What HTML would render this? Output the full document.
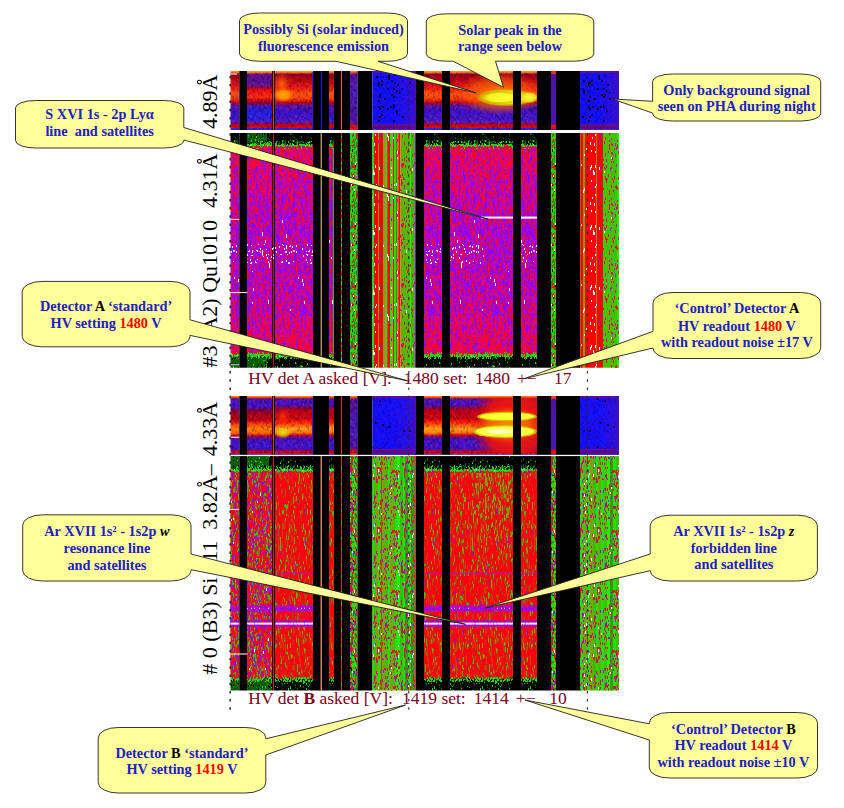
<!DOCTYPE html>
<html><head><meta charset="utf-8"><title>HV detectors</title>
<style>html,body{margin:0;padding:0;background:#fff;}body{width:844px;height:808px;overflow:hidden;font-family:"Liberation Serif",serif;}svg{display:block}</style>
</head><body><svg width="844" height="808" viewBox="0 0 844 808" font-family="Liberation Serif, serif"><defs><pattern id="p1" x="0" y="0" width="30" height="50" patternUnits="userSpaceOnUse"><path stroke="#000000" stroke-width="1.5" fill="none" d="M0.75 6v2M2.25 30v2m0 12v2M3.75 4v4m0 12v2m0 16v2m0 6v2M5.25 24v2M6.75 10v2m0 28v2M8.25 34v2M9.75 42v2M12.75 30v2m0 6v2M14.25 30v2m0 8v4M17.25 26v2M18.75 0v2m0 4v2m0 12v2m0 10v4M20.25 8v2m0 6v2m0 28v2M21.75 14v2m0 14v2m0 2v2M23.25 6v2M27.75 8v2m0 28v2M29.25 24v6"/></pattern><pattern id="p2" x="0" y="0" width="45" height="48" patternUnits="userSpaceOnUse"><rect width="45" height="48" fill="#1010ff"/><path stroke="#2010f0" stroke-width="1.5" fill="none" d="M0.75 0v2m0 2v2m0 18v2m0 8v2M2.25 0v2m0 18v4m0 8v2M3.75 0v2m0 4v2m0 8v2m0 2v4m0 14v2M5.25 0v4m0 18v4m0 2v2m0 10v2M6.75 2v2m0 6v16m0 6v4m0 2v2m0 6v2M8.25 0v4m0 6v4m0 8v4m0 14v2M9.75 0v2m0 12v2m0 12v2m0 2v2M11.25 0v2m0 12v2m0 14v2m0 4v4M12.75 4v2m0 2v2m0 34v2M14.25 2v2m0 4v2m0 2v2m0 4v2m0 4v2m0 6v2m0 12v2M15.75 0v8m0 8v2m0 2v2m0 2v6m0 8v2m0 4v2M17.25 4v2m0 6v2m0 14v2m0 14v2M18.75 2v2m0 4v2m0 2v2m0 2v4m0 4v2m0 2v2m0 2v2M20.25 2v4m0 8v2m0 2v2m0 6v2m0 4v2m0 8v2M21.75 12v2m0 10v2m0 4v2m0 10v2M23.25 2v2m0 16v2m0 10v2m0 4v2M24.75 0v2m0 2v2m0 18v4m0 2v2m0 2v2m0 2v4M26.25 10v2m0 6v2m0 2v2m0 8v2m0 6v2M27.75 0v2m0 6v2m0 6v2m0 8v2m0 18v2M29.25 14v2m0 14v2m0 4v4m0 6v2M30.75 6v2m0 10v2m0 8v4m0 10v4M32.25 4v2m0 12v2m0 6v2m0 18v2M33.75 0v2m0 4v2m0 10v4m0 20v2m0 2v2M35.25 6v2m0 10v2m0 6v4m0 10v6M36.75 4v4m0 2v4m0 16v2m0 4v2m0 2v2m0 4v2M38.25 22v4m0 2v2m0 14v4M39.75 2v2m0 4v4m0 14v2m0 8v2M41.25 4v4m0 24v4m0 2v2m0 2v2m0 2v2M42.75 18v2m0 6v2m0 8v4M44.25 0v2m0 2v2m0 4v2m0 2v2m0 12v2m0 2v2m0 4v2m0 2v2"/><path stroke="#0a0ae0" stroke-width="1.5" fill="none" d="M0.75 6v2m0 10v2M2.25 8v2m0 20v2m0 10v2m0 2v2M3.75 2v2m0 4v2m0 2v2m0 28v4M5.25 4v2m0 36v6M6.75 30v2m0 4v2M8.25 6v2m0 36v4M9.75 10v2m0 12v2m0 12v4m0 4v2M11.25 2v2m0 4v2m0 6v2m0 2v2m0 2v2m0 8v2m0 8v2M12.75 0v2m0 4v2m0 4v4m0 6v2m0 12v2M14.25 10v2m0 8v2m0 18v2m0 2v2M15.75 18v2m0 10v2m0 2v2m0 4v2M17.25 16v2m0 22v2M18.75 10v2m0 24v4M20.25 0v2m0 4v2m0 4v2m0 14v2m0 10v2M21.75 4v2m0 8v4m0 10v2m0 6v4m0 4v2M23.25 28v2m0 10v2M24.75 16v2m0 2v4m0 18v2M26.25 8v2m0 4v2m0 4v2m0 2v2m0 2v2m0 4v2M27.75 4v2m0 22v2m0 4v2m0 4v2M29.25 34v2m0 4v2m0 2v2M30.75 2v2m0 6v2m0 10v2M32.25 10v4m0 10v2m0 6v2m0 8v2M33.75 4v2m0 2v6m0 2v2m0 8v2m0 8v4m0 4v2M35.25 0v2m0 6v2m0 14v2M36.75 0v2m0 12v2m0 2v2m0 24v2M38.25 18v2M39.75 0v2m0 10v2m0 26v4M41.25 8v2m0 30v2M42.75 2v2m0 28v2m0 6v4M44.25 2v2m0 12v2m0 4v2m0 2v2m0 18v2"/><path stroke="#3000c8" stroke-width="1.5" fill="none" d="M0.75 22v2M2.25 4v2m0 28v2m0 2v2M5.25 32v2m0 4v2M6.75 4v2M8.25 4v2M9.75 12v2M11.25 40v2M12.75 10v2m0 22v2m0 10v2M15.75 22v2m0 22v2M18.75 0v2m0 18v4M20.25 10v2m0 24v2M21.75 22v2m0 10v2M23.25 18v2M24.75 10v2M26.25 36v2M27.75 12v2m0 4v2m0 12v2M29.25 24v2M30.75 38v2M32.25 6v2m0 14v2m0 4v2M33.75 24v2M35.25 46v2M36.75 38v2M38.25 8v2M39.75 18v2m0 14v2M42.75 10v2"/><path stroke="#000000" stroke-width="1.5" fill="none" d="M5.25 34v2M9.75 2v2M20.25 46v2M24.75 2v2M35.25 34v2M36.75 16v2M42.75 20v2"/></pattern><pattern id="p3" x="0" y="0" width="45" height="48" patternUnits="userSpaceOnUse"><rect width="45" height="48" fill="#1010ff"/><path stroke="#2010f0" stroke-width="1.5" fill="none" d="M0.75 6v2m0 36v2M2.25 14v2m0 6v2m0 2v4m0 12v2M3.75 4v2m0 2v2m0 2v2m0 4v2m0 4v2m0 4v2m0 2v2m0 4v2M5.25 0v2m0 6v4m0 2v2m0 6v2m0 2v4m0 2v2m0 4v2M6.75 0v2m0 2v2m0 6v4m0 8v8m0 4v2m0 4v2M8.25 14v2m0 16v6m0 4v2M9.75 16v2m0 16v2m0 2v2m0 2v2m0 2v2M11.25 8v2m0 2v2m0 6v2m0 8v10m0 2v2M12.75 0v2m0 6v2m0 6v2m0 4v2m0 8v2m0 2v2m0 4v6M14.25 2v2m0 22v4m0 4v2M15.75 10v2m0 2v2m0 8v2m0 20v2M17.25 0v2m0 10v2m0 16v2m0 4v2m0 6v4M18.75 4v4m0 6v2m0 8v2M20.25 8v2m0 16v2m0 8v2m0 2v2M21.75 2v2m0 14v2m0 18v2m0 4v2M23.25 2v4m0 2v2m0 10v4m0 8v2M24.75 0v6m0 4v2m0 10v2m0 10v2m0 6v6M26.25 8v2m0 4v2m0 12v2m0 4v4m0 2v2m0 4v2M27.75 16v2m0 20v4m0 4v2M29.25 4v2m0 2v4m0 8v2m0 2v2m0 18v2M30.75 22v4m0 2v2m0 4v2M32.25 10v2m0 8v2m0 4v6m0 2v2m0 2v2m0 2v2m0 2v2M33.75 2v2m0 6v2m0 4v4m0 12v2m0 8v2M35.25 16v2m0 20v2m0 4v2M36.75 8v2m0 14v6m0 2v2m0 10v2M38.25 6v4m0 16v2m0 6v2m0 8v2M39.75 6v2m0 2v2m0 20v8m0 2v2M41.25 0v4m0 2v4m0 20v4m0 2v4M42.75 8v2m0 2v2m0 4v6m0 16v2m0 4v2M44.25 2v4m0 8v2m0 8v2m0 2v2m0 2v4m0 2v2"/><path stroke="#0a0ae0" stroke-width="1.5" fill="none" d="M0.75 10v2m0 8v2m0 10v4M2.25 4v2m0 38v2M3.75 2v2m0 2v2m0 6v2m0 26v2m0 2v2M6.75 6v2m0 2v2m0 22v2M8.25 0v2m0 26v2m0 8v2M9.75 0v2m0 10v2m0 8v2m0 2v2m0 16v2M11.25 4v2m0 12v2m0 8v2m0 16v2M12.75 20v2m0 4v2m0 6v2M14.25 0v2m0 14v2m0 2v2m0 14v4M15.75 8v2m0 26v2M17.25 16v2m0 16v2M18.75 20v4m0 6v2m0 6v2m0 2v2M20.25 12v2m0 4v2m0 14v2m0 8v4M21.75 14v2m0 30v2M23.25 10v2m0 14v4m0 16v2M24.75 12v6m0 10v2m0 10v2M26.25 0v4m0 6v2m0 32v2M27.75 4v2m0 36v2M29.25 0v2m0 4v2m0 6v6m0 6v2m0 2v2m0 2v2m0 2v2M30.75 16v2m0 20v4M33.75 12v2M35.25 4v6m0 32v2m0 2v2M36.75 2v2m0 2v2m0 28v2m0 4v2m0 2v2M38.25 4v2m0 4v2m0 10v2m0 16v2M39.75 12v2M41.25 12v2m0 6v4m0 16v2m0 2v2M42.75 2v2m0 20v2m0 12v2m0 2v2M44.25 44v2"/><path stroke="#3000c8" stroke-width="1.5" fill="none" d="M0.75 14v4m0 6v2m0 14v2M2.25 20v2m0 18v2M3.75 38v2m0 4v2M5.25 2v4m0 36v2M6.75 22v2m0 16v2M8.25 4v2m0 6v2m0 4v4m0 18v2m0 4v2M9.75 20v2m0 2v2m0 10v2M11.25 14v2M12.75 2v6M14.25 22v2m0 8v2m0 8v2m0 2v2M15.75 16v2m0 14v2M17.25 14v2m0 22v2M18.75 28v2M21.75 0v2m0 14v2m0 2v2m0 12v2m0 4v2M23.25 14v2M24.75 6v2M26.25 12v2m0 2v2m0 4v2m0 8v2M27.75 10v2m0 18v2M29.25 40v2M30.75 18v2M32.25 0v2m0 22v2M33.75 4v2m0 2v2m0 16v2m0 2v2m0 2v2M35.25 2v2m0 6v2m0 6v2m0 10v2m0 8v2M36.75 4v2m0 6v2m0 8v2m0 14v2M38.25 14v2M39.75 4v2m0 8v2m0 2v2m0 8v2M42.75 0v2m0 30v2M44.25 42v2"/><path stroke="#000000" stroke-width="1.5" fill="none" d="M5.25 46v2M12.75 14v2M15.75 38v2M20.25 16v2M23.25 40v2M29.25 42v2M44.25 46v2"/></pattern><pattern id="p4" x="0" y="0" width="45" height="50" patternUnits="userSpaceOnUse"><path stroke="rgba(0,0,0,0.22)" stroke-width="1.5" fill="none" d="M0.75 8v2m0 3v5m0 12v6m0 4v3M2.25 3v3m0 9v2m0 6v9m0 2v3m0 5v2M3.75 6v3m0 7v3m0 8v5m0 6v3m0 4v3M5.25 18v3m0 3v3m0 10v2m0 8v3M6.75 8v3m0 5v2m0 4v3m0 20v3M8.25 3v3m0 5v2m0 4v3m0 17v4m0 5v4M9.75 11v6M11.25 22v2m0 2v2m0 20v2M12.75 17v2M14.25 26v3M15.75 13v3m0 23v3M17.25 16v3m0 3v2m0 3v3m0 2v2m0 3v3M18.75 5v3m0 3v2m0 6v3m0 13v2m0 8v2M20.25 8v3m0 4v3m0 2v3m0 12v5M21.75 0v5m0 20v2M23.25 16v2m0 6v3m0 11v2m0 3v3m0 3v1M24.75 10v2m0 36v2M26.25 18v3m0 21v2m0 5v1M27.75 4v5m0 8v3m0 9v3m0 2v3m0 2v3M29.25 7v3m0 3v3m0 12v3m0 9v3m0 3v2M30.75 5v2m0 4v3m0 7v3m0 6v2M32.25 2v2m0 12v2m0 5v2m0 13v3M33.75 9v2m0 21v2m0 8v2m0 4v2M35.25 2v3m0 2v5m0 5v2M36.75 0v3m0 7v3m0 12v3m0 7v3m0 4v4m0 3v1M38.25 8v3m0 8v2m0 6v3M39.75 0v3m0 3v3m0 30v3M41.25 2v2m0 3v2m0 4v2m0 7v4m0 21v2M42.75 11v5m0 6v2m0 2v5m0 5v3M44.25 26v2m0 17v5"/><path stroke="rgba(120,0,255,0.22)" stroke-width="1.5" fill="none" d="M0.75 26v2m0 8v2M2.25 40v2M3.75 11v2M6.75 0v2m0 2v2m0 5v2M8.25 0v3m0 19v3M9.75 4v2m0 28v3M11.25 3v3m0 14v2m0 8v3m0 10v5M12.75 10v5m0 24v3m0 3v5M14.25 36v5M15.75 8v3m0 12v3m0 22v2M17.25 13v3m0 14v2M18.75 43v2M20.25 5v3m0 36v3M21.75 10v3M23.25 3v3m0 27v3M24.75 32v2M26.25 8v2M27.75 47v2M29.25 2v5m0 11v3m0 5v2m0 15v3M30.75 48v2M32.25 9v2M33.75 11v2m0 3v2m0 16v5m0 5v2M36.75 38v2M38.25 14v3m0 6v2m0 11v2M39.75 20v3M41.25 28v3M42.75 8v3M44.25 12v2"/><path stroke="rgba(255,40,0,0.18)" stroke-width="1.5" fill="none" d="M0.75 38v2m0 5v2M2.25 12v3M5.25 39v2M6.75 6v2m0 17v5m0 3v3m0 3v2m0 2v2M8.25 30v2m0 3v2M9.75 37v2m0 6v2M11.25 16v2m0 20v3M12.75 2v3m0 19v3m0 10v2M14.25 3v2m0 36v3m0 3v3M15.75 42v2M17.25 0v2m0 5v6m0 21v3M18.75 8v3M20.25 26v3M21.75 5v3m0 26v2M23.25 6v3M24.75 15v2m0 23v3M26.25 47v2M27.75 0v2m0 20v2m0 2v3M30.75 3v2m0 40v3M32.25 6v3m0 5v2m0 17v3M35.25 12v5m0 4v2m0 10v2m0 3v3m0 8v1M36.75 3v5M38.25 21v2m0 2v2M39.75 3v3m0 23v2m0 5v3M41.25 11v2M44.25 3v3m0 28v3"/><path stroke="rgba(255,255,255,0.08)" stroke-width="1.5" fill="none" d="M2.25 48v2M3.75 4v2m0 7v3m0 6v5M5.25 3v2m0 2v2m0 7v2m0 3v3M6.75 2v2m0 26v3m0 8v2M8.25 20v2M9.75 31v3M11.25 0v3m0 3v3M14.25 7v2m0 35v3M15.75 37v2M18.75 40v3M20.25 0v3m0 15v2m0 9v3M21.75 20v2m0 7v2m0 12v3M23.25 21v3m0 16v3M24.75 0v3m0 2v3m0 26v3M26.25 6v2m0 7v3m0 3v3m0 20v3M27.75 32v2M29.25 0v2m0 31v5M30.75 17v2M32.25 20v3m0 20v3M33.75 3v3M36.75 20v5m0 8v2M38.25 0v3m0 30v3m0 5v2M39.75 42v5M41.25 4v3m0 27v3M42.75 19v3m0 23v3M44.25 14v3"/></pattern><clipPath id="clipA"><rect x="450" y="73.0" width="63" height="55.0"/><rect x="521" y="73.0" width="16" height="55.0"/></clipPath><clipPath id="clipB"><rect x="450" y="398.0" width="63" height="54.80000000000001"/><rect x="521" y="398.0" width="16" height="54.80000000000001"/></clipPath><linearGradient id="g1" x1="0" y1="0" x2="0" y2="1"><stop offset="0" stop-color="#ffa020"/><stop offset="0.035" stop-color="#ff6010"/><stop offset="0.05" stop-color="#5a1090"/><stop offset="0.24" stop-color="#5a1090"/><stop offset="0.28" stop-color="#a00030"/><stop offset="0.33" stop-color="#f01010"/><stop offset="0.45" stop-color="#ff2808"/><stop offset="0.5" stop-color="#c00020"/><stop offset="0.55" stop-color="#800040"/><stop offset="0.6" stop-color="#3018c8"/><stop offset="0.72" stop-color="#2020e8"/><stop offset="0.86" stop-color="#3818d0"/><stop offset="0.9" stop-color="#b00030"/><stop offset="0.96" stop-color="#c01020"/><stop offset="0.97" stop-color="#3020e0"/><stop offset="1" stop-color="#3020e0"/></linearGradient><linearGradient id="g2" x1="0" y1="0" x2="0" y2="1"><stop offset="0" stop-color="#ffa020"/><stop offset="0.035" stop-color="#ff6010"/><stop offset="0.05" stop-color="#800030"/><stop offset="0.12" stop-color="#b00010"/><stop offset="0.24" stop-color="#d01010"/><stop offset="0.32" stop-color="#ff2808"/><stop offset="0.38" stop-color="#ff5000"/><stop offset="0.47" stop-color="#ff4000"/><stop offset="0.53" stop-color="#c00010"/><stop offset="0.59" stop-color="#5010a0"/><stop offset="0.7" stop-color="#3a10d0"/><stop offset="0.86" stop-color="#4818c0"/><stop offset="0.9" stop-color="#b00030"/><stop offset="0.96" stop-color="#d01010"/><stop offset="0.97" stop-color="#3020e0"/><stop offset="1" stop-color="#3020e0"/></linearGradient><linearGradient id="g3" x1="0" y1="0" x2="0" y2="1"><stop offset="0" stop-color="#5010a0"/><stop offset="0.03728813559322034" stop-color="#5010a0"/><stop offset="0.04406779661016949" stop-color="#3010c0" stop-opacity="0"/><stop offset="0.8813559322033898" stop-color="#3010c0" stop-opacity="0"/><stop offset="0.9067796610169492" stop-color="#5a10a0" stop-opacity="0.9"/><stop offset="0.9745762711864406" stop-color="#700050" stop-opacity="1"/><stop offset="0.9796610169491525" stop-color="#3020e0" stop-opacity="1"/><stop offset="1" stop-color="#3020e0" stop-opacity="1"/></linearGradient><linearGradient id="g4" x1="0" y1="0" x2="0" y2="1"><stop offset="0" stop-color="#ffa020"/><stop offset="0.03" stop-color="#ff3010"/><stop offset="0.06" stop-color="#5010a0"/><stop offset="0.5" stop-color="#4818b8"/><stop offset="0.88" stop-color="#5010a0"/><stop offset="0.92" stop-color="#c01020"/><stop offset="1" stop-color="#e02010"/></linearGradient><linearGradient id="g5" x1="0" y1="0" x2="1" y2="0"><stop offset="0" stop-color="#6010a0" stop-opacity="0"/><stop offset="1" stop-color="#6010a0" stop-opacity="0.45"/></linearGradient><linearGradient id="g6" x1="0" y1="0" x2="1" y2="0"><stop offset="0" stop-color="#4010c0" stop-opacity="0"/><stop offset="1" stop-color="#5010a0" stop-opacity="0.9"/></linearGradient><linearGradient id="g7" x1="0" y1="0" x2="0" y2="1"><stop offset="0" stop-color="#ff3010"/><stop offset="0.04" stop-color="#ff3010"/><stop offset="0.06" stop-color="#5010a0"/><stop offset="0.9" stop-color="#4818b0"/><stop offset="0.92" stop-color="#e01010"/><stop offset="0.98" stop-color="#e01010"/><stop offset="0.99" stop-color="#4020c0"/><stop offset="1" stop-color="#4020c0"/></linearGradient><linearGradient id="g8" x1="0" y1="0" x2="1" y2="0"><stop offset="0" stop-color="#6010a0" stop-opacity="0"/><stop offset="1" stop-color="#6010a0" stop-opacity="0.45"/></linearGradient><linearGradient id="g9" x1="0" y1="0" x2="1" y2="0"><stop offset="0" stop-color="#4010c0" stop-opacity="0"/><stop offset="1" stop-color="#5010a0" stop-opacity="0.9"/></linearGradient><radialGradient id="g10"><stop offset="0" stop-color="#ff7000" stop-opacity="0.9"/><stop offset="1" stop-color="#ff4000" stop-opacity="0"/></radialGradient><radialGradient id="g11"><stop offset="0" stop-color="#ffa800" stop-opacity="1"/><stop offset="0.55" stop-color="#ff9000" stop-opacity="0.95"/><stop offset="1" stop-color="#ff5000" stop-opacity="0"/></radialGradient><radialGradient id="g12"><stop offset="0" stop-color="#ff9000" stop-opacity="0.9"/><stop offset="0.7" stop-color="#ff6000" stop-opacity="0.5"/><stop offset="1" stop-color="#ff3000" stop-opacity="0"/></radialGradient><radialGradient id="g13"><stop offset="0" stop-color="#ffff40" stop-opacity="1"/><stop offset="0.6" stop-color="#f8f020" stop-opacity="1"/><stop offset="0.85" stop-color="#d0c000" stop-opacity="0.8"/><stop offset="1" stop-color="#ff9000" stop-opacity="0"/></radialGradient><radialGradient id="g14"><stop offset="0" stop-color="#ffff40" stop-opacity="1"/><stop offset="0.7" stop-color="#e8e020" stop-opacity="0.9"/><stop offset="1" stop-color="#ff9000" stop-opacity="0"/></radialGradient><linearGradient id="g15" x1="0" y1="0" x2="0" y2="1"><stop offset="0" stop-color="#ffa020"/><stop offset="0.03" stop-color="#ff3010"/><stop offset="0.05" stop-color="#4a10b0"/><stop offset="0.18" stop-color="#3a10d0"/><stop offset="0.24" stop-color="#800040"/><stop offset="0.32" stop-color="#b00018"/><stop offset="0.42" stop-color="#c00010"/><stop offset="0.48" stop-color="#ff4000"/><stop offset="0.56" stop-color="#ff8000"/><stop offset="0.63" stop-color="#ff6000"/><stop offset="0.68" stop-color="#b00020"/><stop offset="0.73" stop-color="#4010c0"/><stop offset="0.9" stop-color="#3a10d0"/><stop offset="0.93" stop-color="#a00030"/><stop offset="0.98" stop-color="#c01020"/><stop offset="1" stop-color="#4020c0"/></linearGradient><linearGradient id="g16" x1="0" y1="0" x2="0" y2="1"><stop offset="0" stop-color="#ffa020"/><stop offset="0.03" stop-color="#ff3010"/><stop offset="0.05" stop-color="#4a10b0"/><stop offset="0.15" stop-color="#4010c0"/><stop offset="0.2" stop-color="#800040"/><stop offset="0.25" stop-color="#c00010"/><stop offset="0.38" stop-color="#d00010"/><stop offset="0.45" stop-color="#ff2000"/><stop offset="0.5" stop-color="#ff6000"/><stop offset="0.56" stop-color="#ffa020"/><stop offset="0.62" stop-color="#ff7000"/><stop offset="0.67" stop-color="#c00020"/><stop offset="0.72" stop-color="#4010c0"/><stop offset="0.9" stop-color="#4010c8"/><stop offset="0.93" stop-color="#a00030"/><stop offset="0.98" stop-color="#c01020"/><stop offset="1" stop-color="#4020c0"/></linearGradient><linearGradient id="g17" x1="0" y1="0" x2="0" y2="1"><stop offset="0" stop-color="#5010a0"/><stop offset="0.03741496598639455" stop-color="#5010a0"/><stop offset="0.044217687074829926" stop-color="#3010c0" stop-opacity="0"/><stop offset="0.8809523809523809" stop-color="#3010c0" stop-opacity="0"/><stop offset="0.9064625850340137" stop-color="#5a10a0" stop-opacity="0.9"/><stop offset="0.9744897959183674" stop-color="#700050" stop-opacity="1"/><stop offset="0.9795918367346939" stop-color="#3020e0" stop-opacity="1"/><stop offset="1" stop-color="#3020e0" stop-opacity="1"/></linearGradient><linearGradient id="g18" x1="0" y1="0" x2="0" y2="1"><stop offset="0" stop-color="#ffa020"/><stop offset="0.03" stop-color="#ff3010"/><stop offset="0.06" stop-color="#5010a0"/><stop offset="0.5" stop-color="#4818b8"/><stop offset="0.88" stop-color="#5010a0"/><stop offset="0.92" stop-color="#c01020"/><stop offset="1" stop-color="#e02010"/></linearGradient><linearGradient id="g19" x1="0" y1="0" x2="1" y2="0"><stop offset="0" stop-color="#6010a0" stop-opacity="0"/><stop offset="1" stop-color="#6010a0" stop-opacity="0.45"/></linearGradient><linearGradient id="g20" x1="0" y1="0" x2="1" y2="0"><stop offset="0" stop-color="#4010c0" stop-opacity="0"/><stop offset="1" stop-color="#5010a0" stop-opacity="0.9"/></linearGradient><linearGradient id="g21" x1="0" y1="0" x2="0" y2="1"><stop offset="0" stop-color="#ff3010"/><stop offset="0.04" stop-color="#ff3010"/><stop offset="0.06" stop-color="#5010a0"/><stop offset="0.9" stop-color="#4818b0"/><stop offset="0.92" stop-color="#e01010"/><stop offset="0.98" stop-color="#e01010"/><stop offset="0.99" stop-color="#4020c0"/><stop offset="1" stop-color="#4020c0"/></linearGradient><linearGradient id="g22" x1="0" y1="0" x2="1" y2="0"><stop offset="0" stop-color="#6010a0" stop-opacity="0"/><stop offset="1" stop-color="#6010a0" stop-opacity="0.45"/></linearGradient><linearGradient id="g23" x1="0" y1="0" x2="1" y2="0"><stop offset="0" stop-color="#4010c0" stop-opacity="0"/><stop offset="1" stop-color="#5010a0" stop-opacity="0.9"/></linearGradient><radialGradient id="g24"><stop offset="0" stop-color="#f0e000" stop-opacity="1"/><stop offset="0.6" stop-color="#e0d000" stop-opacity="0.7"/><stop offset="1" stop-color="#ff9000" stop-opacity="0"/></radialGradient><radialGradient id="g25"><stop offset="0" stop-color="#ff3000" stop-opacity="0.9"/><stop offset="1" stop-color="#ff3000" stop-opacity="0"/></radialGradient><radialGradient id="g26"><stop offset="0" stop-color="#ffa000" stop-opacity="0.9"/><stop offset="1" stop-color="#ff8000" stop-opacity="0"/></radialGradient><radialGradient id="g27"><stop offset="0" stop-color="#ff2000" stop-opacity="1"/><stop offset="0.65" stop-color="#e81010" stop-opacity="0.9"/><stop offset="1" stop-color="#c00020" stop-opacity="0"/></radialGradient><radialGradient id="g28"><stop offset="0" stop-color="#ff9000" stop-opacity="1"/><stop offset="0.6" stop-color="#ff7000" stop-opacity="0.8"/><stop offset="1" stop-color="#ff4000" stop-opacity="0"/></radialGradient><radialGradient id="g29"><stop offset="0" stop-color="#ffffe0" stop-opacity="1"/><stop offset="0.6" stop-color="#ffffa0" stop-opacity="1"/><stop offset="1" stop-color="#ffff40" stop-opacity="0"/></radialGradient><pattern id="p5" x="0" y="149" width="64" height="205" patternUnits="userSpaceOnUse"><path stroke="#a000e8" stroke-width="1" fill="none" d="M0.5 0v1m0 21v1m0 49v2m0 5v2m0 16v6m0 24v4m0 1v4m0 20v1m0 46v2M1.5 8v2m0 9v5m0 12v3m0 14v1m0 2v1m0 7v3m0 30v4m0 4v8m0 22v2m0 13v2m0 11v5m0 8v3M2.5 23v3m0 12v4m0 3v1m0 5v2m0 12v3m0 18v1m0 4v10m0 10v2m0 18v3m0 36v4m0 25v2M3.5 9v2m0 39v2m0 68v3m0 20v1m0 16v3m0 15v1M4.5 11v8m0 14v1m0 10v3m0 4v4m0 7v5m0 4v3m0 5v2m0 15v3m0 32v3m0 22v4m0 23v2m0 9v1m0 2v1M5.5 25v4m0 4v2m0 49v5m0 1v5m0 9v3m0 19v4m0 21v2m0 1v1M6.5 0v2m0 12v4m0 17v4m0 28v3m0 65v2m0 18v7m0 41v2M7.5 19v1m0 53v5m0 12v2m0 18v5m0 25v5m0 2v3M8.5 17v5m0 9v4m0 11v7m0 31v3m0 6v2m0 42v6m0 18v5m0 11v2m0 3v5M9.5 18v8m0 10v2m0 116v2m0 23v1m0 6v4M10.5 66v2m0 7v4m0 7v2m0 6v4m0 1v1m0 17v2m0 6v4m0 6v1m0 40v2m0 23v4M11.5 34v3m0 6v2m0 9v3m0 22v2m0 12v2m0 32v4m0 3v2m0 60v1M12.5 0v5m0 11v3m0 2v4m0 30v5m0 5v5m0 28v4m0 36v3m0 8v2m0 4v4m0 2v4m0 12v1M13.5 24v1m0 2v4m0 61v4m0 7v11m0 9v2m0 2v3m0 21v3m0 17v2M14.5 25v4m0 48v8m0 5v2m0 20v3m0 21v2m0 2v2m0 34v5M15.5 19v5m0 118v3m0 2v3m0 11v2M16.5 9v5m0 39v4m0 25v3m0 23v4m0 22v4m0 38v5m0 3v1m0 9v2M17.5 33v2m0 31v1m0 27v5m0 22v6m0 7v4M18.5 0v4m0 41v2m0 1v5m0 24v1m0 55v3m0 34v1m0 2v4M19.5 53v2m0 24v3m0 11v2m0 16v3m0 5v2m0 15v1m0 15v4m0 13v3M20.5 25v2m0 18v5m0 13v1m0 8v4m0 25v2m0 9v2m0 38v1m0 11v2M21.5 23v2m0 5v3m0 3v4m0 5v3m0 2v2m0 10v3m0 33v3m0 6v3m0 5v5m0 23v5M22.5 52v5m0 2v2m0 24v2m0 4v5m0 12v2m0 19v7m0 24v5m0 16v5M23.5 0v3m0 50v2m0 4v8m0 67v2M24.5 12v3m0 22v4m0 82v8M25.5 41v5m0 3v1m0 21v3m0 21v2m0 6v5m0 23v4m0 14v2M26.5 11v4m0 81v2m0 18v2m0 23v1m0 2v5m0 11v3m0 18v3M27.5 35v2m0 8v4m0 9v11m0 2v5m0 18v2m0 24v2m0 6v4m0 70v2M28.5 47v3m0 17v19m0 18v1m0 33v1m0 3v2m0 10v7m0 5v4m0 11v3M29.5 18v2m0 24v10m0 15v4m0 25v4m0 14v5m0 27v5m0 4v1M30.5 3v2m0 18v4m0 9v3m0 78v10m0 26v4M31.5 3v4m0 20v2m0 31v6m0 30v3m0 3v1m0 3v2m0 48v7m0 22v1M32.5 58v2m0 90v3m0 13v2m0 11v1M33.5 51v4m0 19v4m0 32v3m0 87v3M34.5 2v2m0 15v3m0 46v8m0 18v2m0 16v12m0 16v1m0 6v4m0 16v3m0 8v2m0 23v1M35.5 4v2m0 80v1m0 30v1m0 2v2m0 15v3m0 24v2M36.5 27v4m0 34v5m0 9v2m0 31v1m0 42v5M37.5 29v3m0 25v1m0 40v4m0 10v3m0 6v5M38.5 33v5m0 49v2m0 24v2m0 14v4m0 14v4M39.5 5v2m0 27v4m0 13v1m0 14v3m0 25v6m0 19v1m0 17v1m0 12v4m0 12v4m0 4v5m0 19v2M40.5 35v4m0 8v1m0 20v1m0 9v5m0 11v2m0 3v3m0 28v4m0 62v2M41.5 8v5m0 26v2m0 4v1m0 4v1m0 3v3m0 41v1m0 34v3m0 10v2m0 12v2m0 9v2m0 15v4M42.5 18v2m0 21v2m0 37v2m0 24v3m0 17v2m0 12v7m0 19v4m0 15v4m0 2v2m0 9v2M43.5 22v2m0 45v3m0 22v3m0 20v3m0 3v3m0 14v1m0 30v1M44.5 42v1m0 36v1m0 10v2m0 16v1m0 12v2m0 20v1m0 23v2m0 13v2m0 17v4M45.5 5v5m0 22v5m0 20v3m0 2v1m0 12v2m0 43v2m0 5v5m0 29v2m0 1v4M46.5 45v2m0 5v3m0 5v7m0 21v2m0 24v1m0 8v4m0 6v5m0 16v5m0 4v5m0 2v1M47.5 0v3m0 7v4m0 34v1m0 57v2m0 39v3M48.5 97v1m0 5v4m0 43v2m0 6v5m0 6v2M49.5 33v10m0 21v3m0 10v2m0 5v4m0 1v2m0 10v6m0 8v3m0 13v3m0 7v2m0 11v2m0 9v4m0 1v4m0 26v4M50.5 11v1m0 20v8m0 14v1m0 3v6m0 2v2m0 19v11m0 48v4m0 8v8M51.5 44v3m0 7v4m0 27v2m0 22v1m0 19v4m0 8v3m0 16v4M52.5 18v3m0 30v6m0 8v1m0 7v5m0 22v2m0 2v5m0 9v1m0 38v2m0 7v2M53.5 22v2m0 7v4m0 7v4m0 9v2m0 32v3m0 13v4m0 36v2m0 32v1m0 13v1M54.5 9v2m0 55v5m0 8v3m0 8v5m0 7v2m0 59v5M55.5 65v5m0 12v2m0 1v1m0 21v2m0 28v5m0 24v2m0 8v2M56.5 54v2m0 19v2m0 7v6m0 18v2m0 54v3m0 10v4M57.5 0v3m0 40v8m0 33v10m0 7v4m0 14v4m0 13v2m0 4v2m0 16v2M58.5 33v2m0 17v1m0 12v7m0 10v5m0 2v3m0 5v3m0 26v5m0 11v3m0 3v3m0 2v2m0 12v2M59.5 20v2m0 7v4m0 9v4m0 12v4m0 42v2m0 19v8m0 5v1m0 33v3m0 16v3M60.5 26v2m0 11v2m0 3v5m0 2v2m0 28v4m0 5v4m0 20v3m0 6v2m0 15v3m0 18v1m0 14v2m0 5v4M61.5 21v1m0 22v2m0 5v2m0 26v2m0 13v2m0 7v2m0 6v4m0 42v1m0 7v3m0 11v1M62.5 21v4m0 77v4m0 6v3m0 5v1M63.5 7v3m0 15v1m0 1v3m0 4v2m0 32v1m0 13v5m0 16v3m0 7v1m0 23v4m0 34v4m0 11v3"/><path stroke="#dc0076" stroke-width="1" fill="none" d="M0.5 1v2m0 9v6m0 25v3m0 16v3m0 53v1m0 5v3m0 4v1m0 4v5m0 13v2m0 1v2m0 11v8m0 17v2M1.5 17v1m0 13v2m0 6v5m0 31v4m0 22v2m0 10v6m0 18v5m0 18v2m0 6v8m0 3v3m0 22v1M2.5 21v2m0 10v2m0 22v2m0 21v1m0 6v4m0 10v3m0 82v2m0 4v2M3.5 0v3m0 8v3m0 8v6m0 2v4m0 5v3m0 81v10m0 19v1m0 20v3M4.5 41v3m0 11v2m0 36v3m0 33v2m0 7v3m0 7v8m0 4v2m0 1v4m0 6v4m0 11v4m0 6v4M5.5 6v4m0 2v3m0 8v2m0 24v2m0 8v3m0 5v3m0 10v1m0 14v2m0 42v4m0 17v5m0 2v1m0 19v3m0 4v2m0 6v3M6.5 11v3m0 4v4m0 4v9m0 13v4m0 20v2m0 13v6m0 6v4m0 11v3m0 14v4m0 16v2M7.5 0v2m0 7v3m0 8v11m0 13v3m0 46v5m0 53v1m0 13v7m0 22v7M8.5 0v4m0 31v4m0 2v5m0 56v3m0 27v2m0 9v5m0 8v2m0 14v4m0 4v2M9.5 0v3m0 9v2m0 15v7m0 6v2m0 15v5m0 22v3m0 18v7m0 38v2m0 2v7m0 7v2m0 20v2m0 5v2M10.5 9v2m0 4v5m0 12v2m0 5v4m0 39v4m0 5v3m0 4v1m0 1v4m0 3v5m0 10v3m0 7v3m0 1v4m0 8v2m0 6v2m0 16v2m0 2v4m0 4v4M11.5 14v2m0 7v4m0 3v4m0 11v4m0 37v3m0 53v3M12.5 5v3m0 1v5m0 11v2m0 13v2m0 6v4m0 12v1m0 5v8m0 11v2m0 28v4m0 13v2m0 21v2m0 17v3m0 1v2M13.5 0v1m0 10v5m0 10v1m0 6v2m0 3v3m0 4v11m0 31v2m0 7v3m0 45v5m0 24v1m0 8v3m0 9v10M14.5 3v1m0 37v5m0 57v4m0 11v6m0 35v5m0 19v3m0 7v4m0 5v3M15.5 27v2m0 5v3m0 10v5m0 59v1m0 26v4m0 30v4m0 10v8m0 6v3M16.5 0v2m0 23v1m0 11v7m0 7v2m0 44v3m0 3v5m0 32v2m0 6v5m0 18v5m0 5v3m0 1v3m0 4v2M17.5 5v2m0 8v2m0 3v4m0 14v6m0 10v4m0 4v1m0 79v4m0 35v1M18.5 5v4m0 4v3m0 14v3m0 3v4m0 26v4m0 6v1m0 1v3m0 34v2m0 44v2m0 17v3M19.5 11v1m0 4v8m0 23v2m0 72v1m0 7v3m0 24v5m0 39v5M20.5 2v1m0 3v2m0 2v3m0 1v2m0 15v1m0 20v5m0 9v4m0 27v4m0 19v3m0 3v5m0 17v2m0 21v5m0 5v4m0 14v2M21.5 0v5m0 5v11m0 4v3m0 5v3m0 12v2m0 2v4m0 13v5m0 46v1m0 9v3m0 39v3m0 5v2M22.5 24v5m0 6v3m0 2v3m0 21v2m0 2v4m0 24v2m0 12v4m0 36v4m0 32v3m0 7v2M23.5 6v10m0 39v4m0 10v1m0 53v4m0 18v4m0 6v5m0 10v6m0 20v4M24.5 19v1m0 10v2m0 9v2m0 9v5m0 113v3m0 8v15m0 5v2M25.5 37v4m0 5v3m0 25v2m0 6v5m0 41v3m0 16v2m0 4v2m0 21v7m0 3v3m0 2v2m0 2v4M26.5 26v1m0 38v1m0 8v3m0 61v3m0 8v2m0 6v2m0 16v3m0 26v1M27.5 24v2m0 15v4m0 31v2m0 68v3m0 4v1m0 11v1m0 12v1m0 25v1M28.5 16v2m0 26v3m0 17v3m0 19v7m0 29v2m0 6v2m0 13v7m0 9v4m0 5v2m0 18v3M29.5 20v4m0 1v1m0 2v9m0 4v3m0 41v3m0 20v6m0 16v3m0 57v3m0 11v1M30.5 39v7m0 6v1m0 3v3m0 13v5m0 23v2m0 45v2m0 13v8m0 6v10M31.5 16v2m0 7v2m0 24v3m0 45v3m0 27v1m0 17v4m0 3v2m0 15v2m0 5v3m0 11v2m0 4v5M32.5 6v8m0 12v5m0 9v4m0 53v7m0 15v3m0 5v4m0 25v4m0 37v5M33.5 7v7m0 24v1m0 39v2m0 8v4m0 23v3m0 1v4m0 28v4m0 1v2m0 16v1m0 3v2M34.5 0v2m0 2v2m0 4v1m0 31v4m0 7v12m0 25v4m0 30v2m0 6v5m0 33v5m0 14v10M35.5 0v4m0 2v4m0 24v1m0 2v3m0 31v2m0 21v2m0 28v5m0 15v3m0 1v2m0 2v4m0 16v4M36.5 8v2m0 24v2m0 7v3m0 24v2m0 9v8m0 13v1m0 6v3m0 13v5m0 41v8m0 11v5M37.5 3v3m0 8v1m0 3v2m0 12v2m0 6v3m0 6v4m0 22v4m0 8v3m0 51v4m0 14v5m0 21v1m0 9v6M38.5 14v5m0 64v2m0 30v3m0 3v2m0 13v6m0 9v5m0 42v1m0 3v2M39.5 0v5m0 47v4m0 13v2m0 15v2m0 25v1m0 24v2m0 30v2m0 22v4M40.5 2v5m0 14v5m0 33v1m0 1v1m0 51v2m0 4v2m0 27v5m0 16v3m0 26v1m0 2v4M41.5 4v1m0 20v8m0 8v4m0 18v6m0 14v2m0 19v2m0 20v5m0 31v9m0 2v2m0 17v2M42.5 0v5m0 41v1m0 14v3m0 14v2m0 2v4m0 7v2m0 23v3m0 12v1m0 30v2m0 4v1m0 2v4M43.5 20v2m0 18v3m0 1v1m0 6v1m0 3v2m0 10v2m0 6v3m0 20v2m0 13v2m0 11v5m0 17v2m0 1v2m0 5v1m0 4v2m0 7v4m0 8v3M44.5 2v3m0 8v1m0 14v2m0 2v2m0 21v1m0 10v2m0 29v2m0 6v3m0 22v5m0 5v3m0 35v1m0 10v6M45.5 0v3m0 11v2m0 2v2m0 17v2m0 49v5m0 47v2m0 16v3m0 35v4M46.5 7v2m0 7v5m0 5v5m0 7v6m0 26v3m0 9v1m0 36v4m0 19v5m0 24v7m0 8v4m0 6v4M47.5 5v2m0 7v5m0 13v4m0 20v3m0 31v3m0 27v2m0 7v5m0 11v2m0 5v2m0 14v2m0 4v5m0 2v5M48.5 5v5m0 4v4m0 32v3m0 15v5m0 19v5m0 10v6m0 9v4m0 15v3m0 44v4M49.5 16v1m0 57v2m0 3v5m0 4v1m0 54v4m0 33v3m0 21v1M50.5 0v3m0 9v8m0 5v2m0 4v1m0 32v2m0 37v2m0 10v2m0 19v4m0 49v4m0 10v2M51.5 0v3m0 20v2m0 11v4m0 18v6m0 6v3m0 14v5m0 1v6m0 20v4m0 4v2m0 18v5m0 12v1m0 2v2m0 2v2m0 4v4m0 10v5M52.5 0v2m0 4v2m0 8v2m0 3v4m0 167v2M53.5 3v1m0 47v4m0 2v2m0 6v1m0 34v4m0 51v2m0 9v3m0 6v4m0 20v1M54.5 16v4m0 33v7m0 25v2m0 20v3m0 17v3m0 38v2m0 9v5m0 17v1M55.5 2v4m0 28v5m0 9v1m0 3v6m0 19v5m0 4v1m0 17v3m0 6v1m0 4v4m0 5v4m0 11v4m0 7v3m0 13v5m0 23v2m0 1v5M56.5 16v4m0 2v2m0 5v3m0 3v2m0 4v5m0 3v5m0 2v2m0 9v2m0 4v2m0 54v3m0 49v2m0 6v3m0 5v3M57.5 15v4m0 10v2m0 104v1m0 17v1m0 8v6M58.5 8v3m0 15v4m0 8v2m0 37v5m0 23v3m0 11v4m0 8v2m0 18v2m0 10v4m0 2v16M59.5 4v3m0 19v3m0 24v1m0 18v2m0 20v5m0 7v2m0 6v4m0 62v2M60.5 24v2m0 2v2m0 56v4m0 4v4m0 33v2m0 6v1m0 57v3M61.5 6v4m0 5v1m0 3v2m0 43v2m0 15v5m0 42v3m0 37v4m0 10v4m0 11v5M62.5 34v4m0 5v1m0 22v9m0 3v2m0 35v2m0 10v1m0 18v6m0 10v4m0 8v6m0 21v4M63.5 0v5m0 25v4m0 12v2m0 11v3m0 17v2m0 15v6m0 4v2m0 12v3m0 3v7m0 17v1m0 6v7m0 2v2m0 11v3"/><path stroke="#f40034" stroke-width="1" fill="none" d="M0.5 3v5m0 1v3m0 11v7m0 4v1m0 6v2m0 7v2m0 6v4m0 12v3m0 9v5m0 3v3m0 11v4m0 32v1m0 19v6m0 11v1m0 4v2m0 9v6M1.5 0v8m0 2v7m0 7v6m0 14v9m0 1v2m0 3v5m0 17v1m0 39v5m0 5v4m0 11v2m0 6v1m0 31v2m0 7v6M2.5 0v2m0 6v12m0 11v1m0 27v2m0 7v7m0 32v4m0 12v4m0 7v3m0 12v5m0 12v4m0 4v3m0 5v4m0 2v4m0 10v3M3.5 3v2m0 9v3m0 17v5m0 23v17m0 9v4m0 4v4m0 47v5m0 1v2m0 8v3m0 10v2m0 7v2m0 5v1m0 5v7M4.5 0v11m0 11v2m0 6v3m0 3v5m0 33v5m0 2v3m0 6v3m0 30v6m0 5v4m0 3v2m0 19v1m0 4v6m0 6v4m0 2v3m0 4v2m0 1v2m0 5v3M5.5 0v6m0 4v2m0 3v2m0 1v5m0 6v2m0 4v8m0 8v5m0 25v3m0 5v1m0 10v4m0 3v5m0 12v2m0 29v5m0 17v7m0 6v4m0 2v6M6.5 2v9m0 11v4m0 17v5m0 4v2m0 20v5m0 14v2m0 8v4m0 10v2m0 18v4m0 5v2m0 18v4m0 4v13m0 4v12M7.5 2v7m0 6v4m0 13v12m0 6v2m0 2v8m0 21v2m0 18v7m0 5v3m0 18v4m0 5v2m0 7v2m0 8v1m0 7v8m0 2v2m0 3v2m0 12v4M8.5 4v7m0 15v5m0 8v2m0 12v3m0 4v4m0 11v2m0 12v4m0 13v5m0 1v1m0 8v7m0 6v3m0 31v4m0 7v1m0 9v16M9.5 3v3m0 20v3m0 9v4m0 2v6m0 14v5m0 6v5m0 9v2m0 6v1m0 4v5m0 22v4m0 4v3m0 8v2m0 22v7m0 15v5m0 2v4M10.5 0v7m0 13v5m0 2v5m0 2v4m0 34v3m0 37v2m0 5v3m0 25v1m0 2v6m0 2v2m0 3v7m0 2v2m0 8v4m0 4v7m0 1v3M11.5 0v7m0 5v2m0 2v7m0 4v3m0 38v2m0 2v4m0 35v6m0 4v6m0 18v4m0 12v8m0 4v15m0 2v6m0 1v8M12.5 8v1m0 5v2m0 4v1m0 6v4m0 4v2m0 5v4m0 16v2m0 29v5m0 4v5m0 7v5m0 22v3m0 27v6m0 7v5m0 3v11M13.5 1v10m0 5v8m0 1v1m0 5v2m0 2v3m0 3v4m0 17v2m0 20v3m0 2v3m0 38v5m0 4v5m0 10v5m0 7v5m0 6v5m0 3v3m0 16v1M14.5 0v3m0 1v3m0 2v11m0 15v2m0 1v3m0 10v11m0 2v10m0 14v2m0 9v4m0 4v5m0 15v2m0 9v2m0 15v4m0 7v3m0 17v7m0 5v2M15.5 2v14m0 13v5m0 3v4m0 19v3m0 37v9m0 3v7m0 2v4m0 3v1m0 5v2m0 14v4m0 12v2m0 16v2m0 9v5M16.5 5v4m0 5v10m0 12v1m0 7v7m0 6v4m0 10v5m0 38v2m0 5v3m0 1v5m0 23v3m0 3v2m0 6v4m0 17v4m0 4v9M17.5 0v5m0 2v5m0 5v1m0 19v1m0 20v4m0 5v2m0 18v4m0 8v7m0 21v2m0 31v8m0 5v5m0 4v4m0 2v5m0 3v9M18.5 16v14m0 3v3m0 17v4m0 3v6m0 4v6m0 29v4m0 12v12m0 20v8m0 5v4m0 13v5m0 4v2m0 2v7M19.5 2v3m0 7v4m0 8v3m0 5v1m0 2v1m0 13v3m0 3v4m0 7v3m0 68v2m0 8v2m0 23v4m0 1v3m0 5v4m0 2v1m0 2v3M20.5 3v3m0 7v1m0 6v3m0 6v2m0 1v2m0 4v6m0 6v2m0 5v6m0 30v3m0 7v4m0 7v3m0 6v3m0 15v3m0 6v2m0 2v4m0 2v4m0 12v5m0 4v5m0 2v2m0 9v2M21.5 5v5m0 30v5m0 22v2m0 8v2m0 14v4m0 9v1m0 3v3m0 20v2m0 4v4m0 11v3m0 18v3m0 8v4m0 3v5m0 5v2M22.5 4v2m0 2v5m0 7v3m0 15v2m0 9v3m0 9v3m0 8v13m0 13v3m0 16v1m0 18v2m0 5v4m0 7v6m0 9v3m0 4v5m0 8v7m0 2v7M23.5 16v10m0 20v2m0 25v1m0 37v3m0 2v2m0 9v3m0 30v10m0 14v12m0 4v2M24.5 0v12m0 3v4m0 1v6m0 3v1m0 13v9m0 27v10m0 16v2m0 24v8m0 2v4m0 18v2m0 3v2m0 3v3m0 27v2M25.5 0v26m0 2v3m0 23v10m0 33v6m0 21v4m0 7v8m0 8v2m0 2v9m0 4v6m0 9v3m0 7v2m0 4v4M26.5 0v10m0 5v1m0 16v11m0 16v2m0 5v3m0 8v2m0 19v2m0 26v5m0 11v2m0 19v6m0 9v3m0 3v12m0 4v4M27.5 0v11m0 1v9m0 5v5m0 47v8m0 4v4m0 9v2m0 4v2m0 2v3m0 7v3m0 6v5m0 29v4m0 12v2m0 3v6M28.5 0v16m0 2v2m0 2v4m0 13v5m0 13v5m0 43v3m0 10v1m0 5v1m0 19v1m0 7v2m0 18v2m0 4v3m0 3v2m0 11v1m0 2v4M29.5 3v2m0 10v3m0 6v1m0 1v2m0 26v8m0 26v6m0 8v4m0 9v1m0 27v2m0 8v4m0 1v7m0 2v12m0 2v3m0 4v2m0 6v3M30.5 0v3m0 2v7m0 3v6m0 6v3m0 3v1m0 16v2m0 1v3m0 7v2m0 16v4m0 51v3m0 4v4m0 2v4m0 5v2m0 13v3m0 10v2m0 2v3m0 5v1m0 5v1M31.5 0v3m0 7v6m0 4v5m0 4v13m0 6v3m0 3v6m0 27v3m0 18v4m0 6v4m0 1v4m0 3v3m0 12v2m0 20v4m0 4v3m0 8v6m0 2v4M32.5 2v4m0 8v12m0 5v3m0 10v4m0 5v5m0 14v3m0 10v6m0 3v2m0 49v5m0 3v3m0 6v4m0 6v7m0 1v2m0 7v4m0 3v1M33.5 0v7m0 7v3m0 4v12m0 2v3m0 6v7m0 9v4m0 29v7m0 4v6m0 23v4m0 29v8m0 1v3m0 6v16m0 3v2M34.5 8v2m0 1v2m0 1v5m0 5v2m0 5v2m0 4v1m0 8v7m0 48v1m0 9v1m0 16v2m0 9v1m0 4v3m0 4v5m0 26v7m0 15v1M35.5 10v5m0 4v3m0 2v6m0 5v2m0 3v12m0 3v4m0 9v3m0 4v4m0 8v4m0 1v2m0 10v4m0 10v2m0 9v5m0 26v1m0 5v2m0 10v4m0 4v13m0 5v1M36.5 0v8m0 2v8m0 2v1m0 3v3m0 15v1m0 3v2m0 1v4m0 7v5m0 24v2m0 2v5m0 2v2m0 21v2m0 11v4m0 3v2m0 5v3m0 7v4m0 15v11m0 5v10M37.5 1v1m0 4v1m0 4v3m0 1v2m0 3v9m0 5v6m0 3v1m0 24v4m0 13v2m0 17v8m0 3v6m0 12v2m0 12v1m0 19v4m0 8v6m0 1v9m0 6v4M38.5 0v12m0 7v1m0 3v6m0 30v4m0 13v2m0 13v5m0 15v2m0 5v3m0 5v3m0 39v13m0 5v12m0 1v3m0 2v1M39.5 7v5m0 4v3m0 2v11m0 6v6m0 3v4m0 5v7m0 39v2m0 20v4m0 5v4m0 8v5m0 4v1m0 5v6m0 6v2m0 5v15m0 6v1m0 3v1M40.5 0v2m0 5v14m0 5v4m0 2v3m0 8v4m0 1v2m0 10v1m0 8v4m0 3v2m0 5v5m0 22v1m0 4v4m0 2v5m0 31v3m0 5v4m0 4v6m0 5v3m0 1v4m0 7v2M41.5 0v2m0 3v3m0 8v6m0 11v2m0 24v4m0 9v6m0 3v2m0 6v3m0 1v5m0 10v4m0 3v9m0 29v7m0 15v4m0 2v7m0 10v7M42.5 5v4m0 5v3m0 19v1m0 6v3m0 5v5m0 1v1m0 6v11m0 16v2m0 2v5m0 11v1m0 20v1m0 3v4m0 11v5m0 6v2m0 20v1m0 4v2m0 2v9m0 2v1M43.5 5v15m0 4v6m0 8v2m0 3v1m0 3v4m0 11v1m0 9v3m0 66v5m0 7v3m0 5v2m0 2v2m0 1v3m0 5v8m0 3v18M44.5 0v2m0 3v8m0 1v3m0 5v2m0 3v1m0 6v7m0 2v3m0 10v10m0 59v2m0 17v4m0 3v2m0 16v9m0 3v1m0 2v1m0 10v6M45.5 3v2m0 5v4m0 2v2m0 5v3m0 18v5m0 11v2m0 1v3m0 3v3m0 14v2m0 17v2m0 25v1m0 23v2m0 21v3m0 5v9m0 4v5M46.5 0v7m0 2v7m0 5v5m0 8v1m0 32v3m0 14v2m0 14v5m0 22v3m0 10v2m0 10v2m0 14v2m0 9v7m0 4v4m0 6v5M47.5 3v2m0 2v3m0 9v5m0 12v1m0 2v9m0 18v12m0 6v1m0 8v2m0 13v2m0 1v4m0 10v4m0 15v1m0 5v2m0 15v1m0 2v1m0 1v2m0 5v2m0 6v15M48.5 18v4m0 5v9m0 8v6m0 3v5m0 5v2m0 24v3m0 37v3m0 6v3m0 30v4m0 7v6m0 6v11M49.5 0v16m0 5v2m0 4v5m0 11v2m0 13v4m0 10v2m0 17v7m0 30v2m0 4v3m0 10v7m0 2v2m0 11v1m0 13v4m0 2v2m0 3v6M50.5 3v5m0 12v5m0 2v4m0 17v6m0 1v2m0 19v2m0 2v1m0 38v5m0 9v3m0 14v4m0 12v3m0 7v10m0 7v8M51.5 7v4m0 6v1m0 7v3m0 12v4m0 3v3m0 23v5m0 55v8m0 13v6m0 5v2m0 2v2m0 2v4m0 5v4m0 10v9M52.5 8v8m0 9v6m0 4v2m0 25v3m0 1v7m0 6v6m0 14v1m0 16v2m0 1v3m0 6v4m0 5v2m0 29v4m0 1v12m0 4v3m0 2v10M53.5 0v3m0 2v9m0 3v3m0 4v4m0 7v7m0 29v3m0 30v1m0 4v2m0 2v4m0 20v5m0 5v1m0 9v6m0 6v6m0 11v5m0 3v5m0 1v5M54.5 0v9m0 2v5m0 4v4m0 12v4m0 5v8m0 7v1m0 10v2m0 4v2m0 16v4m0 2v1m0 2v3m0 27v6m0 1v4m0 9v9m0 10v6m0 5v6m0 10v1m0 1v3M55.5 11v23m0 5v4m0 32v2m0 10v4m0 18v4m0 9v5m0 23v3m0 15v1m0 9v5m0 5v4m0 7v1M56.5 0v7m0 2v4m0 2v1m0 8v5m0 29v6m0 13v2m0 11v6m0 3v1m0 13v1m0 41v2m0 6v1m0 3v8m0 8v6m0 3v2m0 6v5M57.5 3v7m0 4v1m0 6v2m0 2v4m0 5v4m0 13v1m0 5v3m0 3v3m0 7v1m0 35v3m0 11v7m0 8v2m0 4v4m0 2v3m0 18v1m0 10v9m0 5v9M58.5 0v8m0 3v12m0 1v2m0 9v2m0 3v4m0 4v4m0 3v2m0 5v3m0 7v3m0 41v3m0 6v1m0 11v5m0 3v3m0 9v2m0 26v2m0 6v12M59.5 0v4m0 8v8m0 2v4m0 11v5m0 4v6m0 14v6m0 46v4m0 20v2m0 16v3m0 4v2m0 6v3m0 4v9M60.5 0v4m0 3v5m0 1v3m0 3v2m0 1v2m0 6v9m0 3v2m0 5v2m0 2v2m0 2v9m0 4v2m0 7v2m0 4v1m0 12v4m0 7v2m0 25v3m0 20v2m0 1v7m0 13v1m0 4v1m0 1v5m0 9v2M61.5 0v6m0 4v5m0 1v3m0 7v15m0 18v1m0 11v4m0 17v2m0 12v5m0 38v3m0 8v5m0 11v3m0 1v2m0 4v2m0 3v6m0 5v3M62.5 0v21m0 12v1m0 26v3m0 28v3m0 23v3m0 13v5m0 17v7m0 4v6m0 16v3m0 4v6M63.5 5v2m0 3v10m0 6v1m0 9v2m0 5v3m0 2v2m0 5v4m0 3v3m0 4v3m0 30v1m0 11v1m0 8v3m0 15v2m0 10v4m0 28v5m0 7v4"/><path stroke="#c200b6" stroke-width="1" fill="none" d="M0.5 8v1m0 21v4m0 18v6m0 19v2m0 2v5m0 5v3m0 12v2m0 6v2m0 25v3m0 6v4m0 8v2m0 18v4m0 6v3M1.5 18v1m0 50v2m0 16v10m0 22v2m0 5v5m0 11v4m0 2v2m0 32v4m0 2v7M2.5 2v3m0 15v1m0 5v5m0 4v3m0 8v5m0 12v2m0 48v2m0 13v3m0 8v5m0 13v4m0 16v3M3.5 17v5m0 20v5m0 5v2m0 5v1m0 19v4m0 9v4m0 14v8m0 15v2m0 5v3m0 12v5m0 27v5M4.5 24v3m0 60v3m0 14v2m0 1v3m0 5v1m0 5v2m0 20v5M5.5 17v1m0 28v3m0 26v5m0 17v3m0 16v5m0 11v5m0 6v4m0 18v2m0 17v3M6.5 39v4m0 22v2m0 13v2m0 30v2m0 8v9m0 10v2m0 7v1m0 2v2m0 15v4m0 13v4M7.5 67v3m0 17v3m0 10v3m0 47v1m0 29v2m0 7v5M8.5 11v6m0 5v4m0 38v3m0 3v5m0 4v5m0 15v3m0 9v1m0 1v8m0 37v3m0 15v1m0 10v2M9.5 6v6m0 42v5m0 10v4m0 21v3m0 2v3m0 14v5m0 42v2m0 3v2M10.5 25v2m0 11v1m0 4v1m0 3v7m0 3v1m0 6v2m0 22v3m0 13v3m0 63v2M11.5 7v5m0 77v4m0 2v3m0 12v1m0 20v3m0 2v6m0 7v4M12.5 46v2m0 5v2m0 5v2m0 21v3m0 21v7m0 12v5m0 13v3m0 18v6m0 10v1m0 21v2M13.5 56v2m0 1v1m0 12v1m0 62v4m0 24v3m0 8v3m0 11v6M14.5 20v5m0 8v2m0 2v1m0 54v4m0 50v6m0 12v2m0 3v7m0 21v1m0 2v2M15.5 0v2m0 14v3m0 25v3m0 32v4m0 4v5m0 4v4m0 9v2m0 14v1m0 3v5m0 34v1M16.5 24v1m0 9v2m0 33v2m0 41v2m0 2v2m0 6v1m0 17v6m0 13v4M17.5 18v1m0 12v2m0 2v2m0 7v5m0 14v1m0 1v1m0 3v4m0 65v4m0 7v2m0 17v5M18.5 4v1m0 83v12m0 17v4m0 18v1m0 7v6m0 35v4M19.5 27v5m0 1v2m0 37v5m0 7v8m0 10v1m0 11v5m0 5v2m0 16v4m0 15v4m0 15v5m0 12v3M20.5 0v2m0 6v2m0 24v4m0 6v1m0 31v8m0 5v4m0 46v2M21.5 56v4m0 64v6m0 18v6m0 6v12m0 18v3m0 5v5M22.5 6v2m0 15v1m0 5v6m0 8v4m0 54v7m0 10v4m0 25v3m0 22v4M23.5 3v3m0 22v3m0 36v2m0 15v5m0 16v4m0 5v2m0 28v1m0 4v4m0 26v5m0 18v3M24.5 32v2m0 36v4m0 15v13m0 7v7m0 38v9m0 37v1M25.5 108v5m0 2v6m0 24v2M26.5 18v2m0 3v3m0 1v5m0 23v2m0 6v2m0 17v2m0 10v2m0 10v6m0 12v2m0 25v6m0 16v2M27.5 23v1m0 62v4m0 6v5m0 10v2m0 3v4m0 22v4m0 4v3m0 1v3m0 13v2m0 7v3m0 2v3M28.5 20v2m0 8v7m0 13v7m0 5v2m0 38v2m0 21v3m0 4v6m0 48v4m0 8v2m0 4v1M29.5 0v2m0 6v1m0 29v3m0 32v4m0 17v1m0 19v1m0 8v3m0 14v3m0 22v2m0 17v4M30.5 21v2m0 36v4m0 5v4m0 32v5m0 18v6m0 6v3m0 15v1m0 13v2m0 20v5m0 1v5M31.5 7v3m0 8v2m0 54v7m0 5v1m0 4v5m0 31v2m0 9v7m0 18v4m0 36v2M32.5 0v2m0 32v6m0 26v2m0 40v2m0 26v4m0 28v4m0 10v7m0 4v1m0 8v3M33.5 20v1m0 43v3m0 4v3m0 18v1m0 20v2m0 8v8m0 14v6m0 7v8M34.5 6v2m0 15v1m0 4v3m0 45v4m0 22v2m0 26v2m0 33v2m0 32v4M35.5 30v4m0 18v3m0 43v3m0 7v2m0 2v5m0 17v3m0 45v4M36.5 18v2m0 1v3m0 15v3m0 61v5m0 23v5m0 17v2m0 12v4M37.5 2v1m0 69v3m0 4v1m0 46v7m0 21v5m0 5v1m0 6v1M38.5 80v3m0 13v4m0 42v5M39.5 19v2m0 11v2m0 49v3m0 2v6m0 6v2m0 12v1m0 25v5m0 10v2m0 44v3M40.5 30v2m0 7v4m0 7v5m0 1v3m0 7v2m0 30v1m0 41v4m0 43v1M41.5 36v3m0 9v2m0 1v3m0 3v2m0 10v3m0 13v4m0 17v2m0 4v2m0 10v2m0 10v4m0 3v3m0 2v3m0 1v1m0 26v2M42.5 11v3m0 17v1m0 2v2m0 20v1m0 1v3m0 48v2m0 5v2m0 12v2m0 27v3m0 15v5M43.5 0v5m0 29v4m0 7v2m0 5v3m0 2v5m0 18v12m0 8v1m0 4v4m0 6v2m0 33v1m0 5v2M44.5 30v2m0 20v2m0 14v2m0 4v5m0 15v3m0 19v5m0 28v2m0 28v2M45.5 30v2m0 7v5m0 5v4m0 19v3m0 36v9m0 43v1m0 18v5M46.5 35v2m0 10v2m0 34v1m0 23v3m0 2v2m0 1v4M47.5 31v1m0 17v2m0 2v3m0 31v3m0 9v4m0 13v4m0 17v2m0 2v3m0 10v3m0 14v1m0 14v1m0 15v3M48.5 0v5m0 5v4m0 10v3m0 31v3m0 65v3m0 15v4m0 17v4m0 6v5M49.5 62v2m0 12v1m0 21v3m0 6v8m0 11v2m0 63v3M50.5 8v3m0 57v4m0 9v5m0 12v5m0 4v3m0 14v9m0 21v3m0 15v4m0 10v3M51.5 3v4m0 4v4m0 19v2m0 150v5M52.5 38v3m0 4v6m0 6v5m0 40v2m0 9v3m0 10v2m0 11v3m0 4v3m0 2v6m0 2v4m0 41v1M53.5 4v1m0 9v3m0 11v3m0 15v5m0 8v6m0 1v5m0 53v10m0 8v3m0 18v2m0 16v3M54.5 24v7m0 9v5m0 28v4m0 10v3m0 57v2m0 21v3m0 22v5M55.5 0v2m0 41v5m0 1v3m0 32v1m0 18v1m0 10v4m0 43v3m0 10v2m0 7v5m0 4v5M56.5 7v2m0 4v2m0 22v2m0 7v3m0 30v5m0 30v5m0 3v4m0 10v11m0 47v3M57.5 10v3m0 6v2m0 10v3m0 18v5m0 9v1m0 27v2m0 1v1m0 42v2m0 26v2m0 9v3M58.5 32v1m0 24v5m0 13v2m0 23v5m0 3v3m0 80v2M59.5 7v5m0 53v1m0 13v2m0 68v5m0 4v2m0 42v3M60.5 4v3m0 9v3m0 2v1m0 19v1m0 24v2m0 75v5m0 30v4M61.5 22v4m0 15v3m0 6v1m0 5v3m0 10v2m0 30v2m0 12v5m0 3v3m0 5v6m0 15v5m0 1v2m0 28v3M62.5 38v1m0 10v6m0 1v4m0 5v1m0 22v3m0 5v4m0 6v3m0 23v1m0 5v3m0 11v3m0 25v8m0 6v1M63.5 38v5m0 9v1m0 19v4m0 11v3m0 21v2m0 38v2m0 48v4"/><path stroke="#8c00ff" stroke-width="1" fill="none" d="M0.5 18v4m0 13v6m0 5v4m0 15v7m0 31v3m0 6v2m0 2v2m0 1v5m0 21v5m0 9v3m0 16v3m0 7v4M1.5 30v1m0 2v3m0 21v2m0 8v2m0 2v4m0 4v2m0 1v5m0 16v2m0 47v2m0 1v5m0 2v1m0 38v3M2.5 5v3m0 24v1m0 9v3m0 8v4m0 4v2m0 12v5m0 1v5m0 18v3m0 8v8m0 4v1m0 9v2m0 5v5m0 5v3m0 4v5m0 14v2m0 12v5m0 2v1M3.5 5v4m0 19v2m0 17v3m0 4v5m0 1v2m0 21v5m0 12v10m0 8v2m0 15v5m0 4v3m0 19v7m0 6v6m0 8v5M4.5 19v3m0 5v3m0 4v2m0 11v4m0 6v5m0 5v4m0 13v3m0 12v5m0 2v1m0 3v5m0 1v5m0 56v2M5.5 31v2m0 10v3m0 10v3m0 3v5m0 3v5m0 37v4m0 5v3m0 6v2m0 5v2m0 8v4m0 2v1m0 14v9M6.5 54v11m0 5v2m0 7v1m0 2v1m0 12v4m0 8v5m0 7v3m0 21v3m0 2v2m0 12v4M7.5 12v3m0 16v1m0 15v3m0 2v2m0 8v5m0 3v3m0 5v5m0 2v2m0 5v1m0 5v2m0 18v18m0 16v2m0 2v8m0 20v3M8.5 56v4m0 7v3m0 7v2m0 8v2m0 6v4m0 6v1m0 22v4m0 16v8m0 10v2M9.5 14v4m0 32v4m0 19v2m0 5v6m0 12v1m0 15v2m0 5v8m0 4v4m0 3v8m0 2v2m0 13v3m0 12v6m0 4v2M10.5 7v2m0 2v4m0 29v3m0 7v3m0 1v6m0 4v4m0 7v3m0 32v3m0 12v3m0 8v7m0 13v3m0 34v1M11.5 37v6m0 6v5m0 3v11m0 2v2m0 4v3m0 2v5m0 12v10m0 9v4m0 32v8m0 8v4m0 15v2M12.5 19v1m0 11v4m0 2v3m0 12v1m0 25v5m0 3v3m0 2v2m0 30v3m0 5v5m0 11v2m0 40v3M13.5 58v1m0 1v2m0 2v8m0 1v11m0 15v4m0 16v4m0 2v2m0 22v2m0 8v4M14.5 7v2m0 20v4m0 13v5m0 11v2m0 10v3m0 8v3m0 8v3m0 16v3m0 6v3m0 2v7m0 6v4m0 6v3m0 26v2M15.5 24v3m0 14v3m0 8v8m0 3v16m0 4v4m0 5v4m0 23v2m0 5v2m0 8v2m0 7v2m0 7v7m0 2v3m0 3v3m0 4v8m0 10v1m0 8v2M16.5 2v3m0 21v8m0 27v8m0 7v6m0 3v12m0 3v3m0 15v3m0 9v4m0 4v2m0 16v3m0 6v2M17.5 12v3m0 4v1m0 4v7m0 18v5m0 10v1m0 8v14m0 4v3m0 12v15m0 8v5m0 12v3m0 2v9m0 18v3m0 5v2m0 5v3M18.5 9v4m0 27v5m0 2v1m0 9v3m0 21v7m0 12v5m0 4v6m0 21v3m0 1v7m0 16v3m0 5v2m0 4v3m0 14v2m0 7v2M19.5 0v2m0 3v6m0 25v11m0 5v1m0 6v7m0 3v3m0 5v2m0 3v2m0 8v1m0 2v7m0 1v8m0 11v2m0 2v3m0 3v4m0 3v3m0 4v1m0 2v3m0 13v4m0 7v1m0 12v2m0 1v2M20.5 16v4m0 3v2m0 2v2m0 35v2m0 4v2m0 12v5m0 7v1m0 10v5m0 5v3m0 11v8m0 5v4m0 5v1m0 4v2m0 6v5m0 19v2m0 2v5m0 2v2M21.5 21v2m0 5v2m0 30v2m0 3v2m0 7v3m0 2v14m0 4v1m0 3v5m0 7v2m0 6v3m0 11v4m0 18v3m0 18v2m0 2v4M22.5 0v4m0 9v7m0 27v2m0 8v2m0 7v2m0 19v4m0 23v3m0 5v7m0 9v5m0 22v4M23.5 26v2m0 3v15m0 2v5m0 17v3m0 1v10m0 5v16m0 4v2m0 7v5m0 7v4m0 2v8m0 9v2m0 21v3M24.5 26v3m0 5v3m0 20v13m0 4v5m0 23v3m0 2v2m0 7v7m0 16v2m0 4v9m0 11v3m0 8v5m0 15v4M25.5 26v2m0 3v6m0 13v4m0 10v7m0 5v6m0 5v8m0 18v2m0 6v3m0 19v2m0 19v4m0 6v2m0 13v2m0 12v2M26.5 10v1m0 5v2m0 2v3m0 20v12m0 2v2m0 2v2m0 6v2m0 8v3m0 2v10m0 6v6m0 6v4m0 2v6m0 7v7m0 21v1m0 9v4m0 23v4M27.5 11v1m0 9v2m0 8v4m0 2v4m0 8v9m0 11v2m0 30v2m0 2v4m0 13v1m0 3v2m0 9v5m0 7v1m0 7v8m0 7v6m0 15v9M28.5 26v4m0 7v2m0 54v9m0 6v10m0 1v3m0 6v2m0 9v3m0 23v1m0 8v4m0 15v4M29.5 2v1m0 2v3m0 1v6m0 22v1m0 24v7m0 8v8m0 10v3m0 8v2m0 13v2m0 3v4m0 3v7m0 5v3m0 31v2m0 12v3m0 3v5M30.5 12v3m0 15v3m0 1v2m0 10v4m0 15v3m0 9v4m0 8v7m0 13v8m0 16v3m0 6v1m0 17v2m0 8v1m0 17v2M31.5 42v6m0 18v8m0 7v5m0 4v1m0 12v3m0 6v6m0 4v1m0 10v5m0 13v3m0 19v2m0 6v4M32.5 48v5m0 7v6m0 2v4m0 3v10m0 6v3m0 2v1m0 7v4m0 2v3m0 2v4m0 3v5m0 4v5m0 4v5m0 15v2m0 32v2M33.5 17v3m0 13v2m0 4v5m0 11v5m0 7v4m0 9v8m0 12v4m0 14v1m0 12v2m0 4v8m0 10v1m0 24v4M34.5 13v1m0 8v1m0 3v2m0 5v4m0 1v4m0 23v3m0 12v10m0 6v5m0 3v7m0 15v2m0 9v2m0 2v3m0 12v4m0 2v3m0 10v3m0 2v2M35.5 15v4m0 3v2m0 35v9m0 5v2m0 4v7m0 5v1m0 4v2m0 3v3m0 6v2m0 10v2m0 16v4m0 3v1m0 2v2m0 4v4m0 1v3m0 4v4m0 4v2m0 21v5M36.5 31v3m0 2v3m0 9v1m0 4v7m0 12v7m0 12v2m0 5v2m0 8v1m0 4v10m0 7v1m0 9v3m0 2v5m0 14v3M37.5 0v1m0 6v4m0 6v1m0 26v5m0 4v4m0 1v10m0 12v5m0 5v8m0 4v2m0 31v6m0 4v2m0 1v6m0 11v2m0 5v7M38.5 12v2m0 6v3m0 6v4m0 5v21m0 4v13m0 2v2m0 5v2m0 2v2m0 9v11m0 12v3m0 7v3m0 20v12m0 13v5M39.5 12v4m0 28v3m0 16v3m0 5v12m0 21v9m0 2v4m0 1v4m0 4v5m0 24v3M40.5 55v1m0 6v4m0 7v3m0 12v6m0 2v2m0 4v8m0 1v2m0 13v4m0 4v6m0 4v4m0 5v4m0 3v5m0 7v1m0 6v5m0 8v4M41.5 2v2m0 9v3m0 6v3m0 10v1m0 10v2m0 30v3m0 11v1m0 6v5m0 10v1m0 16v2m0 7v3m0 8v1m0 42v4M42.5 9v2m0 6v1m0 2v11m0 1v2m0 3v4m0 6v4m0 24v3m0 8v5m0 9v6m0 6v4m0 5v5m0 8v2m0 11v4m0 5v3m0 12v2m0 9v2M43.5 30v4m0 29v4m0 11v2m0 12v2m0 3v1m0 3v4m0 4v4m0 7v3m0 8v9m0 6v2m0 11v2m0 6v1M44.5 17v5m0 2v3m0 14v1m0 4v6m0 2v1m0 15v4m0 6v10m0 2v2m0 5v6m0 4v7m0 7v2m0 2v3m0 5v5m0 8v1m0 4v14m0 18v4M45.5 20v3m0 3v4m0 23v4m0 9v3m0 8v9m0 7v12m0 2v4m0 11v5m0 6v7m0 2v14m0 12v11M46.5 31v3m0 3v1m0 6v1m0 4v3m0 3v5m0 13v9m0 4v2m0 2v10m0 5v2m0 3v2m0 26v2m0 7v5m0 7v4m0 15v1m0 15v2M47.5 24v7m0 6v2m0 12v2m0 6v7m0 12v6m0 1v2m0 8v4m0 4v3m0 4v1m0 4v1m0 6v3m0 14v2m0 16v10M48.5 22v2m0 12v8m0 17v2m0 2v3m0 5v16m0 9v5m0 10v9m0 10v6m0 10v2m0 5v3m0 5v2m0 15v2m0 10v2M49.5 17v4m0 2v4m0 5v1m0 12v13m0 9v5m0 46v8m0 4v1m0 6v4m0 17v7m0 9v6m0 7v2M50.5 40v8m0 9v1m0 14v4m0 2v2m0 6v1m0 18v2m0 3v5m0 2v2m0 21v6m0 11v1m0 11v3m0 29v2M51.5 15v2m0 1v5m0 5v6m0 16v4m0 10v6m0 8v7m0 7v1m0 6v10m0 1v9m0 4v4m0 17v3m0 5v2m0 27v1M52.5 2v4m0 25v4m0 2v1m0 3v4m0 33v1m0 6v14m0 10v4m0 9v4m0 6v5m0 5v4m0 3v2m0 12v3m0 6v1m0 12v4M53.5 20v2m0 52v15m0 3v8m0 11v2m0 4v7m0 10v3m0 11v7m0 10v1m0 14v1m0 3v2m0 5v2M54.5 31v5m0 25v5m0 16v3m0 14v2m0 9v17m0 3v4m0 6v1m0 4v2m0 2v5m0 36v5M55.5 6v5m0 47v7m0 5v5m0 16v12m0 28v6m0 9v4m0 6v5m0 3v2M56.5 20v2m0 10v3m0 4v2m0 23v3m0 2v4m0 23v3m0 1v8m0 2v3m0 6v3m0 4v3m0 3v4m0 11v8m0 2v6m0 12v2M57.5 13v1m0 9v2m0 13v5m0 17v3m0 4v6m0 1v10m0 12v1m0 1v3m0 4v4m0 3v7m0 11v5m0 13v2m0 4v6m0 10v1m0 1v7m0 12v5M58.5 23v1m0 6v2m0 5v1m0 6v4m0 5v2m0 32v2m0 3v5m0 14v5m0 7v2m0 8v4m0 18v2m0 2v4m0 24v4M59.5 33v4m0 15v1m0 1v4m0 4v3m0 9v5m0 2v13m0 5v5m0 4v6m0 8v3m0 8v5m0 1v3m0 2v5m0 5v4m0 5v4m0 2v3m0 6v2m0 14v8M60.5 12v1m0 42v2m0 11v2m0 2v7m0 23v7m0 2v3m0 3v5m0 3v6m0 2v3m0 12v5m0 2v4m0 10v7m0 12v1m0 5v3m0 3v3M61.5 46v4m0 3v3m0 4v4m0 2v3m0 6v4m0 7v6m0 4v5m0 4v1m0 14v3m0 3v2m0 9v2m0 3v7m0 23v4M62.5 25v8m0 6v4m0 1v5m0 6v1m0 7v2m0 10v3m0 2v8m0 6v2m0 4v2m0 7v3m0 9v6m0 1v4m0 9v5m0 26v2m0 17v3M63.5 20v5m0 25v2m0 1v2m0 10v3m0 8v3m0 2v1m0 8v6m0 12v3m0 4v5m0 13v4m0 6v7m0 14v2m0 2v7m0 7v3m0 8v4"/><path stroke="#ffffff" stroke-width="1" fill="none" d="M6.5 83v4M9.5 91v3M11.5 108v2M12.5 151v4M13.5 114v5M26.5 71v3M30.5 85v4m0 7v4m0 2v2M32.5 113v2M34.5 160v2M42.5 128v2M46.5 130v3M47.5 134v3M48.5 152v3M60.5 122v1m0 30v2M61.5 139v3"/></pattern><pattern id="p6" x="0" y="133" width="48" height="16" patternUnits="userSpaceOnUse"><path stroke="#0a5a0a" stroke-width="1" fill="none" d="M0.5 0v7M1.5 0v4m0 1v3m0 1v2M2.5 0v7m0 2v2M3.5 0v11M4.5 0v11M5.5 0v1m0 1v6m0 2v2M6.5 0v2m0 1v5m0 2v2M7.5 0v11M8.5 0v2m0 3v3m0 1v1M9.5 0v10M10.5 0v7m0 1v3M11.5 0v3m0 2v2m0 3v1M12.5 0v3m0 1v6M13.5 0v11M14.5 0v3m0 1v6M15.5 0v6m0 2v1M16.5 7v4M17.5 1v7m0 2v2M18.5 0v6m0 4v2M19.5 0v5m0 1v6M20.5 0v8M21.5 0v8m0 1v1M22.5 2v1m0 3v2m0 1v1M23.5 0v1m0 1v2m0 2v2m0 2v1M24.5 2v4m0 1v3M25.5 0v7M26.5 0v5m0 2v1M27.5 0v9M28.5 2v1m0 2v3m0 1v1M29.5 0v2m0 2v6M30.5 0v3m0 2v2m0 3v2M31.5 0v3m0 1v5M32.5 0v1m0 1v6m0 1v2M33.5 0v7m0 1v2M34.5 0v8m0 1v2M35.5 0v3m0 1v5M36.5 0v4m0 1v2m0 2v2M37.5 0v7m0 3v1M38.5 0v5m0 1v1m0 2v3M39.5 0v6m0 1v1M40.5 0v8m0 1v2M41.5 0v4m0 2v2m0 2v1M42.5 0v7M43.5 0v3m0 2v6M44.5 0v12M45.5 0v2m0 1v2m0 1v3M46.5 0v8m0 1v3M47.5 0v8m0 1v2"/><path stroke="#20d020" stroke-width="1" fill="none" d="M0.5 7v7M1.5 8v1m0 2v3M2.5 7v2m0 3v2M3.5 11v2m0 1v2M4.5 11v4M5.5 1v1m0 6v2m0 2v1M6.5 14v1M7.5 11v3M8.5 2v1m0 8v2M9.5 12v2M11.5 7v2M12.5 10v3M13.5 11v5M14.5 10v3M15.5 6v2m0 2v3M16.5 3v2m0 6v1m0 3v1M17.5 12v1m0 2v1M18.5 8v1m0 3v1m0 2v1M19.5 12v1M20.5 8v6M21.5 8v1m0 2v2m0 1v1M22.5 8v1m0 2v3M24.5 10v1M25.5 11v2M26.5 10v2M27.5 9v3M28.5 10v3M29.5 10v3M30.5 7v3M31.5 3v1m0 5v4M32.5 1v1m0 9v2M33.5 10v2M34.5 8v1m0 2v2M35.5 13v1M36.5 7v2m0 2v2M37.5 8v2m0 1v1M38.5 7v2m0 3v2M39.5 6v1m0 1v6M40.5 8v1m0 3v4M42.5 10v3M43.5 3v2m0 6v1m0 1v1M44.5 12v3M45.5 10v3M46.5 8v1m0 3v2m0 1v1"/><path stroke="#ff0010" stroke-width="1" fill="none" d="M0.5 14v1M1.5 14v2M2.5 11v1M3.5 13v1M5.5 13v3M6.5 13v1m0 1v1M8.5 15v1M9.5 14v1M10.5 14v2M11.5 13v3M12.5 13v3M14.5 13v3M15.5 13v3M16.5 12v3M17.5 13v2M19.5 13v3M20.5 14v2M21.5 15v1M22.5 14v2M23.5 13v1M24.5 11v5M25.5 13v3M26.5 12v4M27.5 14v1M28.5 13v2M30.5 13v3M31.5 13v2M32.5 14v1M33.5 14v2M35.5 11v2M36.5 13v3M38.5 14v2M39.5 14v2M40.5 11v1M41.5 11v4M42.5 15v1M43.5 14v1M44.5 15v1M45.5 13v1m0 1v1M46.5 14v1M47.5 13v3"/><path stroke="#e00060" stroke-width="1" fill="none" d="M0.5 15v1M7.5 14v2M8.5 13v2M18.5 13v2M27.5 15v1M29.5 13v1M32.5 13v1m0 1v1M34.5 15v1M41.5 15v1M42.5 13v2"/><path stroke="#0a7a0a" stroke-width="1" fill="none" d="M1.5 4v1M6.5 2v1M8.5 3v2M10.5 7v1M12.5 3v1M16.5 0v1m0 5v1M18.5 6v2M19.5 5v1M22.5 4v2M23.5 1v1m0 2v2M24.5 6v1M25.5 9v2M26.5 5v2M28.5 0v2m0 1v2M29.5 2v2M30.5 3v2M35.5 3v1M38.5 5v1M41.5 5v1M45.5 5v1M47.5 8v1"/><path stroke="#8c00ff" stroke-width="1" fill="none" d="M2.5 14v2M4.5 15v1M9.5 15v1M10.5 13v1M21.5 13v1M23.5 14v2M28.5 15v1M29.5 14v2M31.5 15v1M34.5 13v2M35.5 14v2M37.5 14v2M43.5 15v1M45.5 14v1"/><path stroke="#000" stroke-width="1" fill="none" d="M6.5 8v2M8.5 8v1m0 1v1M9.5 10v2M11.5 3v2m0 4v1M14.5 3v1M15.5 9v1M16.5 1v2m0 2v1M17.5 0v1m0 7v2M18.5 9v1M21.5 10v1M22.5 0v2m0 1v1m0 6v1M23.5 8v2M24.5 0v2M25.5 7v2M26.5 8v2M28.5 8v1M32.5 8v1M33.5 7v1M35.5 9v2M36.5 4v1M37.5 7v1M41.5 4v1m0 3v2M42.5 7v3M45.5 2v1m0 6v1"/><path stroke="#60ff30" stroke-width="1" fill="none" d="M6.5 12v1M10.5 11v2M11.5 11v2M23.5 11v2M27.5 12v2M30.5 12v1M33.5 12v2M37.5 12v2M43.5 12v1M47.5 11v2"/></pattern><pattern id="p7" x="0" y="133" width="48" height="16" patternUnits="userSpaceOnUse"><path stroke="#000" stroke-width="1" fill="none" d="M0.5 0v8m0 2v2M1.5 0v10M2.5 2v4m0 2v2M3.5 2v10M4.5 0v7m0 2v1M5.5 0v1m0 1v5m0 2v2M6.5 0v4m0 1v1m0 3v3M7.5 0v9m0 1v2M8.5 0v6m0 1v1M9.5 0v7M10.5 0v8m0 2v2M11.5 0v8M12.5 0v8M13.5 0v3m0 2v3m0 1v2M14.5 0v7m0 2v2M15.5 0v9m0 1v1M16.5 0v11M17.5 0v10M18.5 0v10M19.5 0v9m0 1v1M20.5 1v8M21.5 0v8M22.5 0v8m0 2v2M23.5 0v4m0 2v2m0 1v2M24.5 0v11M25.5 0v8m0 2v2M26.5 0v8m0 2v1M27.5 0v11M28.5 0v5m0 1v2m0 1v2M29.5 2v4m0 1v1m0 2v1M30.5 0v8M31.5 0v9M32.5 0v7m0 3v2M33.5 0v4m0 1v3M34.5 0v9M35.5 0v10M36.5 0v8M37.5 0v7m0 2v3M38.5 0v10M39.5 0v8M40.5 0v12M41.5 0v11M42.5 0v7M43.5 0v4m0 1v2M44.5 0v8m0 1v1M45.5 0v7M46.5 0v12M47.5 0v11"/><path stroke="#20d020" stroke-width="1" fill="none" d="M0.5 8v2m0 5v1M1.5 12v2M2.5 10v3M3.5 12v2M4.5 10v3M5.5 7v2M6.5 12v2M7.5 12v1M8.5 12v2M9.5 9v4m0 2v1M12.5 11v2M13.5 11v5M14.5 11v2M15.5 9v1m0 1v2M16.5 11v2M18.5 10v3m0 2v1M19.5 9v1m0 1v2M20.5 9v2m0 1v2M21.5 8v2m0 2v2M22.5 12v2M23.5 8v1m0 2v3M25.5 12v1M26.5 8v2M27.5 11v1M28.5 11v2M29.5 8v2m0 1v2m0 2v1M30.5 11v2M31.5 11v3M32.5 9v1m0 2v4M33.5 12v2M34.5 10v3M35.5 10v4M36.5 8v5M37.5 12v1M38.5 12v2M39.5 12v2M40.5 12v1M41.5 11v2M42.5 7v2m0 1v4M43.5 11v3M44.5 12v2m0 1v1M45.5 15v1M46.5 12v2M47.5 11v2"/><path stroke="#ff0010" stroke-width="1" fill="none" d="M0.5 12v3M1.5 14v2M2.5 13v3M4.5 13v3M5.5 13v1M6.5 14v2M8.5 14v1M9.5 13v2M10.5 12v2M11.5 12v4M12.5 13v3M15.5 15v1M17.5 14v1M18.5 13v2M19.5 13v3M20.5 11v1m0 2v2M21.5 15v1M22.5 14v2M23.5 14v2M24.5 11v2m0 2v1M25.5 13v3M26.5 11v4M27.5 12v2M28.5 13v3M29.5 13v2M30.5 13v3M31.5 14v2M33.5 11v1m0 2v2M34.5 13v3M35.5 14v2M36.5 13v2M37.5 13v3M38.5 11v1m0 3v1M39.5 14v2M40.5 13v3M41.5 13v3M43.5 15v1M44.5 14v1M45.5 11v4M46.5 14v2"/><path stroke="#0a5a0a" stroke-width="1" fill="none" d="M1.5 10v2M2.5 0v2m0 4v2M3.5 0v2M4.5 7v2M5.5 1v1M6.5 6v3M7.5 9v1M8.5 6v1m0 1v4M9.5 7v2M10.5 8v2M11.5 8v3M12.5 8v3M13.5 3v2m0 3v1M14.5 7v2M17.5 10v2M21.5 10v1M22.5 8v2M23.5 4v2M25.5 8v2M28.5 5v1m0 2v1M29.5 0v2M30.5 8v3M31.5 9v2M32.5 7v2M33.5 4v1m0 3v3M34.5 9v1M37.5 7v2M38.5 10v1M39.5 8v4M42.5 9v1M43.5 4v1m0 2v4M44.5 8v1m0 1v2M45.5 7v4"/><path stroke="#e00060" stroke-width="1" fill="none" d="M3.5 14v2M7.5 13v2M8.5 15v1M10.5 14v2M14.5 15v1M15.5 13v1M16.5 13v3M17.5 15v1M21.5 14v1M24.5 13v2M26.5 15v1M27.5 14v2M36.5 15v1M42.5 14v2M43.5 14v1"/><path stroke="#60ff30" stroke-width="1" fill="none" d="M5.5 11v2M11.5 11v1M17.5 12v2M21.5 11v1"/><path stroke="#8c00ff" stroke-width="1" fill="none" d="M5.5 14v2M7.5 15v1M14.5 13v2M15.5 14v1M38.5 14v1M47.5 13v3"/><path stroke="#0a7a0a" stroke-width="1" fill="none" d="M6.5 4v1M20.5 0v1M29.5 6v1"/></pattern><pattern id="p8" x="0" y="352" width="48" height="16" patternUnits="userSpaceOnUse"><path stroke="#ff0010" stroke-width="1" fill="none" d="M0.5 0v1M1.5 1v4M2.5 0v2M3.5 0v2M4.5 0v2M5.5 0v2M7.5 0v2M9.5 0v1m0 2v1M11.5 0v1M14.5 0v2M15.5 0v1M16.5 0v2M18.5 0v2M20.5 0v2M21.5 3v1M22.5 3v1M24.5 0v2M25.5 0v2M26.5 0v2M27.5 0v2M30.5 0v4M31.5 0v2M32.5 0v2M37.5 0v2M38.5 0v1m0 3v1M39.5 0v1M40.5 0v2M41.5 0v5M42.5 0v1M43.5 1v2M44.5 1v2M45.5 1v1M46.5 0v2M47.5 0v2"/><path stroke="#20d020" stroke-width="1" fill="none" d="M0.5 1v5m0 1v1M1.5 0v1M2.5 2v3m0 4v1M3.5 2v3M4.5 2v4M5.5 2v3M6.5 0v7M7.5 2v3m0 1v1M8.5 0v5m0 3v1M9.5 1v2M10.5 1v4M11.5 1v6M12.5 2v4M13.5 1v4m0 7v2M14.5 2v3M15.5 1v4M16.5 3v3M17.5 0v4M18.5 2v1m0 2v2M19.5 0v6M20.5 2v2M21.5 2v1m0 1v1M22.5 0v3m0 1v2M23.5 0v5m0 3v1M24.5 2v1m0 5v1M25.5 2v3M26.5 3v4m0 5v1m0 1v2M27.5 2v3m0 7v1M28.5 0v4M29.5 2v5M31.5 3v3M32.5 2v3m0 1v1M33.5 0v2m0 1v2M34.5 0v5M35.5 2v3M36.5 0v1m0 1v2M37.5 2v3M38.5 1v3m0 1v1M39.5 3v1M40.5 4v2M41.5 14v2M42.5 2v3M43.5 3v2M44.5 0v1m0 3v1M45.5 4v1M46.5 2v2m0 2v1M47.5 2v2m0 5v1"/><path stroke="#000" stroke-width="1" fill="none" d="M0.5 6v1M1.5 7v2M2.5 15v1M3.5 9v2m0 4v1M5.5 5v1M6.5 13v2M11.5 15v1M15.5 15v1M16.5 15v1M17.5 4v2m0 8v2M18.5 12v1M20.5 4v2M21.5 13v1M22.5 14v2M25.5 5v1m0 4v2m0 1v2M27.5 13v1M31.5 12v2M34.5 5v2M38.5 6v2M40.5 6v2M42.5 6v1M43.5 5v2m0 4v1M46.5 15v1"/><path stroke="#0a5a0a" stroke-width="1" fill="none" d="M0.5 8v8M1.5 5v2m0 2v7M2.5 5v4m0 1v5M3.5 5v4m0 2v4M4.5 6v6m0 2v2M5.5 6v10M6.5 7v6m0 2v1M7.5 5v1m0 1v9M8.5 5v3m0 1v7M9.5 4v12M10.5 5v11M11.5 7v8M12.5 6v10M13.5 5v7m0 2v2M14.5 5v5m0 2v4M15.5 5v10M16.5 6v9M17.5 6v8M18.5 7v1m0 2v2m0 1v1M19.5 6v8m0 1v1M20.5 6v10M21.5 5v1m0 2v5m0 1v2M22.5 6v8M23.5 5v3m0 3v4M24.5 4v4m0 1v7M25.5 6v4m0 2v1m0 2v1M26.5 7v5m0 1v1M27.5 5v7m0 2v2M28.5 4v12M29.5 7v7M30.5 4v12M31.5 6v6m0 2v2M32.5 5v1m0 1v3m0 1v5M33.5 5v11M34.5 7v9M35.5 5v11M36.5 4v12M37.5 5v11M38.5 8v8M39.5 4v12M40.5 8v8M41.5 5v8M42.5 5v1m0 1v9M43.5 7v4m0 1v4M44.5 5v1m0 2v8M45.5 5v11M46.5 4v2m0 1v8M47.5 4v5m0 1v6"/><path stroke="#0a7a0a" stroke-width="1" fill="none" d="M4.5 12v2M14.5 10v2M18.5 8v2m0 4v2M19.5 14v1M21.5 6v2M23.5 9v2m0 4v1M29.5 14v2M32.5 10v1M41.5 13v1M44.5 6v2"/><path stroke="#e00060" stroke-width="1" fill="none" d="M10.5 0v1M13.5 0v1M21.5 0v2M42.5 1v1M43.5 0v1M45.5 0v1"/><path stroke="#8c00ff" stroke-width="1" fill="none" d="M12.5 0v2M29.5 0v2M35.5 0v2M36.5 1v1"/><path stroke="#60ff30" stroke-width="1" fill="none" d="M16.5 2v1M18.5 3v2M24.5 3v1M26.5 2v1M31.5 2v1M33.5 2v1M39.5 1v2M40.5 2v2M44.5 3v1M45.5 2v2"/></pattern><pattern id="p9" x="0" y="352" width="48" height="16" patternUnits="userSpaceOnUse"><path stroke="#ff0010" stroke-width="1" fill="none" d="M0.5 0v2M2.5 0v3M3.5 0v2M4.5 0v2M6.5 1v1M9.5 2v2M10.5 0v2M11.5 0v1m0 3v1M13.5 0v2M15.5 0v2M16.5 0v2M19.5 0v3M21.5 1v3M22.5 0v2M23.5 0v5M24.5 1v1M25.5 0v1M26.5 1v3M27.5 0v1M28.5 0v2M29.5 3v2M30.5 0v4M31.5 0v3M32.5 0v1M33.5 0v2M34.5 0v1M35.5 0v4M36.5 0v1M37.5 0v2m0 1v2M38.5 0v2M40.5 0v2M41.5 0v1M42.5 3v1M43.5 1v2M44.5 0v2m0 2v1M45.5 0v5M46.5 0v1"/><path stroke="#20d020" stroke-width="1" fill="none" d="M0.5 2v3M1.5 2v2M2.5 3v2m0 1v1M3.5 2v5M4.5 2v2M5.5 0v5M6.5 2v5M7.5 0v4m0 6v2M8.5 2v5M9.5 0v2m0 2v1M10.5 2v5M11.5 1v3M12.5 0v3M13.5 2v1m0 10v2M14.5 2v2m0 10v1M15.5 2v4M16.5 2v2m0 2v1M17.5 1v4M18.5 2v2M19.5 3v2m0 6v2M20.5 1v4M22.5 2v3M24.5 0v1m0 1v3M25.5 1v6M26.5 0v1M27.5 1v4m0 5v1M28.5 2v3M29.5 1v2m0 2v2m0 8v1M30.5 4v1M31.5 3v2M32.5 1v2M33.5 2v5m0 2v1M34.5 1v4M35.5 4v1M36.5 2v2m0 1v2M37.5 2v1m0 2v2m0 7v2M38.5 2v3M39.5 2v1m0 2v1M40.5 2v4M41.5 2v2M42.5 2v1m0 1v2m0 6v2M43.5 0v1m0 2v2M44.5 2v2m0 1v2M45.5 5v1M46.5 1v6M47.5 0v5"/><path stroke="#000" stroke-width="1" fill="none" d="M0.5 5v11M1.5 4v4m0 1v2m0 2v3M2.5 7v8M3.5 7v9M4.5 6v10M5.5 5v11M6.5 7v9M7.5 5v5m0 2v4M8.5 7v4m0 1v2m0 1v1M9.5 5v11M10.5 7v9M11.5 5v9m0 1v1M12.5 4v2m0 2v5m0 2v1M13.5 7v3m0 1v2M14.5 6v4m0 1v3m0 1v1M15.5 7v9M16.5 7v9M17.5 5v4m0 1v6M18.5 6v7m0 1v2M19.5 5v6m0 2v3M20.5 5v10M21.5 4v12M22.5 5v11M23.5 5v11M24.5 5v11M25.5 9v7M26.5 6v8m0 1v1M27.5 7v3m0 1v5M28.5 8v8M29.5 7v8M30.5 5v11M31.5 6v10M32.5 4v2m0 1v9M33.5 7v2m0 1v6M34.5 5v2m0 2v7M35.5 8v3m0 1v2M36.5 7v9M37.5 7v7M38.5 7v9M39.5 10v6M40.5 6v8M41.5 5v11M42.5 6v6m0 2v2M43.5 5v11M44.5 7v9M45.5 8v8M46.5 7v9M47.5 5v11"/><path stroke="#8c00ff" stroke-width="1" fill="none" d="M1.5 0v2M42.5 0v2"/><path stroke="#0a7a0a" stroke-width="1" fill="none" d="M1.5 8v1M8.5 11v1M12.5 13v2M18.5 13v1M35.5 11v1"/><path stroke="#0a5a0a" stroke-width="1" fill="none" d="M1.5 11v2M2.5 5v1m0 9v1M4.5 4v2M8.5 14v1M11.5 14v1M12.5 6v2M13.5 4v3m0 3v1m0 4v1M14.5 4v2m0 4v1M15.5 6v1M16.5 4v2M17.5 9v1M18.5 4v2M20.5 15v1M25.5 7v2M26.5 5v1m0 8v1M27.5 5v2M28.5 5v3M31.5 5v1M32.5 6v1M34.5 7v2M35.5 5v3m0 6v2M38.5 5v2M39.5 6v4M40.5 14v2M45.5 6v2"/><path stroke="#e00060" stroke-width="1" fill="none" d="M6.5 0v1M8.5 0v2M14.5 0v2M17.5 0v1M18.5 0v2M20.5 0v1M21.5 0v1M29.5 0v1M36.5 1v1M39.5 0v2M41.5 1v1"/><path stroke="#60ff30" stroke-width="1" fill="none" d="M7.5 4v1M12.5 3v1M13.5 3v1M26.5 4v1M32.5 3v1M36.5 4v1M39.5 3v2M41.5 4v1"/></pattern><pattern id="p10" x="0" y="236" width="60" height="34" patternUnits="userSpaceOnUse"><path stroke="#ffffff" stroke-width="1" fill="none" d="M2.5 12v2M6.5 18v1M7.5 8v2m0 8v2m0 6v1M8.5 15v1M10.5 23v2m0 2v1M11.5 9v1m0 9v1m0 6v2M12.5 15v2m0 2v1M15.5 25v2M16.5 14v1m0 11v1M17.5 14v2m0 7v1M20.5 12v2M22.5 14v5M23.5 20v1M24.5 8v1M26.5 13v1m0 4v2M28.5 18v1m0 6v2M30.5 24v1M31.5 20v2M32.5 12v2M33.5 21v2M35.5 11v2M36.5 15v2M39.5 10v2M41.5 18v1m0 7v1M42.5 8v1m0 16v2M43.5 9v1M44.5 12v2M46.5 24v2M49.5 10v1m0 5v1m0 9v2M51.5 15v2M52.5 10v2M53.5 25v1M56.5 9v2m0 4v2"/><path stroke="#d0b0ff" stroke-width="1" fill="none" d="M3.5 19v2M6.5 15v1m0 7v2M9.5 14v2M12.5 14v1M18.5 8v1M19.5 15v1M20.5 15v2M22.5 19v1M33.5 11v2m0 5v2M40.5 18v1M45.5 15v2M47.5 18v1M49.5 17v1M50.5 9v2M53.5 14v2M54.5 14v2"/></pattern><pattern id="p11" x="0" y="0" width="8" height="60" patternUnits="userSpaceOnUse"><rect width="8" height="60" fill="#20d000"/><path stroke="#80a000" stroke-width="1" fill="none" d="M0.5 0v3m0 21v1m0 10v3M1.5 41v2M2.5 59v1M3.5 11v2m0 3v2m0 18v1m0 2v2m0 12v3M5.5 3v2M6.5 8v2m0 5v2m0 14v3m0 11v1m0 8v2M7.5 9v2m0 44v2"/><path stroke="#ff0020" stroke-width="1" fill="none" d="M0.5 3v2m0 3v2m0 15v3m0 17v3m0 6v3M1.5 4v2m0 8v2m0 3v3m0 3v1m0 12v1m0 4v2m0 1v2m0 5v2M2.5 28v1m0 16v5m0 2v1m0 3v3M3.5 3v1m0 15v2M4.5 11v8m0 24v2M5.5 5v3m0 8v2m0 7v3m0 6v1m0 5v1M6.5 5v2m0 3v3m0 12v1M7.5 35v3m0 3v2"/><path stroke="#000" stroke-width="1" fill="none" d="M0.5 5v1m0 23v3M1.5 57v2M2.5 11v1M3.5 45v2M4.5 1v3M5.5 8v1m0 5v2m0 33v2m0 7v1"/><path stroke="#10f010" stroke-width="1" fill="none" d="M0.5 12v2m0 14v1m0 28v3M1.5 6v3m0 1v2m0 15v3m0 7v1M2.5 2v2m0 8v3M3.5 0v3m0 6v1m0 27v2m0 2v1M4.5 6v3m0 10v3m0 19v1m0 6v3m0 4v1m0 2v2M5.5 9v2m0 7v5m0 8v3m0 9v3M6.5 13v1M7.5 0v1m0 10v9m0 8v5m0 5v3m0 8v3"/><path stroke="#0a8a0a" stroke-width="1" fill="none" d="M0.5 14v3m0 4v2m0 16v6M1.5 12v2m0 10v1m0 11v1M2.5 21v7m0 4v2m0 4v4m0 13v1M3.5 4v1m0 42v3m0 8v1M4.5 4v1m0 17v5m0 4v4M5.5 11v3m0 14v3m0 7v2m0 1v1m0 10v3M6.5 1v1m0 24v5M7.5 25v1m0 7v2m0 8v6m0 3v3"/><path stroke="#ffffff" stroke-width="1" fill="none" d="M1.5 55v2M2.5 9v2M3.5 43v2M4.5 42v1M5.5 55v3M7.5 4v2"/><path stroke="#b800b8" stroke-width="1" fill="none" d="M2.5 0v2m0 33v3M3.5 27v1M4.5 53v1m0 2v2M6.5 0v1m0 1v3m0 41v3"/></pattern><pattern id="p12" x="0" y="0" width="8" height="60" patternUnits="userSpaceOnUse"><rect width="8" height="60" fill="#20d000"/><path stroke="#0a8a0a" stroke-width="1" fill="none" d="M0.5 2v1m0 32v2m0 17v2M1.5 1v2m0 4v1m0 3v2M2.5 25v1m0 2v3m0 9v3m0 12v1M3.5 13v5m0 6v1m0 3v3m0 4v4M4.5 25v6m0 3v2m0 7v1m0 1v1m0 3v3M5.5 45v1M6.5 10v3m0 23v2m0 6v3M7.5 13v3m0 20v1m0 2v2m0 18v1"/><path stroke="#80a000" stroke-width="1" fill="none" d="M0.5 8v3m0 5v2m0 2v3m0 22v3M1.5 18v2m0 25v1m0 2v3m0 8v1M2.5 3v3m0 3v2m0 15v2M3.5 31v2m0 20v2M4.5 6v1m0 16v2M5.5 31v3m0 8v2m0 6v1m0 5v3M6.5 0v1m0 12v2m0 2v1m0 2v1m0 31v2m0 3v1M7.5 11v2m0 3v1"/><path stroke="#ffffff" stroke-width="1" fill="none" d="M0.5 11v2M2.5 50v3M6.5 38v1"/><path stroke="#10f010" stroke-width="1" fill="none" d="M0.5 13v3m0 41v3M1.5 3v4m0 15v2m0 1v2m0 7v3m0 2v2m0 12v2m0 1v2M2.5 0v3m0 3v2m0 23v2m0 25v2M3.5 2v3m0 7v1m0 12v3M4.5 31v3M5.5 34v2m0 8v1m0 6v1M6.5 42v1m0 11v3"/><path stroke="#ff0020" stroke-width="1" fill="none" d="M0.5 18v2m0 3v2m0 4v1m0 2v3m0 2v5m0 6v3M1.5 27v2m0 2v3m0 3v2m0 12v2M2.5 21v4m0 20v2m0 6v1m0 2v2M3.5 0v2m0 5v2m0 9v3m0 12v2m0 7v2m0 4v5m0 2v3M4.5 0v3m0 8v5m0 20v2m0 6v1m0 9v3M5.5 9v1m0 5v6m0 5v5m0 10v1m0 6v2m0 2v2M6.5 1v6m0 2v1m0 8v2m0 3v3m0 21v3M7.5 1v3m0 3v1m0 9v2m0 7v5m0 6v2m0 2v11"/><path stroke="#8c00ff" stroke-width="1" fill="none" d="M0.5 25v4m0 13v3M1.5 13v3m0 8v1M2.5 11v3m0 40v1M3.5 21v3M6.5 29v3m0 18v2M7.5 22v3m0 27v3"/><path stroke="#000" stroke-width="1" fill="none" d="M1.5 20v2m0 7v2m0 24v1M3.5 58v2M4.5 9v2M5.5 12v1M6.5 7v2m0 13v1m0 5v1m0 14v1m0 14v1M7.5 8v3"/></pattern><pattern id="p13" x="0" y="473" width="64" height="204" patternUnits="userSpaceOnUse"><path stroke="#80a000" stroke-width="1" fill="none" d="M0.5 3v5m0 19v3m0 55v3m0 76v4m0 17v3M1.5 68v5m0 7v3m0 41v5m0 44v4M3.5 9v2m0 136v5M4.5 126v4M5.5 62v2m0 108v4m0 20v2M6.5 85v4m0 106v3M8.5 120v5m0 27v3m0 47v2M9.5 3v4m0 26v5m0 14v2M10.5 28v4m0 17v4m0 16v4m0 76v5M11.5 11v3m0 51v5m0 100v5M12.5 29v2m0 65v7m0 72v2m0 11v4M13.5 16v4M14.5 15v3m0 56v4m0 46v3m0 65v4M15.5 2v3m0 26v5m0 40v5m0 5v4m0 42v5m0 47v5m0 5v3M16.5 24v5m0 69v5M17.5 24v5m0 18v4m0 113v2M18.5 0v3m0 135v5M19.5 51v5m0 115v5m0 25v3M20.5 29v8m0 62v4m0 31v7m0 16v5M22.5 155v5m0 32v3M23.5 40v2m0 10v4m0 36v5m0 72v3M24.5 64v7m0 15v3M25.5 111v4m0 46v5M26.5 37v4m0 90v3m0 69v1M27.5 37v5m0 82v2M28.5 3v2M29.5 45v3m0 46v4m0 33v5m0 14v5M30.5 32v6m0 37v4m0 49v4m0 3v3m0 55v2M31.5 82v3m0 59v3m0 24v5m0 3v3M32.5 28v2m0 33v4m0 76v2m0 38v4M33.5 55v4m0 13v3m0 74v3M34.5 170v5M35.5 93v5m0 58v4m0 21v5M36.5 182v3M37.5 24v7m0 6v4m0 35v4M38.5 20v2m0 11v2m0 8v3m0 5v5m0 8v7m0 54v13M39.5 9v5m0 42v2m0 30v3M40.5 23v5m0 91v7m0 21v5m0 13v5M41.5 63v2m0 110v2m0 14v3M42.5 8v3m0 5v4m0 134v3M43.5 5v3m0 98v9m0 84v3M44.5 38v2M46.5 21v6m0 30v2m0 99v3M47.5 4v4m0 43v6m0 7v4m0 20v3m0 63v2m0 10v5M48.5 11v3m0 56v3m0 60v4m0 16v5m0 17v5M49.5 57v5m0 10v5m0 99v2m0 8v4M50.5 83v3M51.5 0v2m0 28v2m0 4v4m0 87v3m0 31v2m0 21v4M52.5 2v3m0 42v5m0 51v3m0 83v3M53.5 57v4m0 16v4m0 81v3M54.5 165v2m0 35v2M55.5 7v5m0 4v3m0 33v4M56.5 43v5m0 25v3m0 93v4M57.5 0v2m0 43v2m0 94v9m0 20v2M58.5 90v3m0 20v5m0 75v4M59.5 70v5m0 33v3m0 64v5M60.5 112v2m0 44v2m0 10v4M61.5 181v4M62.5 60v4M63.5 45v4"/><path stroke="#b05000" stroke-width="1" fill="none" d="M0.5 41v4m0 12v2m0 29v4m0 4v4m0 3v9m0 19v5m0 54v3M1.5 48v2m0 7v2m0 16v2M2.5 15v2m0 26v4m0 7v3m0 12v2m0 2v3m0 3v5m0 22v4m0 8v2m0 40v4m0 7v8M3.5 0v5m0 26v5m0 3v2m0 9v2m0 2v3m0 21v5m0 5v2m0 31v10M4.5 0v4m0 6v4m0 25v5m0 66v3m0 32v3m0 9v4m0 7v2M5.5 98v5m0 19v3m0 69v2M6.5 7v2m0 16v5m0 32v4m0 16v3m0 92v2M7.5 8v4m0 9v4m0 15v2m0 64v5m0 14v3m0 13v9m0 43v2M8.5 10v2m0 32v3m0 25v2m0 24v3m0 2v5m0 20v4m0 15v5m0 17v10m0 13v5m0 3v2M9.5 25v8m0 23v3m0 8v5m0 27v2m0 13v2m0 4v2m0 19v4m0 50v6M10.5 37v2m0 63v3m0 9v2m0 28v2m0 10v5m0 24v2M11.5 35v4m0 12v5m0 65v9m0 56v5M12.5 0v5m0 32v2m0 2v3m0 3v5m0 31v3m0 39v5m0 14v3m0 24v4M13.5 0v8m0 22v3m0 34v3m0 16v5M14.5 50v2m0 26v4m0 2v5m0 24v2m0 44v4m0 11v7m0 4v3M15.5 50v5m0 3v2m0 13v3m0 14v4m0 27v2m0 4v2m0 18v4m0 21v2M16.5 150v4M17.5 2v2m0 4v4m0 9v3m0 49v2m0 13v8m0 17v5m0 3v8m0 9v4m0 27v5m0 9v2M18.5 63v2m0 46v3m0 15v4m0 15v5m0 13v5m0 16v5M19.5 68v7M20.5 16v2m0 25v5m0 6v4m0 39v2m0 102v2M21.5 50v5m0 7v2m0 15v4m0 13v3m0 32v3m0 63v3m0 3v1M22.5 59v5m0 5v10m0 36v5M23.5 0v5m0 31v4m0 24v3m0 47v3M24.5 4v2m0 5v3m0 166v5m0 4v2M25.5 4v3m0 66v5m0 19v3m0 21v2m0 48v4m0 8v3m0 8v3M26.5 16v4m0 29v8m0 3v5m0 31v12m0 57v5m0 31v2M27.5 23v2m0 26v5m0 30v2m0 8v5m0 84v2M28.5 120v2m0 39v5M29.5 4v4m0 8v8m0 65v2m0 80v3m0 2v5M30.5 59v3m0 20v5m0 5v3m0 13v2m0 31v3M31.5 7v3m0 57v7m0 11v4m0 7v3m0 8v2m0 86v2M32.5 87v5m0 59v2m0 28v2M33.5 50v5m0 68v5M34.5 51v4m0 4v2m0 21v4m0 41v4m0 15v2M35.5 17v4m0 24v3m0 4v5m0 5v5m0 10v5m0 38v5m0 10v3M36.5 42v2m0 2v3m0 7v3m0 26v2m0 17v5m0 6v5m0 19v5m0 48v2m0 8v2M37.5 105v2m0 85v5M38.5 39v4m0 13v6m0 21v5m0 4v4m0 60v4m0 23v2m0 3v3m0 2v4M39.5 25v4m0 45v5m0 34v3m0 12v5M40.5 56v5m0 13v3m0 75v2m0 8v3m0 12v2M41.5 90v3m0 5v5m0 36v5m0 4v3m0 29v2M42.5 83v4m0 14v4m0 35v2m0 36v5m0 16v3M43.5 13v4m0 33v2m0 36v4m0 2v5m0 22v2m0 9v5m0 34v4m0 4v5M44.5 40v5m0 54v3m0 12v4m0 4v3m0 13v4m0 5v7m0 4v5m0 27v4M45.5 8v3m0 4v3m0 28v2m0 98v3m0 46v3M46.5 37v5m0 88v3m0 4v3m0 7v7m0 7v5m0 31v4M47.5 20v5m0 125v2M48.5 31v5m0 19v4m0 6v5m0 40v2m0 9v2m0 7v3m0 15v5m0 9v9m0 19v2m0 5v2M49.5 105v5m0 12v5m0 37v4m0 14v4m0 8v3M50.5 73v2m0 46v4m0 35v3m0 2v4m0 21v5M51.5 112v2m0 16v3M52.5 10v2m0 48v4m0 5v3m0 6v5m0 31v4m0 81v2M53.5 12v4m0 5v5m0 35v5m0 25v3m0 10v2m0 26v5m0 22v3m0 21v3m0 11v5M54.5 23v4m0 44v3m0 7v7m0 31v3m0 71v4M55.5 12v4m0 3v3m0 56v5m0 51v2m0 16v4m0 45v3M56.5 12v5m0 70v4m0 15v5m0 65v3M57.5 32v2m0 47v5m0 24v3m0 54v3m0 19v2M58.5 24v2m0 34v2m0 101v2m0 17v5m0 12v5M59.5 25v3m0 5v4m0 43v5m0 26v3m0 6v2m0 3v4m0 19v4m0 50v2M60.5 40v5m0 120v5m0 22v5M61.5 99v2m0 28v2m0 5v2m0 47v4m0 13v2M62.5 18v3m0 50v5m0 85v2m0 12v5m0 14v2M63.5 5v4m0 23v5m0 34v5m0 113v4"/><path stroke="#30c000" stroke-width="1" fill="none" d="M0.5 59v3m0 58v4m0 14v3M1.5 59v3m0 23v4m0 25v5m0 45v2M2.5 10v5M3.5 74v4M4.5 124v2M5.5 89v3m0 78v2m0 8v2M6.5 0v2m0 36v2m0 69v3M7.5 49v2M8.5 54v5M9.5 54v2m0 48v2M11.5 79v5M12.5 39v2m0 66v5m0 10v3M13.5 38v5m0 80v4M14.5 57v4m0 7v2m0 26v5m0 97v5M15.5 20v5m0 41v4m0 99v3M17.5 134v2M18.5 74v2M19.5 129v5M20.5 130v2m0 39v3m0 21v2M24.5 71v7m0 30v3m0 40v5M25.5 87v4m0 95v5M28.5 32v2m0 92v3m0 37v3M29.5 31v4m0 56v3m0 95v5m0 8v2M30.5 41v2m0 19v5m0 20v2m0 90v2M31.5 31v5M32.5 104v5m0 49v5M33.5 12v5M34.5 164v2M35.5 109v2m0 89v2M36.5 97v3m0 24v4M38.5 99v3M40.5 91v2M41.5 120v4m0 20v4m0 46v5M42.5 165v8M43.5 0v5M44.5 93v2M45.5 101v5m0 92v2M47.5 203v1M48.5 94v3m0 40v2M50.5 64v5m0 61v3M51.5 40v2m0 33v2M54.5 37v5m0 3v4M57.5 16v3m0 85v4m0 66v5M58.5 35v3M59.5 56v4m0 129v5M60.5 102v2M61.5 111v2M62.5 7v4m0 5v2m0 103v4M63.5 28v4m0 27v3m0 55v5m0 22v4m0 25v4"/><path stroke="#e03000" stroke-width="1" fill="none" d="M0.5 117v3m0 16v2m0 21v5m0 31v8M1.5 4v4m0 14v3m0 16v3m0 18v6m0 24v3m0 34v2m0 14v2m0 46v4M2.5 34v3m0 20v4m0 15v3m0 31v4m0 6v4m0 2v2m0 20v3m0 28v4m0 3v4M3.5 16v9m0 91v5m0 16v5m0 15v4M4.5 58v4m0 53v4m0 16v2m0 59v3M5.5 17v7m0 14v8m0 9v2m0 18v5m0 102v4m0 5v3M6.5 50v5m0 16v2m0 61v2m0 5v5m0 26v5m0 2v4M7.5 0v3m0 28v4m0 10v4m0 47v7m0 47v3m0 22v4m0 4v10m0 10v1M8.5 21v5m0 38v3m0 27v4m0 10v2m0 77v5m0 5v3M9.5 59v4m0 62v5m0 5v6m0 31v5M10.5 41v8m0 10v2m0 3v5m0 60v5m0 12v3m0 16v6M11.5 3v3m0 16v5m0 3v5m0 56v5m0 21v4m0 41v8m0 5v2m0 7v2M12.5 12v4m0 2v3m0 14v2m0 17v5m0 138v7M13.5 43v4m0 23v3m0 23v5m0 13v4m0 9v5m0 36v5M14.5 4v4m0 14v5m0 36v5M15.5 27v4m0 92v4m0 47v4m0 24v2M16.5 50v5m0 26v2m0 10v3m0 17v4m0 17v3m0 5v5m0 13v2M17.5 0v2m0 17v2m0 17v5m0 8v4m0 4v4m0 55v3m0 41v2M18.5 37v5m0 5v3m0 48v5m0 50v2m0 6v2m0 20v4M19.5 11v2m0 62v3m0 14v4m0 62v5M20.5 0v2m0 46v3m0 13v3m0 5v2m0 43v2m0 22v2m0 19v5M21.5 21v5m0 83v3m0 82v3m0 3v3M22.5 27v6m0 17v3m0 3v3m0 5v5m0 35v3m0 39v2m0 54v2M23.5 72v5m0 79v8M24.5 0v4m0 37v3m0 47v3m0 48v4m0 22v9M25.5 11v2m0 3v8m0 76v5m0 36v4m0 4v3m0 14v2M26.5 57v3m0 9v5m0 5v4m0 43v5m0 3v5m0 11v4m0 8v3M27.5 131v5m0 15v2m0 16v8m0 5v3M28.5 47v10m0 35v5m0 7v3m0 39v3m0 34v2m0 14v5M29.5 48v4m0 14v4m0 5v2m0 10v2m0 25v4m0 22v5m0 20v4m0 5v2M30.5 0v2m0 36v3m0 103v3m0 4v3m0 32v3M31.5 40v3m0 108v4m0 21v3m0 14v2m0 7v2M32.5 0v11m0 19v5m0 7v3m0 11v7m0 21v3m0 11v2m0 35v4M33.5 59v4m0 35v5m0 34v4m0 21v4m0 23v4M34.5 30v4m0 21v4m0 31v6m0 9v2m0 72v5M35.5 4v2m0 20v5m0 11v3m0 22v3m0 4v3m0 8v4m0 9v2M36.5 0v2m0 5v4m0 2v4m0 32v3m0 11v5m0 4v4m0 70v4m0 20v2m0 22v3M37.5 14v5m0 3v2m0 24v4m0 18v2m0 17v5m0 7v2m0 6v12m0 6v4m0 23v8m0 5v3M38.5 27v2m0 85v2m0 2v2m0 65v3M39.5 20v2m0 11v4m0 54v3m0 42v5m0 2v5M40.5 0v3M41.5 93v5m0 79v3M42.5 4v4m0 3v5m0 14v2m0 31v4m0 57v5m0 13v5m0 2v5M43.5 27v3m0 7v2m0 26v8m0 7v4m0 61v2m0 7v10m0 11v4m0 5v5m0 3v2M44.5 8v4m0 95v7m0 11v4m0 57v4M45.5 5v3m0 29v4m0 11v4m0 37v5m0 51v6m0 13v4M46.5 0v4m0 30v3m0 27v2m0 33v3m0 8v7m0 10v3m0 48v3M47.5 100v2m0 72v3M48.5 2v4m0 55v4m0 41v4m0 13v2M49.5 7v3m0 13v5m0 56v4m0 39v4m0 5v2m0 9v7m0 24v4M50.5 0v4m0 7v8m0 5v5m0 57v5m0 7v4M51.5 19v2m0 30v2m0 24v4m0 2v2m0 18v4m0 83v4M52.5 23v2m0 74v4M53.5 75v2m0 17v2m0 10v5m0 26v2m0 26v5M54.5 13v8m0 11v3m0 102v2m0 8v5m0 15v4M55.5 24v2m0 9v2m0 19v4m0 27v7m0 45v4m0 17v3m0 3v2m0 2v7m0 3v5m0 7v5M56.5 17v3m0 6v4m0 31v2m0 2v5m0 6v5m0 40v2m0 6v2m0 19v3m0 20v3M57.5 2v5m0 5v4m0 31v2m0 14v7m0 29v5m0 27v5m0 28v3M58.5 0v4m0 18v2m0 23v2m0 60v2m0 7v4m0 10v5m0 6v4m0 9v2m0 7v3m0 29v2M59.5 0v2m0 37v6m0 47v5m0 25v3m0 36v9m0 14v3M60.5 0v5m0 15v4m0 30v4m0 46v5m0 9v4m0 8v7m0 23v5M61.5 20v3m0 15v3m0 4v5m0 24v11m0 31v3m0 19v8M62.5 2v3m0 32v6m0 15v2m0 16v5m0 48v2m0 7v4m0 8v5m0 8v3M63.5 21v2m0 26v5m0 8v2m0 4v3m0 28v3"/><path stroke="#8c00ff" stroke-width="1" fill="none" d="M3.5 64v3M4.5 191v5M5.5 68v2M6.5 165v5M7.5 118v3M8.5 6v4m0 129v3M9.5 150v3m0 32v4M14.5 61v2M15.5 118v3m0 36v5M20.5 58v2m0 107v2M25.5 78v5M27.5 148v3M32.5 128v3M33.5 132v5M38.5 90v2M39.5 94v3M41.5 108v3M42.5 28v2M48.5 36v5M49.5 67v5M52.5 147v5M58.5 65v4M61.5 69v3"/></pattern><pattern id="p14" x="0" y="473" width="40" height="100" patternUnits="userSpaceOnUse"><path stroke="#80a000" stroke-width="1" fill="none" d="M0.5 0v4m0 6v4M1.5 67v3M2.5 11v5m0 73v3M3.5 26v3m0 7v3M4.5 0v3m0 58v4M5.5 0v10m0 11v3m0 3v10m0 6v4m0 27v4M6.5 4v9m0 55v5M8.5 15v3m0 34v5M9.5 4v4M10.5 32v3M11.5 0v4m0 35v7M12.5 33v4m0 12v5m0 27v5M13.5 22v7M14.5 39v3m0 14v5M15.5 24v4M16.5 32v3m0 12v3m0 12v3M17.5 58v5M18.5 0v5m0 4v4m0 50v3M19.5 27v4m0 19v3M20.5 12v4m0 12v10M21.5 61v5M22.5 10v4m0 19v5M23.5 14v6M24.5 21v4m0 17v3M25.5 21v5m0 28v4M26.5 40v5M27.5 18v4m0 3v4m0 6v5M28.5 0v3m0 9v3m0 10v4m0 6v7M29.5 8v4m0 21v4M30.5 16v3m0 3v4m0 55v3M31.5 15v5m0 40v4m0 22v3M32.5 0v4m0 6v3m0 7v3m0 4v6M33.5 33v3m0 9v5M35.5 10v5M36.5 10v3M37.5 0v5m0 43v3M38.5 63v5M39.5 0v4m0 24v4"/><path stroke="#70a000" stroke-width="1" fill="none" d="M0.5 14v5m0 22v5M1.5 40v5M5.5 10v3M6.5 29v5M8.5 0v4m0 30v5m0 4v3M9.5 13v5M10.5 16v3M11.5 51v4M12.5 27v3M14.5 29v5M18.5 24v4M19.5 8v4m0 22v5M20.5 16v4M22.5 0v4M23.5 6v4M26.5 12v5m0 43v4m0 16v7M27.5 40v5m0 18v5M28.5 8v4M29.5 72v3M33.5 40v5M36.5 13v8M37.5 10v3M38.5 18v4"/><path stroke="#b05000" stroke-width="1" fill="none" d="M1.5 0v7m0 4v5M2.5 4v3m0 22v3m0 7v5M3.5 0v5M4.5 84v4M7.5 5v4m0 15v3m0 33v5M8.5 4v3m0 23v4M10.5 56v4M12.5 5v9m0 16v3m0 36v3M13.5 3v3m0 13v3M15.5 0v3m0 3v3m0 37v8M16.5 8v4M17.5 0v5m0 11v3m0 11v3m0 19v6m0 14v5M18.5 33v8M19.5 0v8m0 35v3m0 7v5m0 24v5M20.5 5v4M21.5 14v5M22.5 7v3m0 11v4M23.5 20v4M24.5 13v8m0 12v4M25.5 9v5m0 65v4M26.5 24v5M27.5 14v4m0 40v5M28.5 3v5m0 7v10M29.5 37v3m0 35v4M30.5 19v3m0 37v4M31.5 5v4M32.5 33v5m0 22v5M33.5 20v5M34.5 20v3m0 54v5M35.5 49v5M36.5 0v3m0 42v4m0 31v5M37.5 62v4M38.5 9v9m0 4v4M39.5 4v4m0 5v4m0 15v4m0 33v3"/></pattern><pattern id="p15" x="0" y="473" width="48" height="204" patternUnits="userSpaceOnUse"><path stroke="#30c000" stroke-width="1" fill="none" d="M0.5 7v5m0 2v3m0 11v3m0 84v5m0 3v2m0 7v2m0 15v2m0 43v3M1.5 16v3m0 18v4m0 22v2m0 21v3m0 3v2m0 3v2m0 6v3m0 10v3m0 15v6m0 11v2m0 15v3m0 3v2m0 5v3m0 8v3M2.5 17v2m0 22v5m0 34v2m0 12v3m0 55v4m0 44v2M3.5 74v3m0 2v3m0 35v3m0 42v2m0 7v3M4.5 16v2m0 17v3m0 10v2m0 4v3m0 41v3m0 2v2m0 15v3m0 32v2M5.5 12v3m0 8v3m0 5v3m0 13v2m0 6v2m0 24v3m0 35v2m0 31v2m0 19v2m0 8v2m0 14v2M6.5 5v2m0 8v2m0 18v3m0 7v3m0 10v3m0 3v3m0 16v2m0 12v2m0 70v3M7.5 22v2m0 55v4m0 75v2M8.5 0v3m0 9v2m0 28v2m0 16v3m0 3v2m0 21v4m0 5v3m0 44v3m0 16v2M9.5 37v2m0 128v3m0 3v2m0 9v2M10.5 0v2m0 26v3m0 9v2m0 20v2m0 17v2m0 56v2m0 13v2m0 3v2m0 19v2M11.5 120v2m0 36v3m0 35v3M12.5 6v6m0 43v3m0 12v2m0 12v3m0 2v3m0 18v2m0 22v3m0 34v2M13.5 76v3m0 44v3m0 10v2m0 9v2m0 16v3m0 20v2M14.5 20v2m0 34v2m0 8v2m0 2v3m0 4v2m0 9v2m0 7v2m0 30v3m0 3v2m0 10v5m0 2v3m0 17v2m0 5v3m0 5v3m0 9v3M15.5 8v2m0 2v2m0 19v2m0 26v2m0 9v2m0 18v3m0 5v5m0 4v2m0 14v2m0 12v3m0 19v3m0 16v8M16.5 11v2m0 21v3m0 13v2m0 34v2m0 7v2m0 9v3m0 51v2m0 24v3M17.5 5v3m0 70v3m0 8v2m0 14v2m0 9v3m0 11v2m0 3v3m0 6v3m0 35v2m0 9v3m0 3v4M18.5 0v5m0 27v2m0 20v2m0 47v3m0 22v2m0 7v2m0 9v2m0 13v3m0 29v3M19.5 62v2m0 2v3m0 5v3m0 8v3m0 43v2m0 15v2m0 51v3M20.5 18v2m0 26v2m0 48v3m0 10v3m0 81v2m0 3v2M21.5 33v2m0 9v2m0 29v2m0 60v3m0 23v2M22.5 29v2m0 16v2m0 13v2m0 20v2m0 10v3m0 7v2m0 9v2m0 66v3M23.5 71v2m0 44v3M24.5 20v3m0 6v2m0 24v2m0 2v2m0 52v3m0 11v2m0 14v2M25.5 6v2m0 12v3m0 35v2m0 28v2m0 2v3m0 54v3M26.5 2v3m0 21v4m0 34v3m0 4v5m0 29v2m0 21v2m0 13v2m0 27v2m0 24v3M27.5 0v3m0 64v3m0 2v5m0 36v2m0 51v2m0 2v3M28.5 60v3m0 13v2m0 26v2m0 45v3m0 20v6M29.5 12v8m0 41v3m0 2v3m0 8v3m0 3v2m0 12v2m0 5v3m0 15v3m0 18v3M30.5 2v2m0 43v2m0 4v3m0 79v3m0 12v3m0 5v3M31.5 2v3m0 29v3m0 16v2m0 17v5m0 19v2m0 23v2m0 15v2m0 29v2M32.5 20v6m0 10v3m0 119v3M33.5 13v3m0 58v3m0 18v3m0 30v2m0 6v2m0 45v2m0 9v3m0 5v2M34.5 3v2m0 6v2m0 9v5m0 5v3m0 74v5m0 14v2m0 51v3m0 8v2M35.5 0v3m0 19v6m0 31v2m0 8v2m0 40v5m0 2v3m0 24v3m0 8v2m0 8v3m0 6v3m0 6v2M36.5 0v2m0 4v3m0 19v2m0 28v3m0 27v2m0 56v2m0 13v3M37.5 16v3m0 10v3m0 19v3m0 25v3m0 13v2m0 14v2m0 8v3m0 9v3m0 17v5m0 8v3m0 3v2M38.5 3v3m0 59v6m0 6v8m0 34v3m0 50v3m0 3v3m0 5v2m0 9v6M39.5 22v3m0 5v2m0 47v3m0 54v3m0 4v2m0 27v4M40.5 7v2m0 21v6m0 61v2m0 8v5m0 20v3m0 46v2M41.5 16v3m0 23v3m0 21v3m0 24v3m0 8v2m0 4v2M42.5 14v6m0 6v3m0 16v3m0 14v3m0 23v2m0 8v2m0 2v2m0 29v3m0 45v3M43.5 4v2m0 42v3m0 8v2m0 52v3m0 84v3M44.5 2v2m0 14v2m0 35v2m0 34v3m0 2v3m0 22v2m0 2v2m0 37v3m0 4v3m0 15v2M45.5 7v8m0 15v3m0 38v3m0 3v2m0 22v3m0 8v3m0 23v3m0 28v3m0 21v2m0 8v1M46.5 7v2m0 30v2m0 34v3m0 17v2m0 45v2m0 3v3m0 3v4m0 5v3m0 2v4m0 10v2M47.5 0v2m0 14v2m0 5v3m0 30v3m0 67v3m0 2v3m0 27v3m0 8v2"/><path stroke="#8c00ff" stroke-width="1" fill="none" d="M0.5 12v2m0 3v3m0 11v2m0 18v3m0 15v3m0 16v5m0 32v2m0 7v2m0 15v3m0 8v2m0 8v2m0 2v3m0 12v3M1.5 13v3m0 8v2m0 9v2m0 4v3m0 21v3m0 10v3m0 27v2m0 5v3m0 5v3m0 52v5m0 3v4m0 7v2M2.5 2v2m0 10v3m0 2v3m0 11v3m0 20v3m0 8v2m0 36v3m0 26v3m0 6v2m0 4v3m0 10v2m0 5v2m0 16v5m0 3v3M3.5 13v2m0 23v2m0 19v2m0 8v5m0 37v3m0 24v3m0 3v2m0 18v3m0 17v2m0 13v2M4.5 18v4m0 3v2m0 13v3m0 9v2m0 9v2m0 8v3m0 47v3m0 9v9m0 3v3m0 26v3m0 11v2M5.5 53v2m0 18v3m0 14v5m0 5v2m0 13v2m0 58v3M6.5 52v2m0 13v3m0 8v3m0 67v2m0 15v2m0 5v3M7.5 0v3m0 27v3m0 21v3m0 20v2m0 19v3m0 7v3m0 2v2m0 7v2m0 6v4m0 7v7m0 8v2m0 4v2m0 4v3m0 19v3m0 7v2M8.5 28v2m0 6v3m0 19v2m0 16v2m0 49v3m0 5v3m0 24v2m0 10v3m0 4v2M9.5 8v3m0 3v2m0 29v2m0 6v3m0 4v3m0 14v2m0 25v6m0 7v3m0 19v3m0 5v3m0 3v3m0 2v3m0 40v3M10.5 31v2m0 22v2m0 22v2m0 4v2m0 16v6m0 10v3m0 39v4m0 5v2m0 13v2m0 11v6M11.5 5v2m0 63v3m0 11v2m0 9v2m0 5v2m0 6v5m0 25v2m0 8v3m0 11v4m0 9v7M12.5 0v2m0 14v2m0 15v2m0 13v4m0 8v2m0 3v2m0 5v2m0 13v2m0 12v3m0 8v2m0 17v3m0 17v2m0 6v2m0 3v3m0 6v8m0 3v2m0 5v2m0 3v2M13.5 2v2m0 3v2m0 6v3m0 2v3m0 3v3m0 3v5m0 36v3m0 27v2m0 4v3m0 30v5m0 21v2M14.5 10v6m0 24v3m0 5v3m0 12v3m0 2v2m0 20v2m0 9v2m0 4v3m0 13v3m0 11v2m0 31v2m0 12v5m0 3v2M15.5 0v3m0 21v4m0 7v3m0 21v2m0 9v2m0 23v2m0 19v5m0 67v5M16.5 18v3m0 49v2m0 16v2m0 19v2m0 34v3m0 7v2m0 37v2M17.5 10v6m0 57v3m0 10v3m0 2v3m0 13v2m0 4v3m0 3v3m0 5v3m0 24v3m0 14v2m0 7v2M18.5 27v2m0 8v2m0 3v3m0 6v3m0 5v3m0 49v6m0 6v2m0 25v3m0 8v2m0 12v2m0 9v4m0 8v3M19.5 8v2m0 8v4m0 3v2m0 12v3m0 11v2m0 64v3m0 4v3m0 4v2m0 2v3m0 22v8M20.5 23v2m0 6v3m0 2v3m0 40v3m0 35v2m0 8v2m0 9v3m0 12v2m0 27v6m0 7v3M21.5 9v3m0 49v2m0 5v3m0 6v2m0 16v2m0 9v2m0 3v3m0 11v2m0 17v2m0 13v4m0 8v3m0 25v3M22.5 0v2m0 7v3m0 8v2m0 2v5m0 8v4m0 3v3m0 7v5m0 96v3M23.5 9v2m0 7v3m0 26v2m0 19v3m0 24v2m0 12v5m0 57v5m0 5v3m0 17v3M24.5 102v3m0 27v2m0 13v3m0 2v3m0 22v3m0 9v2M25.5 23v2m0 25v2m0 8v2m0 17v3m0 34v3m0 35v2m0 26v3M26.5 14v5m0 18v3m0 5v2m0 14v3m0 14v3m0 37v2m0 3v2m0 10v2m0 21v2m0 26v3m0 4v3M27.5 24v2m0 17v3m0 5v6m0 20v2m0 10v3m0 2v2m0 12v2m0 5v3m0 8v2m0 7v3m0 2v2m0 53v2m0 2v3M28.5 13v5m0 4v6m0 17v3m0 2v2m0 21v3m0 12v2m0 11v3m0 11v3m0 14v2m0 8v6m0 11v3m0 6v6m0 13v3m0 2v2M29.5 3v3m0 25v2m0 3v5m0 31v3m0 35v5m0 2v3m0 18v2m0 50v2m0 10v2M30.5 0v2m0 6v2m0 9v6m0 55v7m0 7v3m0 18v3m0 4v2m0 16v2m0 27v3m0 24v3M31.5 0v2m0 8v3m0 52v2m0 3v2m0 5v5m0 6v2m0 3v3m0 7v2m0 10v3m0 12v3m0 3v2m0 2v3m0 8v2M32.5 5v2m0 5v2m0 20v2m0 65v3m0 3v3m0 17v3m0 40v2m0 20v5M33.5 0v5m0 3v3m0 19v2m0 22v3m0 5v3m0 42v2m0 9v2m0 2v2m0 17v4m0 40v4M34.5 48v2m0 5v2m0 18v3m0 3v2m0 2v3m0 14v2m0 26v2m0 41v3m0 11v2m0 5v2M35.5 30v3m0 3v3m0 3v5m0 7v5m0 12v2m0 5v3m0 6v3m0 13v5m0 18v3m0 44v2M36.5 2v2m0 9v7m0 6v2m0 2v2m0 7v6m0 16v2m0 13v3m0 29v3m0 7v3m0 21v2m0 7v2m0 2v6m0 13v2m0 18v2M37.5 11v2m0 6v3m0 10v3m0 39v2m0 33v2m0 6v4m0 23v2m0 14v3m0 11v3m0 11v3m0 5v5M38.5 17v2m0 7v3m0 42v2m0 25v2m0 3v2m0 3v6m0 32v6m0 23v3m0 10v5M39.5 17v3m0 42v2m0 50v2m0 12v5m0 12v3m0 36v2M40.5 0v7m0 5v3m0 8v3m0 2v2m0 37v5m0 10v6m0 24v2m0 8v3m0 10v3m0 34v4m0 16v5m0 5v2M41.5 56v3m0 2v2m0 20v2m0 21v2m0 4v3m0 26v5m0 2v5m0 11v3m0 23v2M42.5 6v8m0 6v3m0 28v8m0 66v3m0 22v3m0 24v2m0 9v2m0 2v2M43.5 2v2m0 29v3m0 28v2m0 15v5m0 2v2m0 58v2m0 31v3m0 4v5M44.5 14v4m0 2v2m0 14v3m0 4v2m0 4v2m0 55v5m0 12v2m0 15v2m0 41v3M45.5 0v2m0 113v2m0 9v2m0 5v5m0 14v4m0 5v3m0 17v3m0 2v2M46.5 9v3m0 17v2m0 30v3m0 14v3m0 37v2m0 5v2m0 5v2m0 16v3m0 4v2m0 12v3m0 9v2M47.5 6v2m0 5v3m0 12v2m0 5v3m0 58v2m0 11v3m0 2v2m0 7v3m0 8v2m0 6v2m0 20v3m0 3v2m0 18v2m0 6v3"/><path stroke="#b800b8" stroke-width="1" fill="none" d="M0.5 20v3m0 51v2m0 9v3m0 14v2m0 53v2m0 23v2M1.5 5v2m0 103v2m0 16v2M3.5 6v2m0 140v3m0 23v6M4.5 82v3m0 11v2m0 15v2M5.5 10v2m0 8v3m0 98v3m0 11v3m0 9v2M6.5 54v2m0 67v3m0 41v2m0 21v5M7.5 106v2m0 40v3M8.5 30v3m0 14v3m0 18v3m0 54v2m0 29v3M9.5 50v3m0 3v2m0 5v2m0 128v2M10.5 16v2m0 128v3M11.5 107v3m0 32v3M12.5 4v2m0 21v2m0 114v2m0 22v2M13.5 66v2m0 88v3m0 14v2M14.5 51v3m0 30v2m0 77v3M15.5 6v2m0 55v2m0 58v2m0 8v2m0 12v2M16.5 5v3m0 16v2m0 2v3m0 24v3m0 5v3m0 36v2m0 33v2m0 9v2M17.5 2v3m0 59v3m0 94v3m0 26v3M18.5 64v3M19.5 15v3m0 46v2m0 77v2m0 51v2M20.5 42v2m0 12v3m0 56v2m0 60v3M21.5 3v3m0 162v3m0 8v2m0 2v2M22.5 49v2m0 68v3m0 55v2m0 21v3M23.5 49v2m0 9v3m0 15v3m0 81v3M24.5 13v2m0 42v2m0 59v3m0 53v3M25.5 30v2m0 74v2m0 34v3m0 32v3M26.5 69v2m0 62v2m0 30v3M27.5 5v6m0 2v2m0 4v2m0 111v3m0 47v3m0 12v2M28.5 71v2M30.5 27v3m0 8v3m0 63v2m0 85v2M31.5 15v6m0 2v2m0 59v2M32.5 39v3m0 25v2m0 30v2m0 74v2m0 5v3M33.5 22v3m0 7v3m0 13v3m0 103v2m0 3v2m0 3v3m0 30v2M34.5 107v2m0 39v3m0 15v3M35.5 50v2m0 96v2m0 42v2M36.5 37v2m0 51v2m0 89v2M37.5 87v2m0 105v2M38.5 19v2m0 39v3m0 65v3M39.5 0v6m0 54v2m0 2v2m0 120v3M40.5 77v2m0 70v5m0 13v2M41.5 71v2m0 98v2m0 24v2M42.5 29v6m0 61v2M43.5 17v2m0 8v3m0 88v2m0 5v3M44.5 53v2m0 9v3m0 35v2m0 92v3M45.5 19v2m0 14v2m0 2v2m0 56v2m0 65v3m0 30v3M46.5 93v2m0 9v3m0 3v3M47.5 107v2"/><path stroke="#b05000" stroke-width="1" fill="none" d="M0.5 36v3m0 104v3m0 18v3M1.5 9v2m0 122v3m0 27v2M2.5 7v2m0 22v2m0 83v3m0 5v3m0 10v3m0 41v3M3.5 0v6m0 11v2m0 95v3m0 71v2M4.5 45v3m0 104v3M5.5 37v2m0 72v2m0 14v2m0 62v2m0 10v1M6.5 75v3m0 52v2m0 2v3M7.5 19v3m0 26v6m0 3v2m0 28v2m0 75v2m0 9v3M8.5 3v2m0 5v2m0 21v3M9.5 90v3m0 38v3m0 63v2M10.5 92v2m0 28v3m0 5v2m0 33v3m0 14v3m0 2v2M11.5 2v3m0 20v3m0 8v3m0 28v3m0 67v3m0 21v3m0 6v3M12.5 58v2m0 32v3m0 4v2m0 44v4m0 12v3m0 34v2M13.5 18v2m0 24v3m0 16v3m0 31v3m0 7v2M14.5 0v2m0 14v2m0 97v6M15.5 89v3m0 38v3m0 60v3M16.5 31v3m0 44v3m0 58v3m0 8v2m0 32v2M17.5 22v3M18.5 14v2m0 7v2m0 31v3m0 3v2m0 56v3m0 9v2m0 45v2M19.5 91v2m0 3v2m0 15v3m0 74v2M20.5 13v3m0 28v2m0 125v2m0 27v3M21.5 22v3m0 34v2m0 39v3m0 24v3m0 5v2m0 28v3m0 8v3m0 9v2M22.5 66v2m0 61v2m0 41v2M23.5 25v3m0 17v2m0 8v3m0 15v3m0 44v2m0 73v3M24.5 5v3m0 15v2m0 120v2m0 13v3M25.5 10v2m0 62v3m0 62v3m0 5v2m0 12v3m0 11v2M26.5 21v3m0 19v2m0 36v3m0 15v3m0 11v2m0 5v3m0 78v2M27.5 70v2m0 117v3m0 10v2M28.5 9v2m0 67v2m0 33v2m0 82v2M29.5 46v2m0 27v2m0 86v2m0 9v3M30.5 4v2m0 182v3M31.5 105v3m0 2v3m0 20v3m0 7v3m0 20v3m0 33v2M32.5 3v2m0 37v6m0 46v2m0 56v3m0 6v2m0 26v3m0 5v3M33.5 16v2m0 20v3m0 2v2m0 85v3m0 58v3M34.5 5v6m0 9v2m0 5v2m0 12v3m0 22v2m0 5v2m0 41v2m0 3v2m0 73v2M35.5 66v3m0 7v2m0 19v3m0 8v3m0 69v2M36.5 92v3m0 8v2m0 29v3M37.5 25v2m0 12v2m0 2v3m0 134v6M38.5 11v3m0 20v3m0 54v2m0 3v2m0 2v3m0 38v2M39.5 32v2m0 16v2m0 32v3m0 11v2m0 19v2m0 18v2m0 17v2m0 3v3m0 3v3M40.5 60v3m0 11v3m0 14v3m0 26v2m0 5v3m0 53v2M41.5 59v2m0 30v2m0 60v2m0 14v2m0 28v2M42.5 40v2m0 6v3m0 106v2M43.5 150v3M44.5 47v2m0 110v2m0 30v3M45.5 33v2m0 16v6m0 11v3m0 53v2m0 5v2M46.5 41v3m0 14v3m0 9v2m0 13v3m0 39v3m0 61v3M47.5 10v3m0 52v2m0 12v2m0 6v3m0 11v6m0 85v6"/><path stroke="#ffffff" stroke-width="1" fill="none" d="M3.5 128v2M5.5 166v2M9.5 195v2M12.5 38v2M14.5 176v3M16.5 100v2M17.5 28v2M20.5 20v3M22.5 133v2M23.5 178v3M25.5 195v2M26.5 115v3M28.5 165v3M34.5 96v3M39.5 28v2m0 16v2M41.5 45v2m0 22v2"/></pattern><pattern id="p16" x="0" y="456" width="48" height="17" patternUnits="userSpaceOnUse"><path stroke="#0a5a0a" stroke-width="1" fill="none" d="M0.5 0v10M1.5 0v10M2.5 0v10m0 2v2M3.5 0v11M4.5 0v1m0 1v2m0 1v3m0 2v3M5.5 0v6m0 2v3m0 1v2M6.5 0v2m0 3v6M7.5 1v6m0 1v2M8.5 0v1m0 1v3m0 1v4M9.5 0v6m0 2v1M10.5 0v11M11.5 0v5m0 1v1m0 4v1M12.5 0v8M13.5 0v2m0 1v7M14.5 0v4m0 1v2m0 2v4M15.5 0v4m0 2v5M16.5 0v5m0 1v4m0 1v2M17.5 0v10m0 2v1M18.5 0v5m0 1v5M19.5 0v1m0 2v2m0 1v1m0 5v1M20.5 0v5m0 2v6M21.5 0v6m0 1v3M22.5 0v4m0 1v2m0 2v5M23.5 0v8m0 1v4M24.5 0v9m0 2v1M25.5 0v10M26.5 0v1m0 2v4m0 2v1m0 2v2M27.5 2v10M28.5 2v8M29.5 0v11M30.5 0v13M31.5 2v7m0 2v2M32.5 0v11M33.5 0v2m0 1v11M34.5 0v10M35.5 0v1m0 1v8M36.5 1v2m0 2v8M37.5 0v1m0 1v11M38.5 0v4m0 2v4M39.5 0v13M40.5 0v13M41.5 5v4m0 3v2M42.5 0v13M43.5 0v11m0 1v2M44.5 0v11M45.5 0v4m0 1v5m0 2v1M46.5 0v1m0 1v7m0 1v4M47.5 0v1m0 1v4m0 2v5"/><path stroke="#000" stroke-width="1" fill="none" d="M0.5 10v3M1.5 10v2M2.5 10v2M3.5 11v2M4.5 1v1M6.5 4v1M8.5 1v1m0 8v2M9.5 11v1M12.5 12v2M13.5 10v2M14.5 7v2M16.5 10v1M19.5 11v1M21.5 10v1M24.5 9v2M25.5 10v3M29.5 11v2M35.5 12v1M38.5 11v1M41.5 0v2m0 2v1m0 4v3M43.5 11v1M46.5 9v1M47.5 6v2"/><path stroke="#ff0010" stroke-width="1" fill="none" d="M0.5 13v4M1.5 15v2M2.5 16v1M4.5 16v1M6.5 13v4M8.5 15v2M9.5 15v2M10.5 13v4M13.5 16v1M14.5 16v1M15.5 16v1M16.5 15v2M17.5 15v2M20.5 15v2M21.5 16v1M22.5 15v1M23.5 14v3M24.5 15v2M26.5 15v2M27.5 15v1M28.5 14v2M29.5 16v1M30.5 16v1M31.5 14v3M32.5 15v2M33.5 16v1M34.5 15v2M35.5 13v1m0 2v1M36.5 15v2M37.5 15v1M38.5 16v1M39.5 15v2M40.5 15v2M41.5 15v1M42.5 16v1M43.5 16v1M44.5 15v1M46.5 16v1M47.5 16v1"/><path stroke="#20d020" stroke-width="1" fill="none" d="M1.5 12v3M2.5 14v2M4.5 13v3M5.5 6v2m0 3v1m0 2v2M6.5 11v2M7.5 0v1m0 9v7M8.5 5v1m0 6v3M9.5 9v2m0 1v3M10.5 11v2M11.5 5v1m0 2v3m0 1v3M12.5 10v2m0 2v2M13.5 12v4M14.5 13v1M15.5 4v2m0 5v5M16.5 5v1m0 7v2M17.5 10v2m0 1v2M18.5 11v5M19.5 1v2m0 6v2m0 2v4M20.5 5v2m0 6v2M21.5 6v1m0 4v5M22.5 8v1m0 5v1M23.5 13v1M24.5 12v3M25.5 13v2M26.5 10v2m0 2v1M27.5 12v3M28.5 10v3M29.5 13v3M30.5 13v2M31.5 0v2m0 11v1M32.5 11v4M33.5 2v1m0 11v2M34.5 10v5M35.5 10v2m0 2v2M36.5 0v1m0 2v2m0 8v2M37.5 1v1m0 11v2M38.5 10v1m0 1v4M39.5 13v2M40.5 13v2M42.5 15v1M43.5 14v2M44.5 11v4M45.5 4v1m0 5v2m0 1v4M46.5 14v2M47.5 1v1m0 11v3"/><path stroke="#60ff30" stroke-width="1" fill="none" d="M3.5 13v2M14.5 14v1M28.5 13v1M41.5 14v1M42.5 13v2"/><path stroke="#8c00ff" stroke-width="1" fill="none" d="M3.5 15v2M11.5 16v1M12.5 16v1M22.5 16v1M28.5 16v1M37.5 16v1M41.5 16v1"/><path stroke="#0a7a0a" stroke-width="1" fill="none" d="M4.5 4v1m0 3v2M6.5 2v2M7.5 7v1M9.5 6v2M11.5 7v1M12.5 8v2M13.5 2v1M14.5 4v1M18.5 5v1M19.5 5v1m0 1v2M22.5 4v1m0 2v1M23.5 8v1M26.5 1v2m0 4v2M27.5 0v2M28.5 0v2M31.5 9v2M35.5 1v1M38.5 4v2M41.5 2v2M46.5 1v1"/><path stroke="#b05000" stroke-width="1" fill="none" d="M5.5 16v1M11.5 15v1M14.5 15v1M18.5 16v1M25.5 15v2M27.5 16v1M30.5 15v1M44.5 16v1"/></pattern><pattern id="p17" x="0" y="456" width="48" height="17" patternUnits="userSpaceOnUse"><path stroke="#000" stroke-width="1" fill="none" d="M0.5 0v5m0 2v2m0 2v1M1.5 0v13M2.5 0v3m0 2v5M3.5 0v11M4.5 0v12M5.5 0v10m0 2v2M6.5 0v10m0 2v1M7.5 0v5m0 1v6M8.5 0v13M9.5 0v9M10.5 0v13M11.5 0v10m0 1v2M12.5 0v4m0 1v5M13.5 0v11M14.5 0v13M15.5 0v3m0 1v5M16.5 0v10M17.5 0v4m0 1v7M18.5 0v10m0 1v1M19.5 0v10m0 2v1M20.5 0v11M21.5 0v10M22.5 0v9M23.5 0v11M24.5 0v2m0 1v7m0 1v1M25.5 0v10M26.5 0v11M27.5 0v8m0 4v2M28.5 0v8m0 1v1m0 1v2M29.5 1v9M30.5 0v12M31.5 0v9m0 2v2M32.5 0v2m0 1v7M33.5 1v6m0 4v2M34.5 0v11m0 1v1M35.5 0v13M36.5 1v9M37.5 1v8m0 1v1M38.5 0v13M39.5 0v11m0 1v2M40.5 0v6m0 2v2M41.5 0v4m0 2v3M42.5 0v13M43.5 0v2m0 3v3M44.5 0v12M45.5 0v9M46.5 0v5m0 1v1m0 1v2m0 2v1M47.5 0v10"/><path stroke="#20d020" stroke-width="1" fill="none" d="M0.5 5v2m0 2v2M1.5 13v2M2.5 12v3M3.5 13v2M4.5 12v4M5.5 14v1M6.5 13v2M7.5 5v1M8.5 13v2M9.5 9v2m0 2v3M10.5 13v2M11.5 13v3M12.5 10v5M13.5 11v5M15.5 12v2m0 1v2M16.5 10v2m0 2v2M17.5 14v2M18.5 10v1m0 3v2M19.5 13v2M20.5 11v5M21.5 14v1M22.5 9v4m0 1v3M23.5 13v2M24.5 10v1m0 3v2M25.5 12v4M26.5 11v1m0 2v2M27.5 10v1m0 3v2M28.5 8v1m0 1v1m0 2v2M29.5 0v1m0 9v1m0 2v3M30.5 14v2M32.5 13v2M33.5 13v2M34.5 11v1M36.5 10v1m0 2v2M37.5 11v2m0 2v1M38.5 13v4M39.5 11v1m0 2v2M40.5 6v2m0 3v2M41.5 12v3M42.5 15v2M43.5 12v4M44.5 12v1M45.5 13v2M46.5 13v2M47.5 10v6"/><path stroke="#0a5a0a" stroke-width="1" fill="none" d="M0.5 12v1M2.5 3v2m0 5v2M3.5 11v2M5.5 10v2M6.5 10v2M7.5 12v1M9.5 11v2M11.5 10v1M12.5 4v1M15.5 3v1m0 5v3M16.5 12v2M17.5 4v1m0 7v2M18.5 12v2M19.5 10v2M21.5 10v4M23.5 11v2M24.5 2v1m0 9v2M25.5 10v2M26.5 12v2M27.5 8v2m0 1v1M29.5 11v2M30.5 12v2M31.5 9v2M32.5 2v1m0 7v3M33.5 0v1m0 6v4M36.5 0v1m0 10v2M37.5 0v1m0 8v1M40.5 10v1M41.5 4v2m0 3v3M43.5 2v3m0 3v4M45.5 9v4M46.5 5v1m0 1v1m0 2v2"/><path stroke="#ff0010" stroke-width="1" fill="none" d="M0.5 13v2m0 1v1M2.5 15v2M3.5 15v2M4.5 16v1M5.5 15v2M6.5 15v2M7.5 13v2M8.5 15v2M9.5 16v1M10.5 15v2M11.5 16v1M12.5 15v2M14.5 13v1m0 2v1M16.5 16v1M17.5 16v1M18.5 16v1M19.5 15v2M20.5 16v1M21.5 15v2M23.5 15v2M24.5 16v1M25.5 16v1M26.5 16v1M27.5 16v1M28.5 16v1M29.5 16v1M31.5 13v2M33.5 15v2M34.5 13v4M35.5 15v2M37.5 13v2M39.5 16v1M40.5 13v3M43.5 16v1M45.5 15v2M46.5 15v2M47.5 16v1"/><path stroke="#8c00ff" stroke-width="1" fill="none" d="M0.5 15v1M1.5 15v2M41.5 15v2M44.5 15v2"/><path stroke="#b05000" stroke-width="1" fill="none" d="M7.5 15v2M13.5 16v1M28.5 15v1M30.5 16v1M31.5 15v2M32.5 15v2M36.5 15v2M37.5 16v1M40.5 16v1"/><path stroke="#60ff30" stroke-width="1" fill="none" d="M14.5 14v2M15.5 14v1M22.5 13v1M35.5 13v2M42.5 13v2M44.5 13v2"/></pattern><pattern id="p18" x="0" y="677" width="48" height="14" patternUnits="userSpaceOnUse"><path stroke="#ff0010" stroke-width="1" fill="none" d="M0.5 0v2M2.5 0v2M3.5 0v4M4.5 0v2M5.5 2v1M7.5 0v2m0 1v1M8.5 0v2M9.5 0v2M11.5 0v2M12.5 0v2m0 2v1M14.5 0v2m0 1v1M15.5 0v1M16.5 3v1M18.5 0v2M19.5 0v2M21.5 0v2M22.5 0v1M24.5 4v1M27.5 4v1M28.5 0v1M29.5 4v1M32.5 2v2M33.5 3v2M34.5 0v2M36.5 0v2M40.5 0v2M42.5 0v4M43.5 0v2M44.5 0v1M46.5 0v1"/><path stroke="#20d020" stroke-width="1" fill="none" d="M0.5 2v3M1.5 7v1M2.5 4v1m0 1v1M4.5 2v3M5.5 0v2m0 2v1m0 8v1M6.5 0v4M7.5 2v1M8.5 3v2M9.5 2v3M10.5 0v4m0 1v2M11.5 4v1M12.5 2v2M13.5 0v4M14.5 2v1M15.5 1v4M16.5 0v3M17.5 0v5M18.5 2v3M19.5 2v2M20.5 0v3m0 10v1M21.5 2v2M22.5 1v2m0 6v2m0 1v1M23.5 0v2M24.5 0v1M25.5 4v1m0 4v2M26.5 2v2M27.5 0v1m0 2v1M28.5 1v4M29.5 0v2M30.5 0v2M31.5 2v4m0 4v1M32.5 0v2M33.5 0v3M34.5 3v1M35.5 0v5m0 4v1M37.5 0v1m0 4v1M38.5 0v3M39.5 0v3M40.5 2v2M41.5 0v2M43.5 2v2M44.5 1v2M45.5 1v3m0 9v1M46.5 1v2M47.5 0v4m0 4v1"/><path stroke="#0a5a0a" stroke-width="1" fill="none" d="M0.5 5v6m0 2v1M1.5 0v1m0 2v1m0 2v1m0 1v6M2.5 2v2m0 1v1m0 1v7M3.5 4v3m0 1v3m0 2v1M4.5 5v4m0 1v4M5.5 7v3m0 2v1M6.5 4v2m0 4v4M7.5 6v5m0 1v2M8.5 2v1m0 2v1m0 4v4M9.5 5v3m0 2v4M10.5 4v1m0 2v7M11.5 2v2m0 1v2m0 4v3M12.5 5v1m0 1v5m0 1v1M13.5 4v2m0 1v1m0 2v3M14.5 6v6m0 1v1M15.5 5v9M16.5 4v5m0 2v3M17.5 6v8M18.5 5v6m0 2v1M19.5 4v4m0 1v2m0 2v1M20.5 3v4m0 2v2M21.5 4v4m0 1v4M22.5 3v5M23.5 2v8m0 1v3M24.5 1v3m0 1v9M25.5 0v4m0 1v4M26.5 0v2m0 6v3m0 2v1M27.5 1v2m0 2v2m0 1v3m0 1v1M28.5 5v3m0 2v4M29.5 2v2m0 1v3m0 3v3M30.5 2v4m0 1v7M31.5 0v2m0 4v1m0 4v3M32.5 4v2m0 1v6M33.5 5v3m0 2v1M34.5 2v1m0 1v5m0 2v1m0 1v1M35.5 5v3m0 2v4M36.5 2v4m0 4v4M37.5 1v2m0 3v4m0 1v3M38.5 3v8m0 2v1M39.5 4v2m0 3v2m0 1v2M40.5 4v7m0 1v2M41.5 4v4m0 3v3M42.5 4v5m0 2v3M43.5 4v1m0 2v5M44.5 3v11M45.5 0v1m0 5v2m0 2v3M46.5 3v3m0 1v7M47.5 7v1m0 1v5"/><path stroke="#0a7a0a" stroke-width="1" fill="none" d="M0.5 11v2M4.5 9v1M5.5 10v2M6.5 6v3M7.5 4v2m0 5v1M8.5 6v2M9.5 8v2M11.5 9v2M12.5 12v1M13.5 6v1m0 6v1M14.5 4v2m0 6v1M16.5 9v2M17.5 5v1M19.5 11v2M20.5 7v2m0 2v2M21.5 8v1m0 4v1M22.5 8v1m0 2v1m0 1v1M25.5 11v2M26.5 4v4m0 3v1M27.5 7v1m0 3v1m0 1v1M29.5 8v1M30.5 6v1M32.5 6v1m0 6v1M33.5 11v3M34.5 9v2m0 1v1M36.5 8v2M37.5 10v1M38.5 11v2M39.5 6v1m0 4v1M40.5 11v1M41.5 9v2M42.5 9v2M43.5 5v2m0 5v2M45.5 4v2m0 2v2M47.5 6v1"/><path stroke="#000" stroke-width="1" fill="none" d="M1.5 1v2m0 1v2M3.5 7v1m0 3v2M5.5 3v1m0 1v2M6.5 9v1M8.5 8v2M11.5 7v2M12.5 6v1M13.5 8v2M18.5 11v2M19.5 8v1M23.5 10v1M25.5 13v1M26.5 12v1M28.5 8v2M29.5 9v2M31.5 7v3M33.5 8v2M35.5 8v1M36.5 6v2M37.5 3v2M39.5 3v1m0 3v2M41.5 2v2m0 4v1M46.5 6v1M47.5 4v2"/></pattern><pattern id="p19" x="0" y="677" width="48" height="14" patternUnits="userSpaceOnUse"><path stroke="#0a5a0a" stroke-width="1" fill="none" d="M0.5 0v1m0 3v1M3.5 2v2m0 8v2M4.5 3v2m0 7v1M6.5 2v2M7.5 7v2m0 1v1M9.5 0v2m0 9v3M10.5 5v1M12.5 2v1M13.5 5v1M15.5 9v2m0 2v1M16.5 2v2m0 2v1M17.5 4v2M18.5 0v1M19.5 2v2m0 4v1M20.5 2v1m0 9v2M21.5 2v1m0 4v2M22.5 2v2m0 1v2M25.5 3v1M26.5 2v3m0 8v1M27.5 1v1M28.5 1v1m0 4v2M29.5 12v1M30.5 0v1m0 4v2M31.5 0v2M32.5 0v2M33.5 1v2m0 1v1M34.5 3v1m0 9v1M36.5 4v1m0 2v1M37.5 3v3M40.5 13v1M41.5 5v2M42.5 6v3M43.5 2v1M45.5 2v1M47.5 0v1"/><path stroke="#20d020" stroke-width="1" fill="none" d="M0.5 1v2m0 8v3M1.5 3v2M2.5 0v5m0 4v3M4.5 2v1m0 2v1M5.5 1v2M6.5 0v2M7.5 2v2M8.5 0v5M9.5 3v2M10.5 0v3M11.5 0v2m0 2v1M12.5 1v1m0 1v2m0 3v2M13.5 0v5M14.5 0v2M15.5 1v1m0 1v4M16.5 0v2m0 2v2M17.5 0v4M18.5 2v2m0 2v2m0 3v2M19.5 0v2M20.5 0v2m0 1v2m0 4v1M21.5 3v2m0 8v1M22.5 0v1M23.5 3v2M24.5 2v2M25.5 2v1M26.5 1v1M27.5 2v3M28.5 0v1m0 1v2M29.5 2v2m0 7v1M31.5 2v2M32.5 2v1M33.5 0v1M34.5 0v3M35.5 2v3m0 4v1M36.5 0v1m0 2v1M37.5 0v2m0 8v1M38.5 2v2M39.5 4v1M40.5 2v1M41.5 2v2m0 9v1M43.5 0v2m0 1v2M44.5 2v2m0 2v1M45.5 0v2m0 1v2M46.5 0v3m0 1v1M47.5 1v4m0 1v1"/><path stroke="#000" stroke-width="1" fill="none" d="M0.5 3v1m0 1v6M1.5 1v2m0 2v9M2.5 5v4m0 3v2M3.5 4v8M4.5 6v6m0 1v1M5.5 3v11M6.5 4v10M7.5 4v3m0 2v1m0 1v3M8.5 5v9M9.5 2v1m0 2v6M10.5 3v2m0 1v8M11.5 2v2m0 1v9M12.5 5v3m0 2v4M13.5 6v8M14.5 2v12M15.5 2v1m0 4v2m0 2v2M16.5 7v7M17.5 6v8M18.5 4v2m0 2v3m0 2v1M19.5 4v4m0 1v5M20.5 5v4m0 1v2M21.5 5v2m0 2v4M22.5 4v1m0 2v7M23.5 2v1m0 2v9M24.5 4v10M25.5 4v10M26.5 5v8M27.5 5v9M28.5 4v2m0 2v6M29.5 4v7m0 2v1M30.5 2v3m0 2v7M31.5 4v10M32.5 3v11M33.5 3v1m0 1v9M34.5 4v9M35.5 5v4m0 1v4M36.5 1v2m0 2v2m0 1v6M37.5 2v1m0 3v4m0 1v3M38.5 4v10M39.5 2v2m0 1v9M40.5 3v10M41.5 4v1m0 2v6M42.5 2v4m0 3v5M43.5 5v9M44.5 4v2m0 1v7M45.5 5v9M46.5 3v1m0 1v9M47.5 5v1m0 1v7"/><path stroke="#ff0010" stroke-width="1" fill="none" d="M1.5 0v1M3.5 0v2M4.5 0v2M5.5 0v1M7.5 0v2M12.5 0v1M15.5 0v1M18.5 1v1M21.5 0v2M22.5 1v1M23.5 0v2M24.5 0v2M25.5 0v2M26.5 0v1M27.5 0v1M29.5 0v2M30.5 1v1M35.5 0v2M38.5 0v2M39.5 0v2M40.5 0v2M41.5 0v2M42.5 0v2M44.5 0v2"/></pattern><pattern id="p20" x="0" y="0" width="44" height="60" patternUnits="userSpaceOnUse"><path stroke="#ffffff" stroke-width="1" fill="none" d="M0.5 3v3M1.5 31v3m0 3v2M3.5 15v3m0 15v3M5.5 49v2M7.5 38v3M9.5 44v2M11.5 10v3M12.5 8v3m0 23v2M14.5 28v2M18.5 22v3m0 22v3M19.5 0v2m0 28v2m0 13v3M20.5 17v2M21.5 50v5M22.5 23v3m0 26v3M23.5 6v2m0 6v2m0 15v2m0 12v3M24.5 4v2M27.5 47v3M31.5 5v2M35.5 14v3M36.5 16v5M39.5 47v2m0 5v2M41.5 17v2M42.5 4v2"/><path stroke="#b800b8" stroke-width="1" fill="none" d="M1.5 19v3m0 12v3M10.5 39v2M15.5 46v3M17.5 51v2M21.5 8v2M39.5 4v2m0 32v3"/><path stroke="#8c00ff" stroke-width="1" fill="none" d="M6.5 14v2M22.5 59v1M26.5 20v3M28.5 47v2M29.5 14v3M38.5 24v2M39.5 8v2M41.5 19v2"/></pattern><pattern id="p21" x="0" y="0" width="44" height="60" patternUnits="userSpaceOnUse"><path stroke="#ff0020" stroke-width="1" fill="none" d="M0.5 5v4M1.5 7v3m0 10v2m0 2v5M2.5 31v3m0 23v3M3.5 57v3M4.5 55v3M5.5 0v6M6.5 15v3m0 21v2m0 2v5m0 6v2M7.5 43v3m0 11v3M8.5 5v2m0 15v3m0 13v3M9.5 13v2m0 30v3M10.5 27v2m0 7v2m0 2v2M11.5 3v2m0 25v3m0 18v2M12.5 16v3m0 9v4M13.5 40v2m0 3v2M14.5 24v3m0 21v3M15.5 8v2m0 41v3M16.5 3v2m0 4v3m0 3v2m0 17v3M18.5 33v2m0 7v2M19.5 3v2M20.5 0v3M21.5 25v3m0 20v5m0 6v1M22.5 17v2m0 15v4m0 16v3m0 2v1M23.5 29v3m0 3v3m0 19v3M24.5 20v2m0 14v2M25.5 57v3M26.5 9v3m0 9v3m0 24v2M28.5 11v3M29.5 25v2m0 5v8m0 4v3M31.5 8v2m0 29v2m0 3v2M32.5 21v3M33.5 17v3m0 28v2m0 6v4M34.5 0v3m0 42v3m0 10v2M35.5 59v1M36.5 31v2m0 21v3M37.5 10v5m0 5v2m0 2v6M39.5 5v3m0 15v2m0 7v2m0 7v2M40.5 24v2m0 11v3m0 18v2M41.5 0v3m0 7v2m0 29v2M42.5 28v2m0 26v3M43.5 6v2m0 42v3"/><path stroke="#b800b8" stroke-width="1" fill="none" d="M0.5 27v3m0 14v3M4.5 9v2M5.5 44v3m0 12v1M6.5 2v2M8.5 7v2m0 50v1M12.5 24v2M15.5 12v2M17.5 44v3M20.5 3v3M27.5 39v2m0 12v3M32.5 47v2M33.5 33v3M34.5 39v3M38.5 48v3M39.5 18v2m0 27v2M40.5 32v3M43.5 23v3m0 8v3"/><path stroke="#ffffff" stroke-width="1" fill="none" d="M10.5 10v3M16.5 48v3M23.5 40v2M28.5 58v2M32.5 51v2M39.5 37v2"/></pattern><pattern id="p22" x="0" y="0" width="44" height="60" patternUnits="userSpaceOnUse"><path stroke="#ff0020" stroke-width="1" fill="none" d="M0.5 2v6m0 7v2m0 12v2m0 19v6M1.5 2v2m0 6v2m0 2v3m0 8v3m0 24v3M2.5 7v2m0 10v3m0 6v2m0 20v2M3.5 6v3m0 5v3m0 34v2M4.5 12v3M5.5 0v3m0 24v6m0 2v2M6.5 20v3m0 3v3m0 2v3m0 2v2M7.5 31v2m0 10v3M8.5 7v3m0 14v2m0 3v2m0 17v10M9.5 22v2m0 19v2m0 3v3M10.5 16v3M11.5 13v3m0 15v3m0 3v6m0 16v1M12.5 5v2m0 10v2m0 8v5M13.5 34v3M14.5 11v2m0 13v4m0 14v2m0 5v3M15.5 4v3m0 15v2m0 7v2m0 3v5m0 9v2M16.5 34v2m0 5v3M17.5 15v6m0 19v2M18.5 20v2m0 3v2m0 8v3M19.5 6v2m0 2v3m0 12v4M20.5 33v2m0 19v2M21.5 36v3m0 8v2m0 8v3M22.5 15v7m0 35v3M23.5 22v5M24.5 0v3m0 8v3m0 8v2m0 33v3M25.5 47v3m0 2v3m0 4v1M26.5 23v2m0 22v2m0 7v3M27.5 32v3m0 12v2m0 3v2m0 2v3M28.5 20v5m0 2v2m0 13v3m0 3v4M29.5 35v3M30.5 42v3M31.5 33v2m0 24v1M32.5 28v2m0 7v3m0 3v2M33.5 8v3m0 5v3m0 16v3m0 9v2M34.5 25v2m0 11v3m0 13v5M35.5 8v3m0 5v3m0 6v3m0 19v2M36.5 12v3m0 9v2m0 2v3M37.5 4v6M38.5 0v2m0 4v2m0 34v3m0 11v2M39.5 12v3m0 15v3M40.5 50v3M41.5 3v2m0 4v2m0 15v3m0 5v3m0 13v3M42.5 0v3m0 23v3m0 8v2m0 11v2M43.5 5v2m0 9v3m0 14v3m0 15v2m0 5v2"/><path stroke="#8c00ff" stroke-width="1" fill="none" d="M0.5 17v2M1.5 58v2M5.5 22v5M6.5 29v2m0 12v2M8.5 31v3M10.5 0v3m0 10v3m0 25v3m0 6v3M11.5 20v2m0 4v3M12.5 57v2M13.5 13v3M16.5 10v2m0 38v3M17.5 3v2m0 19v2M22.5 26v2M23.5 35v3m0 5v2M29.5 52v3M30.5 19v3M31.5 10v3M33.5 23v3m0 29v2M36.5 37v2M39.5 5v2m0 10v2m0 33v2M42.5 3v3"/><path stroke="#b800b8" stroke-width="1" fill="none" d="M1.5 55v3M3.5 22v3M5.5 3v2M9.5 45v3M11.5 8v2m0 14v2M13.5 40v3M14.5 59v1M15.5 45v2M19.5 35v3M21.5 22v2M23.5 16v3M25.5 0v3m0 10v2m0 35v2M27.5 30v2m0 5v3M28.5 10v3M30.5 58v2M32.5 8v2M33.5 26v2m0 2v2M34.5 22v3m0 7v2M35.5 58v2M36.5 20v2M37.5 37v2M39.5 39v2M41.5 58v2M42.5 16v3m0 36v2M43.5 19v3m0 4v3"/><path stroke="#ffffff" stroke-width="1" fill="none" d="M2.5 30v3m0 12v2m0 8v3M3.5 34v2M12.5 3v2m0 9v3m0 8v2M13.5 31v3M14.5 0v2m0 21v3M16.5 55v3M17.5 53v2M19.5 18v3M21.5 54v3M22.5 44v3M26.5 27v2m0 20v3M29.5 33v2M38.5 12v2M39.5 7v2"/></pattern><pattern id="p23" x="0" y="605.8" width="50" height="5" patternUnits="userSpaceOnUse"><path stroke="#ff0010" stroke-width="1" fill="none" d="M0.5 0v1M2.5 3v1M5.5 1v1M6.5 3v1M8.5 1v1M10.5 2v2M13.5 1v1M17.5 1v1M19.5 0v1M20.5 4v1M21.5 1v1M24.5 1v1M25.5 0v1m0 2v1M26.5 1v1M27.5 1v1M29.5 1v1M30.5 0v1M32.5 4v1M35.5 0v2m0 1v1M36.5 3v2M37.5 4v1M38.5 0v1M43.5 4v1M44.5 1v1m0 1v1M45.5 0v2M46.5 0v1M47.5 1v1M49.5 1v1m0 2v1"/><path stroke="#c000ff" stroke-width="1" fill="none" d="M0.5 3v1M1.5 1v1m0 1v2M2.5 4v1M3.5 0v2M4.5 0v1M6.5 0v2m0 2v1M7.5 1v1M8.5 2v1m0 1v1M10.5 4v1M11.5 4v1M12.5 0v1M13.5 0v1m0 1v2M15.5 2v2M17.5 0v1M19.5 1v2M20.5 1v1m0 1v1M22.5 1v1M23.5 0v1m0 2v1M24.5 4v1M27.5 2v1M28.5 0v1m0 2v1M29.5 3v1M31.5 1v1m0 2v1M32.5 0v2M33.5 0v1M34.5 1v1M37.5 0v2M38.5 2v1M39.5 0v1M41.5 2v1M42.5 2v1M43.5 0v1M44.5 0v1M45.5 3v2M46.5 2v3M47.5 3v1M48.5 0v1m0 3v1M49.5 3v1"/><path stroke="#ffffff" stroke-width="1" fill="none" d="M1.5 2v1M4.5 2v1M9.5 2v1M18.5 2v1M47.5 2v1"/></pattern><pattern id="p24" x="0" y="620.6" width="50" height="6" patternUnits="userSpaceOnUse"><path stroke="#ff0010" stroke-width="1" fill="none" d="M0.5 0v1M1.5 0v2M2.5 0v2m0 3v1M3.5 4v1M7.5 1v1M10.5 1v1m0 3v1M11.5 0v2M12.5 1v1M13.5 1v1m0 2v1M14.5 1v1M16.5 1v1M17.5 1v1M19.5 1v1M21.5 0v1m0 3v1M22.5 1v1m0 2v1M25.5 5v1M28.5 0v1M29.5 1v1m0 2v1M30.5 0v1m0 3v1M31.5 5v1M33.5 0v1M34.5 1v1M35.5 5v1M36.5 4v1M39.5 1v1M40.5 4v1M41.5 1v1M42.5 1v1M43.5 0v1M45.5 4v1M46.5 5v1M47.5 0v2M48.5 0v1M49.5 5v1"/><path stroke="#ffffff" stroke-width="1" fill="none" d="M0.5 2v2M1.5 2v2M2.5 2v2M3.5 2v2M5.5 2v2M6.5 2v2M7.5 2v1M8.5 2v2M9.5 2v2M10.5 2v2M11.5 2v2M12.5 2v2M13.5 2v2M14.5 2v2M15.5 2v2M16.5 2v2M17.5 2v2M18.5 2v2M19.5 2v2M20.5 2v2M21.5 2v2M22.5 2v1M23.5 2v2M24.5 2v1M26.5 2v2M27.5 2v2M28.5 3v1M29.5 2v2M30.5 2v2M31.5 2v2M32.5 2v2M33.5 2v2M34.5 2v2M35.5 2v2M36.5 2v2M37.5 2v2M39.5 2v2M40.5 3v1M41.5 2v2M42.5 2v2M44.5 2v2M45.5 2v2M46.5 3v1M47.5 2v1M48.5 2v2M49.5 2v2"/><path stroke="#c0a0ff" stroke-width="1" fill="none" d="M4.5 2v2M7.5 3v1M22.5 3v1M24.5 3v1M25.5 2v2M28.5 2v1M38.5 2v2M40.5 2v1M43.5 2v2M46.5 2v1M47.5 3v1"/></pattern></defs><rect x="230.50" y="71.00" width="8.80" height="59.00" fill="url(#g2)" /><rect x="230.50" y="72.50" width="8.80" height="57.50" fill="url(#p4)" /><rect x="239.30" y="71.00" width="7.70" height="59.00" fill="#000" /><rect x="247.00" y="71.00" width="25.00" height="59.00" fill="url(#g1)" /><rect x="247.00" y="72.50" width="25.00" height="57.50" fill="url(#p4)" /><rect x="272.00" y="71.00" width="1.00" height="59.00" fill="#000" /><rect x="273.00" y="71.00" width="1.00" height="59.00" fill="#ff3000" /><rect x="274.00" y="71.00" width="1.00" height="59.00" fill="#000" /><rect x="275.00" y="71.00" width="38.00" height="59.00" fill="url(#g2)" /><rect x="275.00" y="72.50" width="38.00" height="57.50" fill="url(#p4)" /><rect x="313.00" y="71.00" width="8.00" height="59.00" fill="#000" /><rect x="321.00" y="71.00" width="1.00" height="59.00" fill="#2020ff" /><rect x="322.00" y="71.00" width="7.00" height="59.00" fill="#000" /><rect x="329.00" y="71.00" width="5.00" height="59.00" fill="url(#g2)" /><rect x="329.00" y="72.50" width="5.00" height="57.50" fill="url(#p4)" /><rect x="334.00" y="71.00" width="7.00" height="59.00" fill="#000" /><rect x="341.00" y="71.00" width="1.00" height="59.00" fill="#ff6000" /><rect x="342.00" y="71.00" width="8.00" height="59.00" fill="#000" /><rect x="350.00" y="71.00" width="7.50" height="59.00" fill="url(#g4)" /><rect x="350.00" y="72.50" width="7.50" height="57.50" fill="url(#p4)" /><rect x="357.50" y="71.00" width="15.00" height="59.00" fill="#000" /><rect x="372.50" y="71.00" width="43.50" height="59.00" fill="url(#p2)" /><rect x="375.50" y="75.00" width="27.00" height="48.00" fill="url(#p1)" /><rect x="372.50" y="71.00" width="43.50" height="59.00" fill="url(#g3)" /><rect x="394.25" y="71.00" width="21.75" height="59.00" fill="url(#g5)" /><rect x="413.00" y="71.00" width="3.00" height="59.00" fill="url(#g6)" /><rect x="416.00" y="71.00" width="8.00" height="59.00" fill="#000" /><rect x="424.00" y="71.00" width="18.00" height="59.00" fill="url(#g2)" /><rect x="424.00" y="72.50" width="18.00" height="57.50" fill="url(#p4)" /><rect x="442.00" y="71.00" width="8.00" height="59.00" fill="#000" /><rect x="450.00" y="71.00" width="63.00" height="59.00" fill="url(#g2)" /><rect x="450.00" y="72.50" width="63.00" height="57.50" fill="url(#p4)" /><rect x="513.00" y="71.00" width="8.00" height="59.00" fill="#000" /><rect x="521.00" y="71.00" width="16.00" height="59.00" fill="url(#g2)" /><rect x="521.00" y="72.50" width="16.00" height="57.50" fill="url(#p4)" /><rect x="537.00" y="71.00" width="14.00" height="59.00" fill="#000" /><rect x="551.00" y="71.00" width="5.00" height="59.00" fill="url(#g7)" /><rect x="556.00" y="71.00" width="24.00" height="59.00" fill="#000" /><rect x="580.00" y="71.00" width="39.00" height="59.00" fill="url(#p2)" /><rect x="583.00" y="75.00" width="27.00" height="48.00" fill="url(#p1)" /><rect x="580.00" y="71.00" width="39.00" height="59.00" fill="url(#g3)" /><rect x="599.50" y="71.00" width="19.50" height="59.00" fill="url(#g8)" /><rect x="616.00" y="71.00" width="3.00" height="59.00" fill="url(#g9)" /><rect x="312.00" y="72.50" width="1.30" height="56.50" fill="#4818c0" /><ellipse cx="282" cy="84" rx="9" ry="13" fill="url(#g10)" /><ellipse cx="283.5" cy="95" rx="11" ry="7.5" fill="url(#g11)" /><g clip-path="url(#clipA)"><ellipse cx="500" cy="93.42" rx="45" ry="22" fill="url(#g12)" /><ellipse cx="506" cy="97.55" rx="30" ry="9" fill="url(#g13)" /><ellipse cx="529" cy="97.55" rx="10" ry="6" fill="url(#g14)" /><ellipse cx="500" cy="97.55" rx="19" ry="5.5" fill="none" stroke="#c0b000" stroke-width="1.6" opacity="0.55"/></g><rect x="230.50" y="396.00" width="8.80" height="58.80" fill="url(#g15)" /><rect x="230.50" y="397.50" width="8.80" height="57.30" fill="url(#p4)" /><rect x="239.30" y="396.00" width="7.70" height="58.80" fill="#000" /><rect x="247.00" y="396.00" width="25.00" height="58.80" fill="url(#g15)" /><rect x="247.00" y="397.50" width="25.00" height="57.30" fill="url(#p4)" /><rect x="272.00" y="396.00" width="1.00" height="58.80" fill="#000" /><rect x="273.00" y="396.00" width="1.00" height="58.80" fill="#ff3000" /><rect x="274.00" y="396.00" width="1.00" height="58.80" fill="#000" /><rect x="275.00" y="396.00" width="38.00" height="58.80" fill="url(#g16)" /><rect x="275.00" y="397.50" width="38.00" height="57.30" fill="url(#p4)" /><rect x="313.00" y="396.00" width="8.00" height="58.80" fill="#000" /><rect x="321.00" y="396.00" width="1.00" height="58.80" fill="#000" /><rect x="322.00" y="396.00" width="7.00" height="58.80" fill="#000" /><rect x="329.00" y="396.00" width="5.00" height="58.80" fill="url(#g16)" /><rect x="329.00" y="397.50" width="5.00" height="57.30" fill="url(#p4)" /><rect x="334.00" y="396.00" width="7.00" height="58.80" fill="#000" /><rect x="341.00" y="396.00" width="1.00" height="58.80" fill="#ff2000" /><rect x="342.00" y="396.00" width="8.00" height="58.80" fill="#000" /><rect x="350.00" y="396.00" width="7.50" height="58.80" fill="url(#g18)" /><rect x="350.00" y="397.50" width="7.50" height="57.30" fill="url(#p4)" /><rect x="357.50" y="396.00" width="1.50" height="58.80" fill="#1010ff" /><rect x="357.50" y="396.00" width="15.00" height="58.80" fill="#000" /><rect x="372.50" y="396.00" width="43.50" height="58.80" fill="url(#p3)" /><rect x="372.50" y="396.00" width="43.50" height="58.80" fill="url(#g17)" /><rect x="394.25" y="396.00" width="21.75" height="58.80" fill="url(#g19)" /><rect x="413.00" y="396.00" width="3.00" height="58.80" fill="url(#g20)" /><rect x="416.00" y="396.00" width="8.00" height="58.80" fill="#000" /><rect x="424.00" y="396.00" width="18.00" height="58.80" fill="url(#g16)" /><rect x="424.00" y="397.50" width="18.00" height="57.30" fill="url(#p4)" /><rect x="442.00" y="396.00" width="8.00" height="58.80" fill="#000" /><rect x="450.00" y="396.00" width="63.00" height="58.80" fill="url(#g16)" /><rect x="450.00" y="397.50" width="63.00" height="57.30" fill="url(#p4)" /><rect x="513.00" y="396.00" width="8.00" height="58.80" fill="#000" /><rect x="521.00" y="396.00" width="16.00" height="58.80" fill="url(#g16)" /><rect x="521.00" y="397.50" width="16.00" height="57.30" fill="url(#p4)" /><rect x="537.00" y="396.00" width="14.00" height="58.80" fill="#000" /><rect x="551.00" y="396.00" width="5.00" height="58.80" fill="url(#g21)" /><rect x="556.00" y="396.00" width="24.00" height="58.80" fill="#000" /><rect x="580.00" y="396.00" width="39.00" height="58.80" fill="url(#p3)" /><rect x="580.00" y="396.00" width="39.00" height="58.80" fill="url(#g17)" /><rect x="599.50" y="396.00" width="19.50" height="58.80" fill="url(#g22)" /><rect x="616.00" y="396.00" width="3.00" height="58.80" fill="url(#g23)" /><rect x="312.00" y="397.50" width="1.30" height="56.30" fill="#4818c0" /><ellipse cx="283" cy="432.456" rx="9" ry="6" fill="url(#g24)" /><ellipse cx="283" cy="416.58" rx="8" ry="8" fill="url(#g25)" /><ellipse cx="433" cy="431.28000000000003" rx="12" ry="5" fill="url(#g26)" /><g clip-path="url(#clipB)"><ellipse cx="514" cy="424" rx="44" ry="48" fill="url(#g27)" /><ellipse cx="508" cy="425" rx="34" ry="19" fill="url(#g28)" /><ellipse cx="507" cy="416.5" rx="30" ry="4.8" fill="#c8c000" /><ellipse cx="507" cy="416.5" rx="27" ry="3.4" fill="#ffff30" /><ellipse cx="505" cy="431.5" rx="32" ry="6.5" fill="#c8c000" /><ellipse cx="505" cy="431.5" rx="29" ry="5.2" fill="#ffff40" /><ellipse cx="500" cy="431.5" rx="20" ry="3.4" fill="url(#g29)" /></g><rect x="230.50" y="133.00" width="8.80" height="16.00" fill="url(#p7)" /><rect x="230.50" y="149.00" width="8.80" height="203.00" fill="url(#p5)" /><rect x="230.50" y="352.00" width="8.80" height="15.70" fill="url(#p8)" /><rect x="239.30" y="133.00" width="7.70" height="234.70" fill="#000" /><rect x="247.00" y="133.00" width="25.00" height="16.00" fill="url(#p6)" /><rect x="247.00" y="149.00" width="25.00" height="203.00" fill="url(#p5)" /><rect x="247.00" y="352.00" width="25.00" height="15.70" fill="url(#p8)" /><rect x="267.00" y="133.00" width="5.00" height="9.00" fill="url(#p7)" /><rect x="267.00" y="359.00" width="5.00" height="8.70" fill="url(#p9)" /><rect x="272.00" y="133.00" width="1.00" height="234.70" fill="#000" /><rect x="273.00" y="133.00" width="1.00" height="234.70" fill="#c00040" /><rect x="274.00" y="133.00" width="1.00" height="234.70" fill="#000" /><rect x="275.00" y="133.00" width="38.00" height="16.00" fill="url(#p7)" /><rect x="275.00" y="149.00" width="38.00" height="203.00" fill="url(#p5)" /><rect x="275.00" y="352.00" width="38.00" height="15.70" fill="url(#p9)" /><rect x="313.00" y="133.00" width="8.00" height="234.70" fill="#000" /><rect x="320.20" y="133.00" width="1.00" height="234.70" fill="#d8006a" /><rect x="321.20" y="133.00" width="0.80" height="234.70" fill="#20d020" /><rect x="322.00" y="133.00" width="7.00" height="234.70" fill="#000" /><rect x="329.00" y="133.00" width="5.00" height="16.00" fill="url(#p7)" /><rect x="329.00" y="149.00" width="5.00" height="203.00" fill="url(#p5)" /><rect x="329.00" y="352.00" width="5.00" height="15.70" fill="url(#p9)" /><rect x="334.00" y="133.00" width="7.00" height="234.70" fill="#000" /><rect x="341.00" y="133.00" width="1.00" height="234.70" fill="#20d020" /><line x1="341.5" y1="133.0" x2="341.5" y2="367.7" stroke="#f01010" stroke-width="1" stroke-dasharray="3 2 5 3 2 4"/><rect x="342.00" y="133.00" width="8.00" height="234.70" fill="#000" /><rect x="350.00" y="133.00" width="7.50" height="234.70" fill="url(#p11)" /><rect x="357.50" y="133.00" width="15.00" height="234.70" fill="#000" /><rect x="416.00" y="133.00" width="8.00" height="234.70" fill="#000" /><rect x="424.00" y="133.00" width="18.00" height="16.00" fill="url(#p7)" /><rect x="424.00" y="149.00" width="18.00" height="203.00" fill="url(#p5)" /><rect x="424.00" y="352.00" width="18.00" height="15.70" fill="url(#p9)" /><rect x="442.00" y="133.00" width="8.00" height="234.70" fill="#000" /><rect x="450.00" y="133.00" width="63.00" height="16.00" fill="url(#p7)" /><rect x="450.00" y="149.00" width="63.00" height="203.00" fill="url(#p5)" /><rect x="450.00" y="352.00" width="63.00" height="15.70" fill="url(#p9)" /><rect x="513.00" y="133.00" width="8.00" height="234.70" fill="#000" /><rect x="521.00" y="133.00" width="16.00" height="16.00" fill="url(#p7)" /><rect x="521.00" y="149.00" width="16.00" height="203.00" fill="url(#p5)" /><rect x="521.00" y="352.00" width="16.00" height="15.70" fill="url(#p9)" /><rect x="537.00" y="133.00" width="14.00" height="234.70" fill="#000" /><rect x="551.00" y="133.00" width="5.00" height="234.70" fill="url(#p11)" /><rect x="556.00" y="133.00" width="24.00" height="234.70" fill="#000" /><rect x="333.00" y="149.00" width="1.00" height="205.00" fill="#20c020" /><rect x="247.00" y="238.00" width="66.00" height="30.00" fill="url(#p10)" /><rect x="230.50" y="240.00" width="8.80" height="22.00" fill="url(#p10)" /><rect x="424.00" y="240.00" width="18.00" height="26.00" fill="url(#p10)" /><rect x="450.00" y="240.00" width="34.00" height="26.00" fill="url(#p10)" /><rect x="521.00" y="244.00" width="16.00" height="18.00" fill="url(#p10)" /><rect x="372.50" y="133.00" width="1.50" height="234.70" fill="#20e000" /><rect x="374.00" y="133.00" width="4.00" height="234.70" fill="#ff0000" /><rect x="378.00" y="133.00" width="1.00" height="234.70" fill="#60b000" /><rect x="379.00" y="133.00" width="4.00" height="234.70" fill="#ff0000" /><rect x="383.00" y="133.00" width="1.50" height="234.70" fill="#80a000" /><rect x="384.50" y="133.00" width="0.50" height="234.70" fill="#ff0000" /><rect x="385.00" y="133.00" width="2.20" height="234.70" fill="#20e000" /><rect x="387.20" y="133.00" width="2.80" height="234.70" fill="#ff0000" /><rect x="390.00" y="133.00" width="2.80" height="234.70" fill="#20e000" /><rect x="392.80" y="133.00" width="1.20" height="234.70" fill="#ff0000" /><rect x="394.00" y="133.00" width="2.00" height="234.70" fill="#20e000" /><rect x="396.00" y="133.00" width="1.00" height="234.70" fill="#c04000" /><rect x="397.00" y="133.00" width="1.30" height="234.70" fill="#20e000" /><rect x="398.30" y="133.00" width="1.90" height="234.70" fill="#ff0000" /><rect x="400.20" y="133.00" width="2.80" height="234.70" fill="#80a000" /><rect x="403.00" y="133.00" width="3.00" height="234.70" fill="#40c000" /><rect x="406.00" y="133.00" width="1.00" height="234.70" fill="#80a000" /><rect x="407.00" y="133.00" width="3.00" height="234.70" fill="#40c000" /><rect x="410.00" y="133.00" width="1.00" height="234.70" fill="#20ff00" /><rect x="411.00" y="133.00" width="4.00" height="234.70" fill="#50b000" /><rect x="415.00" y="133.00" width="1.00" height="234.70" fill="#8000ff" /><rect x="580.00" y="133.00" width="1.00" height="234.70" fill="#e04000" /><rect x="581.00" y="133.00" width="2.00" height="234.70" fill="#ff0000" /><rect x="583.00" y="133.00" width="2.00" height="234.70" fill="#80a000" /><rect x="585.00" y="133.00" width="11.00" height="234.70" fill="#ff0000" /><rect x="596.00" y="133.00" width="1.00" height="234.70" fill="#a08000" /><rect x="597.00" y="133.00" width="6.00" height="234.70" fill="#ff0000" /><rect x="603.00" y="133.00" width="4.00" height="234.70" fill="#30d000" /><rect x="607.00" y="133.00" width="1.00" height="234.70" fill="#80a000" /><rect x="608.00" y="133.00" width="2.00" height="234.70" fill="#30d000" /><rect x="610.00" y="133.00" width="1.00" height="234.70" fill="#80a000" /><rect x="611.00" y="133.00" width="6.00" height="234.70" fill="#40c000" /><rect x="617.00" y="133.00" width="2.00" height="234.70" fill="#20f000" /><rect x="230.50" y="456.10" width="8.80" height="16.90" fill="url(#p16)" /><rect x="230.50" y="473.00" width="8.80" height="204.00" fill="#ff0010" /><rect x="230.50" y="473.00" width="8.80" height="204.00" fill="url(#p13)" /><rect x="230.50" y="473.00" width="8.80" height="204.00" fill="url(#p15)" /><rect x="230.50" y="677.00" width="8.80" height="13.50" fill="url(#p18)" /><rect x="239.30" y="456.10" width="7.70" height="234.40" fill="#000" /><rect x="247.00" y="456.10" width="25.00" height="16.90" fill="url(#p16)" /><rect x="247.00" y="473.00" width="25.00" height="204.00" fill="#ff0010" /><rect x="247.00" y="473.00" width="25.00" height="204.00" fill="url(#p13)" /><rect x="269.00" y="456.10" width="3.00" height="9.90" fill="url(#p17)" /><rect x="247.00" y="473.00" width="25.00" height="204.00" fill="url(#p15)" /><rect x="247.00" y="677.00" width="25.00" height="13.50" fill="url(#p18)" /><rect x="272.00" y="456.10" width="1.00" height="234.40" fill="#000" /><rect x="273.00" y="456.10" width="1.00" height="234.40" fill="#ff0020" /><rect x="274.00" y="456.10" width="1.00" height="234.40" fill="#000" /><rect x="275.00" y="456.10" width="38.00" height="16.90" fill="url(#p17)" /><rect x="275.00" y="473.00" width="38.00" height="204.00" fill="#ff0010" /><rect x="275.00" y="473.00" width="38.00" height="204.00" fill="url(#p13)" /><rect x="275.00" y="677.00" width="38.00" height="13.50" fill="url(#p19)" /><rect x="313.00" y="456.10" width="8.00" height="234.40" fill="#000" /><rect x="320.20" y="456.10" width="1.20" height="234.40" fill="#f01040" /><rect x="321.40" y="456.10" width="0.60" height="234.40" fill="#30c020" /><rect x="322.00" y="456.10" width="7.00" height="234.40" fill="#000" /><rect x="329.00" y="456.10" width="5.00" height="16.90" fill="url(#p17)" /><rect x="329.00" y="473.00" width="5.00" height="204.00" fill="#ff0010" /><rect x="329.00" y="473.00" width="5.00" height="204.00" fill="url(#p13)" /><rect x="329.00" y="677.00" width="5.00" height="13.50" fill="url(#p19)" /><rect x="334.00" y="456.10" width="7.00" height="234.40" fill="#000" /><rect x="341.00" y="456.10" width="1.00" height="234.40" fill="#f02010" /><line x1="341.5" y1="456.1" x2="341.5" y2="690.5" stroke="#30c020" stroke-width="1" stroke-dasharray="2 9 3 7 1 5"/><rect x="342.00" y="456.10" width="8.00" height="234.40" fill="#000" /><rect x="350.00" y="456.10" width="7.50" height="234.40" fill="url(#p12)" /><rect x="357.50" y="456.10" width="15.00" height="234.40" fill="#000" /><rect x="416.00" y="456.10" width="8.00" height="234.40" fill="#000" /><rect x="424.00" y="456.10" width="18.00" height="16.90" fill="url(#p17)" /><rect x="424.00" y="473.00" width="18.00" height="204.00" fill="#ff0010" /><rect x="424.00" y="473.00" width="18.00" height="204.00" fill="url(#p13)" /><rect x="424.00" y="677.00" width="18.00" height="13.50" fill="url(#p19)" /><rect x="442.00" y="456.10" width="8.00" height="234.40" fill="#000" /><rect x="450.00" y="456.10" width="63.00" height="16.90" fill="url(#p17)" /><rect x="450.00" y="473.00" width="63.00" height="204.00" fill="#ff0010" /><rect x="450.00" y="473.00" width="63.00" height="204.00" fill="url(#p13)" /><rect x="472.00" y="473.00" width="40.00" height="100.00" fill="url(#p14)" /><rect x="450.00" y="677.00" width="63.00" height="13.50" fill="url(#p19)" /><rect x="513.00" y="456.10" width="8.00" height="234.40" fill="#000" /><rect x="521.00" y="456.10" width="16.00" height="16.90" fill="url(#p17)" /><rect x="521.00" y="473.00" width="16.00" height="204.00" fill="#ff0010" /><rect x="521.00" y="473.00" width="16.00" height="204.00" fill="url(#p13)" /><rect x="521.00" y="677.00" width="16.00" height="13.50" fill="url(#p19)" /><rect x="537.00" y="456.10" width="14.00" height="234.40" fill="#000" /><rect x="551.00" y="456.10" width="5.00" height="234.40" fill="url(#p12)" /><rect x="556.00" y="456.10" width="24.00" height="234.40" fill="#000" /><rect x="372.50" y="456.10" width="1.50" height="234.40" fill="#20e000" /><rect x="374.00" y="456.10" width="2.00" height="234.40" fill="#40c000" /><rect x="376.00" y="456.10" width="2.00" height="234.40" fill="#80a000" /><rect x="378.00" y="456.10" width="3.00" height="234.40" fill="#20e000" /><rect x="381.00" y="456.10" width="1.00" height="234.40" fill="#c04000" /><rect x="382.00" y="456.10" width="3.00" height="234.40" fill="#80a000" /><rect x="385.00" y="456.10" width="3.00" height="234.40" fill="#40c000" /><rect x="388.00" y="456.10" width="2.00" height="234.40" fill="#20e000" /><rect x="390.00" y="456.10" width="2.00" height="234.40" fill="#80a000" /><rect x="392.00" y="456.10" width="3.00" height="234.40" fill="#60b000" /><rect x="395.00" y="456.10" width="2.00" height="234.40" fill="#20e000" /><rect x="397.00" y="456.10" width="3.00" height="234.40" fill="#20f000" /><rect x="400.00" y="456.10" width="3.00" height="234.40" fill="#30c000" /><rect x="403.00" y="456.10" width="2.00" height="234.40" fill="#20e000" /><rect x="405.00" y="456.10" width="3.00" height="234.40" fill="#30a000" /><rect x="408.00" y="456.10" width="3.00" height="234.40" fill="#20e000" /><rect x="411.00" y="456.10" width="4.00" height="234.40" fill="#30a000" /><rect x="415.00" y="456.10" width="1.00" height="234.40" fill="#ff2060" /><rect x="580.00" y="456.10" width="3.00" height="234.40" fill="#20e000" /><rect x="583.00" y="456.10" width="2.00" height="234.40" fill="#80a000" /><rect x="585.00" y="456.10" width="3.00" height="234.40" fill="#40c000" /><rect x="588.00" y="456.10" width="2.00" height="234.40" fill="#20e000" /><rect x="590.00" y="456.10" width="3.00" height="234.40" fill="#80a000" /><rect x="593.00" y="456.10" width="3.00" height="234.40" fill="#30c000" /><rect x="596.00" y="456.10" width="2.00" height="234.40" fill="#20e000" /><rect x="598.00" y="456.10" width="3.00" height="234.40" fill="#60b000" /><rect x="601.00" y="456.10" width="3.00" height="234.40" fill="#20e000" /><rect x="604.00" y="456.10" width="3.00" height="234.40" fill="#40c000" /><rect x="607.00" y="456.10" width="3.00" height="234.40" fill="#20f000" /><rect x="610.00" y="456.10" width="3.00" height="234.40" fill="#30a000" /><rect x="613.00" y="456.10" width="3.00" height="234.40" fill="#20e000" /><rect x="616.00" y="456.10" width="3.00" height="234.40" fill="#40c000" /><rect x="372.50" y="133.00" width="25.50" height="234.70" fill="url(#p20)" /><rect x="398.00" y="133.00" width="17.00" height="234.70" fill="url(#p21)" /><rect x="372.50" y="456.10" width="42.50" height="234.40" fill="url(#p22)" /><rect x="580.00" y="133.00" width="23.00" height="234.70" fill="url(#p20)" /><rect x="603.00" y="133.00" width="16.00" height="234.70" fill="url(#p21)" /><rect x="580.00" y="456.10" width="39.00" height="234.40" fill="url(#p22)" /><rect x="481.00" y="216.40" width="32.00" height="2.20" fill="#d8c0ff" /><rect x="521.00" y="216.40" width="16.00" height="2.40" fill="#d8c0ff" /><rect x="481.00" y="217.00" width="32.00" height="1.20" fill="#ffffff" /><rect x="521.00" y="217.00" width="16.00" height="1.20" fill="#ffffff" /><rect x="230.50" y="572.30" width="8.80" height="2.20" fill="#a000e0" opacity="0.45"/><rect x="230.50" y="604.80" width="8.80" height="7.20" fill="#9000ff" opacity="0.35"/><rect x="230.50" y="605.80" width="8.80" height="5.00" fill="#9000ff" /><rect x="230.50" y="605.80" width="8.80" height="5.00" fill="url(#p23)" /><rect x="230.50" y="619.50" width="8.80" height="8.00" fill="#9000ff" opacity="0.35"/><rect x="230.50" y="620.60" width="8.80" height="6.00" fill="#9000ff" /><rect x="230.50" y="620.60" width="8.80" height="6.00" fill="url(#p24)" /><rect x="247.00" y="572.30" width="25.00" height="2.20" fill="#a000e0" opacity="0.45"/><rect x="247.00" y="604.80" width="25.00" height="7.20" fill="#9000ff" opacity="0.35"/><rect x="247.00" y="605.80" width="25.00" height="5.00" fill="#9000ff" /><rect x="247.00" y="605.80" width="25.00" height="5.00" fill="url(#p23)" /><rect x="247.00" y="619.50" width="25.00" height="8.00" fill="#9000ff" opacity="0.35"/><rect x="247.00" y="620.60" width="25.00" height="6.00" fill="#9000ff" /><rect x="247.00" y="620.60" width="25.00" height="6.00" fill="url(#p24)" /><rect x="275.00" y="572.30" width="38.00" height="2.20" fill="#a000e0" opacity="0.45"/><rect x="275.00" y="604.80" width="38.00" height="7.20" fill="#9000ff" opacity="0.35"/><rect x="275.00" y="605.80" width="38.00" height="5.00" fill="#9000ff" /><rect x="275.00" y="605.80" width="38.00" height="5.00" fill="url(#p23)" /><rect x="275.00" y="619.50" width="38.00" height="8.00" fill="#9000ff" opacity="0.35"/><rect x="275.00" y="620.60" width="38.00" height="6.00" fill="#9000ff" /><rect x="275.00" y="620.60" width="38.00" height="6.00" fill="url(#p24)" /><rect x="424.00" y="572.30" width="18.00" height="2.20" fill="#a000e0" opacity="0.45"/><rect x="424.00" y="604.80" width="18.00" height="7.20" fill="#9000ff" opacity="0.35"/><rect x="424.00" y="605.80" width="18.00" height="5.00" fill="#9000ff" /><rect x="424.00" y="605.80" width="18.00" height="5.00" fill="url(#p23)" /><rect x="424.00" y="619.50" width="18.00" height="8.00" fill="#9000ff" opacity="0.35"/><rect x="424.00" y="620.60" width="18.00" height="6.00" fill="#9000ff" /><rect x="424.00" y="620.60" width="18.00" height="6.00" fill="url(#p24)" /><rect x="450.00" y="572.30" width="63.00" height="2.20" fill="#a000e0" opacity="0.45"/><rect x="450.00" y="604.80" width="63.00" height="7.20" fill="#9000ff" opacity="0.35"/><rect x="450.00" y="605.80" width="63.00" height="5.00" fill="#9000ff" /><rect x="450.00" y="605.80" width="63.00" height="5.00" fill="url(#p23)" /><rect x="450.00" y="619.50" width="63.00" height="8.00" fill="#9000ff" opacity="0.35"/><rect x="450.00" y="620.60" width="63.00" height="6.00" fill="#9000ff" /><rect x="450.00" y="620.60" width="63.00" height="6.00" fill="url(#p24)" /><rect x="521.00" y="572.30" width="16.00" height="2.20" fill="#a000e0" opacity="0.45"/><rect x="521.00" y="604.80" width="16.00" height="7.20" fill="#9000ff" opacity="0.35"/><rect x="521.00" y="605.80" width="16.00" height="5.00" fill="#9000ff" /><rect x="521.00" y="605.80" width="16.00" height="5.00" fill="url(#p23)" /><rect x="521.00" y="619.50" width="16.00" height="8.00" fill="#9000ff" opacity="0.35"/><rect x="521.00" y="620.60" width="16.00" height="6.00" fill="#9000ff" /><rect x="521.00" y="620.60" width="16.00" height="6.00" fill="url(#p24)" /><rect x="230.50" y="73.40" width="6.50" height="1.20" fill="#ffd0e0" /><rect x="230.50" y="218.80" width="8.80" height="1.20" fill="#ffc8e8" /><rect x="230.00" y="291.90" width="17.50" height="1.20" fill="#ffd0e0" /><rect x="231.00" y="364.10" width="8.30" height="1.20" fill="#b0b0b0" /><rect x="230.50" y="436.70" width="8.80" height="1.20" fill="#ffd0e0" /><rect x="230.50" y="508.80" width="8.80" height="1.20" fill="#ffd0e0" /><rect x="230.50" y="653.40" width="17.00" height="1.20" fill="#ffd0e0" /><line x1="230.2" y1="67.70000000000005" x2="230.2" y2="712" stroke="#282828" stroke-width="1.5" stroke-dasharray="2.5 5.7"/><line x1="408.8" y1="67.70000000000005" x2="408.8" y2="712" stroke="#282828" stroke-width="1.1" stroke-dasharray="2.5 5.7"/><line x1="587.4" y1="67.70000000000005" x2="587.4" y2="712" stroke="#282828" stroke-width="1.1" stroke-dasharray="2.5 5.7"/><rect x="225.00" y="66.70" width="11.00" height="3.80" fill="#fff" /><rect x="400.00" y="66.70" width="200.00" height="3.80" fill="#fff" /><text x="248.3" y="383.8" font-size="17.5" fill="#800020" font-weight="normal">HV det <tspan font-weight="normal">A</tspan> asked [V]:</text><text x="403.8" y="383.8" font-size="17.5" fill="#800020" font-weight="normal">1480 set:</text><text x="475" y="383.8" font-size="17.5" fill="#800020" font-weight="normal">1480</text><text x="517" y="383.8" font-size="17.5" fill="#800020" font-weight="normal">+−</text><text x="554" y="383.8" font-size="17.5" fill="#800020" font-weight="normal">17</text><text x="248.3" y="703.8" font-size="17.5" fill="#800020" font-weight="normal">HV det <tspan font-weight="bold">B</tspan> asked [V]:</text><text x="402" y="703.8" font-size="17.5" fill="#800020" font-weight="normal">1419 set:</text><text x="473.8" y="703.8" font-size="17.5" fill="#800020" font-weight="normal">1414</text><text x="515.8" y="703.8" font-size="17.5" fill="#800020" font-weight="normal">+−</text><text x="549.2" y="703.8" font-size="17.5" fill="#800020" font-weight="normal">10</text><text transform="translate(217.4,128.9) rotate(-90)" font-size="22" fill="#000" style="white-space:pre">4.89A</text><text transform="translate(217.4,367.4) rotate(-90)" font-size="22" fill="#000" style="white-space:pre">#3 (A2) Qu101<tspan dx="2">0</tspan><tspan dx="1">  4.31A</tspan></text><text transform="translate(217.4,456.3) rotate(-90)" font-size="22" fill="#000" style="white-space:pre">4.33A</text><text transform="translate(217.4,674.7) rotate(-90)" font-size="22" fill="#000" style="white-space:pre"># 0 (B3) Si 111  3.82A–</text><ellipse cx="199.4" cy="82.1" rx="1.95" ry="1.8" fill="none" stroke="#000" stroke-width="1.05"/><ellipse cx="199.4" cy="161.3" rx="1.95" ry="1.8" fill="none" stroke="#000" stroke-width="1.05"/><ellipse cx="199.5" cy="410.4" rx="1.95" ry="1.8" fill="none" stroke="#000" stroke-width="1.05"/><ellipse cx="199.5" cy="484.2" rx="1.95" ry="1.8" fill="none" stroke="#000" stroke-width="1.05"/><path d="M259.5,13 L387.5,13 A20,7.53 0 0 1 407.5,20.53 L407.5,53.769999999999996 A20,7.53 0 0 1 387.5,61.3 L378,61.3 L476.1,92.9 L336,61.3 L259.5,61.3 A20,7.53 0 0 1 239.5,53.769999999999996 L239.5,20.53 A20,7.53 0 0 1 259.5,13 Z" fill="#ffff99" stroke="#202020" stroke-width="0.9"/><text x="323.5" y="33.8" font-size="14.3" font-weight="bold" text-anchor="middle" style="white-space:pre"><tspan fill="#2020c8">Possibly Si (solar induced)</tspan></text><text x="323.5" y="50.8" font-size="14.3" font-weight="bold" text-anchor="middle" style="white-space:pre"><tspan fill="#2020c8">fluorescence emission</tspan></text><path d="M446.3,13.8 L573.8,13.8 A20,7.39 0 0 1 593.8,21.19 L593.8,53.81 A20,7.39 0 0 1 573.8,61.2 L495.5,61.2 L503.4,87.2 L453,61.2 L446.3,61.2 A20,7.39 0 0 1 426.3,53.81 L426.3,21.19 A20,7.39 0 0 1 446.3,13.8 Z" fill="#ffff99" stroke="#202020" stroke-width="0.9"/><text x="510" y="34.5" font-size="14.3" font-weight="bold" text-anchor="middle" style="white-space:pre"><tspan fill="#2020c8">Solar peak in the</tspan></text><text x="510" y="50.8" font-size="14.3" font-weight="bold" text-anchor="middle" style="white-space:pre"><tspan fill="#2020c8">range seen below</tspan></text><path d="M672.6,74 L800.7,74 A20,7.33 0 0 1 820.7,81.33 L820.7,113.67 A20,7.33 0 0 1 800.7,121 L672.6,121 A20,7.33 0 0 1 652.6,113.67 L652.6,113.1 L612.5,99 L652.6,101.3 L652.6,81.33 A20,7.33 0 0 1 672.6,74 Z" fill="#ffff99" stroke="#202020" stroke-width="0.9"/><text x="736.7" y="94.7" font-size="14.3" font-weight="bold" text-anchor="middle" style="white-space:pre"><tspan fill="#2020c8">Only background signal</tspan></text><text x="736.7" y="110.7" font-size="14.3" font-weight="bold" text-anchor="middle" style="white-space:pre"><tspan fill="#2020c8">seen on PHA during night</tspan></text><path d="M35.5,100.5 L163.8,100.5 A20,7.41 0 0 1 183.8,107.91 L183.8,127.5 L488.3,219.2 L183.8,140 L183.8,140.59 A20,7.41 0 0 1 163.8,148 L35.5,148 A20,7.41 0 0 1 15.5,140.59 L15.5,107.91 A20,7.41 0 0 1 35.5,100.5 Z" fill="#ffff99" stroke="#202020" stroke-width="0.9"/><text x="99.6" y="118.8" font-size="14.3" font-weight="bold" text-anchor="middle" style="white-space:pre"><tspan fill="#2020c8">S XVI 1s - 2p Lyα</tspan></text><text x="99.6" y="135.8" font-size="14.3" font-weight="bold" text-anchor="middle" style="white-space:pre"><tspan fill="#2020c8">line  and satellites</tspan></text><path d="M42.2,281.4 L170,281.4 A20,10.2 0 0 1 190,291.59999999999997 L190,319.8 L407.5,380.8 L190,335.4 L190,336.6 A20,10.2 0 0 1 170,346.8 L42.2,346.8 A20,10.2 0 0 1 22.2,336.6 L22.2,291.59999999999997 A20,10.2 0 0 1 42.2,281.4 Z" fill="#ffff99" stroke="#202020" stroke-width="0.9"/><text x="106.1" y="311.2" font-size="14.3" font-weight="bold" text-anchor="middle" style="white-space:pre"><tspan fill="#2020c8">Detector </tspan><tspan fill="#000">A</tspan><tspan fill="#2020c8"> ‘standard’</tspan></text><text x="106.1" y="328.3" font-size="14.3" font-weight="bold" text-anchor="middle" style="white-space:pre"><tspan fill="#2020c8">HV setting </tspan><tspan fill="#ff0000">1480</tspan><tspan fill="#2020c8"> V</tspan></text><path d="M673,292.5 L800.7,292.5 A20,10.3 0 0 1 820.7,302.8 L820.7,348.2 A20,10.3 0 0 1 800.7,358.5 L673,358.5 A20,10.3 0 0 1 653,348.2 L653,348 L523.8,378.8 L653,331.3 L653,302.8 A20,10.3 0 0 1 673,292.5 Z" fill="#ffff99" stroke="#202020" stroke-width="0.9"/><text x="736.9" y="313.3" font-size="14.3" font-weight="bold" text-anchor="middle" style="white-space:pre"><tspan fill="#2020c8">‘Control’ Detector </tspan><tspan fill="#000">A</tspan></text><text x="736.9" y="330.5" font-size="14.3" font-weight="bold" text-anchor="middle" style="white-space:pre"><tspan fill="#2020c8">HV readout </tspan><tspan fill="#ff0000">1480</tspan><tspan fill="#2020c8"> V</tspan></text><text x="736.9" y="347.4" font-size="14.3" font-weight="bold" text-anchor="middle" style="white-space:pre"><tspan fill="#2020c8">with readout noise ±17 V</tspan></text><path d="M42.7,514.8 L171,514.8 A20,10.33 0 0 1 191,525.13 L191,554 L465.5,624.3 L191,569.7 L191,570.67 A20,10.33 0 0 1 171,581 L42.7,581 A20,10.33 0 0 1 22.7,570.67 L22.7,525.13 A20,10.33 0 0 1 42.7,514.8 Z" fill="#ffff99" stroke="#202020" stroke-width="0.9"/><text x="106.9" y="535.5" font-size="14.3" font-weight="bold" text-anchor="middle" style="white-space:pre"><tspan fill="#2020c8">Ar XVII 1s²</tspan><tspan fill="#2020c8"> - 1s2p </tspan><tspan fill="#000" font-style="italic">w</tspan></text><text x="106.9" y="552.6" font-size="14.3" font-weight="bold" text-anchor="middle" style="white-space:pre"><tspan fill="#2020c8">resonance line</tspan></text><text x="106.9" y="569.7" font-size="14.3" font-weight="bold" text-anchor="middle" style="white-space:pre"><tspan fill="#2020c8">and satellites</tspan></text><path d="M670.2,515.2 L797.4,515.2 A20,10.26 0 0 1 817.4,525.46 L817.4,570.74 A20,10.26 0 0 1 797.4,581 L670.2,581 A20,10.26 0 0 1 650.2,570.74 L650.2,570.7 L485,608 L650.2,554 L650.2,525.46 A20,10.26 0 0 1 670.2,515.2 Z" fill="#ffff99" stroke="#202020" stroke-width="0.9"/><text x="733.8" y="535.5" font-size="14.3" font-weight="bold" text-anchor="middle" style="white-space:pre"><tspan fill="#2020c8">Ar XVII 1s²</tspan><tspan fill="#2020c8"> - 1s2p </tspan><tspan fill="#000" font-style="italic">z</tspan></text><text x="733.8" y="552.7" font-size="14.3" font-weight="bold" text-anchor="middle" style="white-space:pre"><tspan fill="#2020c8">forbidden line</tspan></text><text x="733.8" y="569.3" font-size="14.3" font-weight="bold" text-anchor="middle" style="white-space:pre"><tspan fill="#2020c8">and satellites</tspan></text><path d="M118.2,727.5 L245.8,727.5 A20,10.22 0 0 1 265.8,737.72 L265.8,738.8 L405.5,705 L265.8,755 L265.8,782.78 A20,10.22 0 0 1 245.8,793 L118.2,793 A20,10.22 0 0 1 98.2,782.78 L98.2,737.72 A20,10.22 0 0 1 118.2,727.5 Z" fill="#ffff99" stroke="#202020" stroke-width="0.9"/><text x="182" y="757.5" font-size="14.3" font-weight="bold" text-anchor="middle" style="white-space:pre"><tspan fill="#2020c8">Detector </tspan><tspan fill="#000">B</tspan><tspan fill="#2020c8"> ‘standard’</tspan></text><text x="182" y="773.8" font-size="14.3" font-weight="bold" text-anchor="middle" style="white-space:pre"><tspan fill="#2020c8">HV setting </tspan><tspan fill="#ff0000">1419</tspan><tspan fill="#2020c8"> V</tspan></text><path d="M669.3,712.5 L797.5,712.5 A20,10.22 0 0 1 817.5,722.72 L817.5,767.78 A20,10.22 0 0 1 797.5,778 L669.3,778 A20,10.22 0 0 1 649.3,767.78 L649.3,740 L525,700 L649.3,723.8 L649.3,722.72 A20,10.22 0 0 1 669.3,712.5 Z" fill="#ffff99" stroke="#202020" stroke-width="0.9"/><text x="733.4" y="733.8" font-size="14.3" font-weight="bold" text-anchor="middle" style="white-space:pre"><tspan fill="#2020c8">‘Control’ Detector </tspan><tspan fill="#000">B</tspan></text><text x="733.4" y="750" font-size="14.3" font-weight="bold" text-anchor="middle" style="white-space:pre"><tspan fill="#2020c8">HV readout </tspan><tspan fill="#ff0000">1414</tspan><tspan fill="#2020c8"> V</tspan></text><text x="733.4" y="767" font-size="14.3" font-weight="bold" text-anchor="middle" style="white-space:pre"><tspan fill="#2020c8">with readout noise ±10 V</tspan></text></svg></body></html>
